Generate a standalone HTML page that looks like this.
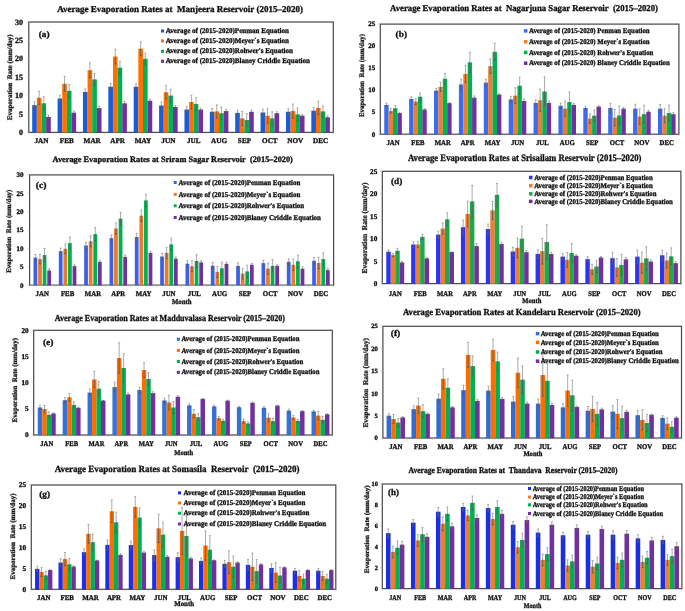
<!DOCTYPE html>
<html><head><meta charset="utf-8"><style>
html,body{margin:0;padding:0;background:#fff;}
body{width:685px;height:611px;overflow:hidden;}
svg{display:block;white-space:pre;will-change:transform;opacity:0.999;text-rendering:geometricPrecision;filter:blur(0.3px);font-family:"Liberation Serif",serif;font-weight:bold;}
</style></head><body>
<svg width="685" height="611" viewBox="0 0 685 611">
<rect width="685" height="611" fill="#fff"/>
<rect x="28.80" y="22.00" width="304.50" height="110.40" fill="none" stroke="#474747" stroke-width="1.2"/>
<rect x="32.20" y="105.17" width="4.64" height="27.48" fill="#1a5cd6"/>
<rect x="36.84" y="97.81" width="4.64" height="34.84" fill="#ff6f00"/>
<rect x="41.49" y="103.33" width="4.64" height="29.32" fill="#00b050"/>
<rect x="46.13" y="116.94" width="4.64" height="15.71" fill="#7030a0"/>
<rect x="57.58" y="98.54" width="4.64" height="34.11" fill="#1a5cd6"/>
<rect x="62.22" y="83.82" width="4.64" height="48.83" fill="#ff6f00"/>
<rect x="66.86" y="90.82" width="4.64" height="41.83" fill="#00b050"/>
<rect x="71.51" y="112.71" width="4.64" height="19.94" fill="#7030a0"/>
<rect x="82.95" y="91.92" width="4.64" height="40.73" fill="#1a5cd6"/>
<rect x="87.59" y="70.21" width="4.64" height="62.44" fill="#ff6f00"/>
<rect x="92.24" y="79.41" width="4.64" height="53.24" fill="#00b050"/>
<rect x="96.88" y="108.11" width="4.64" height="24.54" fill="#7030a0"/>
<rect x="108.33" y="86.77" width="4.64" height="45.88" fill="#1a5cd6"/>
<rect x="112.97" y="56.59" width="4.64" height="76.06" fill="#ff6f00"/>
<rect x="117.61" y="67.63" width="4.64" height="65.02" fill="#00b050"/>
<rect x="122.26" y="103.33" width="4.64" height="29.32" fill="#7030a0"/>
<rect x="133.70" y="86.77" width="4.64" height="45.88" fill="#1a5cd6"/>
<rect x="138.34" y="48.68" width="4.64" height="83.97" fill="#ff6f00"/>
<rect x="142.99" y="58.80" width="4.64" height="73.85" fill="#00b050"/>
<rect x="147.63" y="100.75" width="4.64" height="31.90" fill="#7030a0"/>
<rect x="159.08" y="105.54" width="4.64" height="27.11" fill="#1a5cd6"/>
<rect x="163.72" y="92.29" width="4.64" height="40.36" fill="#ff6f00"/>
<rect x="168.36" y="95.60" width="4.64" height="37.05" fill="#00b050"/>
<rect x="173.01" y="107.01" width="4.64" height="25.64" fill="#7030a0"/>
<rect x="184.45" y="109.58" width="4.64" height="23.07" fill="#1a5cd6"/>
<rect x="189.09" y="102.04" width="4.64" height="30.61" fill="#ff6f00"/>
<rect x="193.74" y="104.06" width="4.64" height="28.59" fill="#00b050"/>
<rect x="198.38" y="109.58" width="4.64" height="23.07" fill="#7030a0"/>
<rect x="209.83" y="111.79" width="4.64" height="20.86" fill="#1a5cd6"/>
<rect x="214.47" y="111.42" width="4.64" height="21.23" fill="#ff6f00"/>
<rect x="219.11" y="113.26" width="4.64" height="19.39" fill="#00b050"/>
<rect x="223.76" y="111.06" width="4.64" height="21.59" fill="#7030a0"/>
<rect x="235.20" y="112.90" width="4.64" height="19.75" fill="#1a5cd6"/>
<rect x="239.84" y="118.42" width="4.64" height="14.23" fill="#ff6f00"/>
<rect x="244.49" y="120.07" width="4.64" height="12.58" fill="#00b050"/>
<rect x="249.13" y="111.79" width="4.64" height="20.86" fill="#7030a0"/>
<rect x="260.58" y="112.53" width="4.64" height="20.12" fill="#1a5cd6"/>
<rect x="265.22" y="115.84" width="4.64" height="16.81" fill="#ff6f00"/>
<rect x="269.86" y="118.42" width="4.64" height="14.23" fill="#00b050"/>
<rect x="274.51" y="113.26" width="4.64" height="19.39" fill="#7030a0"/>
<rect x="285.95" y="111.79" width="4.64" height="20.86" fill="#1a5cd6"/>
<rect x="290.59" y="111.06" width="4.64" height="21.59" fill="#ff6f00"/>
<rect x="295.24" y="114.37" width="4.64" height="18.28" fill="#00b050"/>
<rect x="299.88" y="115.66" width="4.64" height="16.99" fill="#7030a0"/>
<rect x="311.33" y="110.69" width="4.64" height="21.96" fill="#1a5cd6"/>
<rect x="315.97" y="107.93" width="4.64" height="24.72" fill="#ff6f00"/>
<rect x="320.61" y="111.42" width="4.64" height="21.23" fill="#00b050"/>
<rect x="325.26" y="117.31" width="4.64" height="15.34" fill="#7030a0"/>
<path d="M34.52 101.86V108.48M33.52 101.86H35.52M33.52 108.48H35.52" stroke="#8f8f8f" stroke-width="0.75" fill="none"/>
<path d="M34.52 105.17V108.48M33.52 108.48H35.52" stroke="#202020" stroke-opacity="0.5" stroke-width="0.75" fill="none"/>
<path d="M39.17 91.18V104.43M38.17 91.18H40.17M38.17 104.43H40.17" stroke="#8f8f8f" stroke-width="0.75" fill="none"/>
<path d="M39.17 97.81V104.43M38.17 104.43H40.17" stroke="#202020" stroke-opacity="0.5" stroke-width="0.75" fill="none"/>
<path d="M43.81 96.70V109.95M42.81 96.70H44.81M42.81 109.95H44.81" stroke="#8f8f8f" stroke-width="0.75" fill="none"/>
<path d="M43.81 103.33V109.95M42.81 109.95H44.81" stroke="#202020" stroke-opacity="0.5" stroke-width="0.75" fill="none"/>
<path d="M48.45 115.10V118.78M47.45 115.10H49.45M47.45 118.78H49.45" stroke="#8f8f8f" stroke-width="0.75" fill="none"/>
<path d="M48.45 116.94V118.78M47.45 118.78H49.45" stroke="#202020" stroke-opacity="0.5" stroke-width="0.75" fill="none"/>
<path d="M59.90 95.23V101.86M58.90 95.23H60.90M58.90 101.86H60.90" stroke="#8f8f8f" stroke-width="0.75" fill="none"/>
<path d="M59.90 98.54V101.86M58.90 101.86H60.90" stroke="#202020" stroke-opacity="0.5" stroke-width="0.75" fill="none"/>
<path d="M64.54 76.46V91.18M63.54 76.46H65.54M63.54 91.18H65.54" stroke="#8f8f8f" stroke-width="0.75" fill="none"/>
<path d="M64.54 83.82V91.18M63.54 91.18H65.54" stroke="#202020" stroke-opacity="0.5" stroke-width="0.75" fill="none"/>
<path d="M69.18 84.56V97.07M68.18 84.56H70.18M68.18 97.07H70.18" stroke="#8f8f8f" stroke-width="0.75" fill="none"/>
<path d="M69.18 90.82V97.07M68.18 97.07H70.18" stroke="#202020" stroke-opacity="0.5" stroke-width="0.75" fill="none"/>
<path d="M73.83 111.06V114.37M72.83 111.06H74.83M72.83 114.37H74.83" stroke="#8f8f8f" stroke-width="0.75" fill="none"/>
<path d="M73.83 112.71V114.37M72.83 114.37H74.83" stroke="#202020" stroke-opacity="0.5" stroke-width="0.75" fill="none"/>
<path d="M85.27 88.98V94.86M84.27 88.98H86.27M84.27 94.86H86.27" stroke="#8f8f8f" stroke-width="0.75" fill="none"/>
<path d="M85.27 91.92V94.86M84.27 94.86H86.27" stroke="#202020" stroke-opacity="0.5" stroke-width="0.75" fill="none"/>
<path d="M89.92 62.85V77.57M88.92 62.85H90.92M88.92 77.57H90.92" stroke="#8f8f8f" stroke-width="0.75" fill="none"/>
<path d="M89.92 70.21V77.57M88.92 77.57H90.92" stroke="#202020" stroke-opacity="0.5" stroke-width="0.75" fill="none"/>
<path d="M94.56 73.52V85.30M93.56 73.52H95.56M93.56 85.30H95.56" stroke="#8f8f8f" stroke-width="0.75" fill="none"/>
<path d="M94.56 79.41V85.30M93.56 85.30H95.56" stroke="#202020" stroke-opacity="0.5" stroke-width="0.75" fill="none"/>
<path d="M99.20 106.27V109.95M98.20 106.27H100.20M98.20 109.95H100.20" stroke="#8f8f8f" stroke-width="0.75" fill="none"/>
<path d="M99.20 108.11V109.95M98.20 109.95H100.20" stroke="#202020" stroke-opacity="0.5" stroke-width="0.75" fill="none"/>
<path d="M110.65 83.46V90.08M109.65 83.46H111.65M109.65 90.08H111.65" stroke="#8f8f8f" stroke-width="0.75" fill="none"/>
<path d="M110.65 86.77V90.08M109.65 90.08H111.65" stroke="#202020" stroke-opacity="0.5" stroke-width="0.75" fill="none"/>
<path d="M115.29 49.23V63.95M114.29 49.23H116.29M114.29 63.95H116.29" stroke="#8f8f8f" stroke-width="0.75" fill="none"/>
<path d="M115.29 56.59V63.95M114.29 63.95H116.29" stroke="#202020" stroke-opacity="0.5" stroke-width="0.75" fill="none"/>
<path d="M119.93 61.38V73.89M118.93 61.38H120.93M118.93 73.89H120.93" stroke="#8f8f8f" stroke-width="0.75" fill="none"/>
<path d="M119.93 67.63V73.89M118.93 73.89H120.93" stroke="#202020" stroke-opacity="0.5" stroke-width="0.75" fill="none"/>
<path d="M124.58 101.49V105.17M123.58 101.49H125.58M123.58 105.17H125.58" stroke="#8f8f8f" stroke-width="0.75" fill="none"/>
<path d="M124.58 103.33V105.17M123.58 105.17H125.58" stroke="#202020" stroke-opacity="0.5" stroke-width="0.75" fill="none"/>
<path d="M136.02 83.82V89.71M135.02 83.82H137.02M135.02 89.71H137.02" stroke="#8f8f8f" stroke-width="0.75" fill="none"/>
<path d="M136.02 86.77V89.71M135.02 89.71H137.02" stroke="#202020" stroke-opacity="0.5" stroke-width="0.75" fill="none"/>
<path d="M140.67 41.69V55.67M139.67 41.69H141.67M139.67 55.67H141.67" stroke="#8f8f8f" stroke-width="0.75" fill="none"/>
<path d="M140.67 48.68V55.67M139.67 55.67H141.67" stroke="#202020" stroke-opacity="0.5" stroke-width="0.75" fill="none"/>
<path d="M145.31 53.28V64.32M144.31 53.28H146.31M144.31 64.32H146.31" stroke="#8f8f8f" stroke-width="0.75" fill="none"/>
<path d="M145.31 58.80V64.32M144.31 64.32H146.31" stroke="#202020" stroke-opacity="0.5" stroke-width="0.75" fill="none"/>
<path d="M149.95 99.28V102.22M148.95 99.28H150.95M148.95 102.22H150.95" stroke="#8f8f8f" stroke-width="0.75" fill="none"/>
<path d="M149.95 100.75V102.22M148.95 102.22H150.95" stroke="#202020" stroke-opacity="0.5" stroke-width="0.75" fill="none"/>
<path d="M161.40 102.22V108.85M160.40 102.22H162.40M160.40 108.85H162.40" stroke="#8f8f8f" stroke-width="0.75" fill="none"/>
<path d="M161.40 105.54V108.85M160.40 108.85H162.40" stroke="#202020" stroke-opacity="0.5" stroke-width="0.75" fill="none"/>
<path d="M166.04 85.66V98.91M165.04 85.66H167.04M165.04 98.91H167.04" stroke="#8f8f8f" stroke-width="0.75" fill="none"/>
<path d="M166.04 92.29V98.91M165.04 98.91H167.04" stroke="#202020" stroke-opacity="0.5" stroke-width="0.75" fill="none"/>
<path d="M170.68 89.34V101.86M169.68 89.34H171.68M169.68 101.86H171.68" stroke="#8f8f8f" stroke-width="0.75" fill="none"/>
<path d="M170.68 95.60V101.86M169.68 101.86H171.68" stroke="#202020" stroke-opacity="0.5" stroke-width="0.75" fill="none"/>
<path d="M175.33 105.54V108.48M174.33 105.54H176.33M174.33 108.48H176.33" stroke="#8f8f8f" stroke-width="0.75" fill="none"/>
<path d="M175.33 107.01V108.48M174.33 108.48H176.33" stroke="#202020" stroke-opacity="0.5" stroke-width="0.75" fill="none"/>
<path d="M186.77 106.64V112.53M185.77 106.64H187.77M185.77 112.53H187.77" stroke="#8f8f8f" stroke-width="0.75" fill="none"/>
<path d="M186.77 109.58V112.53M185.77 112.53H187.77" stroke="#202020" stroke-opacity="0.5" stroke-width="0.75" fill="none"/>
<path d="M191.42 95.23V108.85M190.42 95.23H192.42M190.42 108.85H192.42" stroke="#8f8f8f" stroke-width="0.75" fill="none"/>
<path d="M191.42 102.04V108.85M190.42 108.85H192.42" stroke="#202020" stroke-opacity="0.5" stroke-width="0.75" fill="none"/>
<path d="M196.06 97.81V110.32M195.06 97.81H197.06M195.06 110.32H197.06" stroke="#8f8f8f" stroke-width="0.75" fill="none"/>
<path d="M196.06 104.06V110.32M195.06 110.32H197.06" stroke="#202020" stroke-opacity="0.5" stroke-width="0.75" fill="none"/>
<path d="M200.70 108.11V111.06M199.70 108.11H201.70M199.70 111.06H201.70" stroke="#8f8f8f" stroke-width="0.75" fill="none"/>
<path d="M200.70 109.58V111.06M199.70 111.06H201.70" stroke="#202020" stroke-opacity="0.5" stroke-width="0.75" fill="none"/>
<path d="M212.15 108.48V115.10M211.15 108.48H213.15M211.15 115.10H213.15" stroke="#8f8f8f" stroke-width="0.75" fill="none"/>
<path d="M212.15 111.79V115.10M211.15 115.10H213.15" stroke="#202020" stroke-opacity="0.5" stroke-width="0.75" fill="none"/>
<path d="M216.79 104.80V118.05M215.79 104.80H217.79M215.79 118.05H217.79" stroke="#8f8f8f" stroke-width="0.75" fill="none"/>
<path d="M216.79 111.42V118.05M215.79 118.05H217.79" stroke="#202020" stroke-opacity="0.5" stroke-width="0.75" fill="none"/>
<path d="M221.43 107.01V119.52M220.43 107.01H222.43M220.43 119.52H222.43" stroke="#8f8f8f" stroke-width="0.75" fill="none"/>
<path d="M221.43 113.26V119.52M220.43 119.52H222.43" stroke="#202020" stroke-opacity="0.5" stroke-width="0.75" fill="none"/>
<path d="M226.08 109.22V112.90M225.08 109.22H227.08M225.08 112.90H227.08" stroke="#8f8f8f" stroke-width="0.75" fill="none"/>
<path d="M226.08 111.06V112.90M225.08 112.90H227.08" stroke="#202020" stroke-opacity="0.5" stroke-width="0.75" fill="none"/>
<path d="M237.52 110.14V115.66M236.52 110.14H238.52M236.52 115.66H238.52" stroke="#8f8f8f" stroke-width="0.75" fill="none"/>
<path d="M237.52 112.90V115.66M236.52 115.66H238.52" stroke="#202020" stroke-opacity="0.5" stroke-width="0.75" fill="none"/>
<path d="M242.17 111.42V125.41M241.17 111.42H243.17M241.17 125.41H243.17" stroke="#8f8f8f" stroke-width="0.75" fill="none"/>
<path d="M242.17 118.42V125.41M241.17 125.41H243.17" stroke="#202020" stroke-opacity="0.5" stroke-width="0.75" fill="none"/>
<path d="M246.81 113.82V126.33M245.81 113.82H247.81M245.81 126.33H247.81" stroke="#8f8f8f" stroke-width="0.75" fill="none"/>
<path d="M246.81 120.07V126.33M245.81 126.33H247.81" stroke="#202020" stroke-opacity="0.5" stroke-width="0.75" fill="none"/>
<path d="M251.45 109.95V113.63M250.45 109.95H252.45M250.45 113.63H252.45" stroke="#8f8f8f" stroke-width="0.75" fill="none"/>
<path d="M251.45 111.79V113.63M250.45 113.63H252.45" stroke="#202020" stroke-opacity="0.5" stroke-width="0.75" fill="none"/>
<path d="M262.90 109.22V115.84M261.90 109.22H263.90M261.90 115.84H263.90" stroke="#8f8f8f" stroke-width="0.75" fill="none"/>
<path d="M262.90 112.53V115.84M261.90 115.84H263.90" stroke="#202020" stroke-opacity="0.5" stroke-width="0.75" fill="none"/>
<path d="M267.54 108.66V123.02M266.54 108.66H268.54M266.54 123.02H268.54" stroke="#8f8f8f" stroke-width="0.75" fill="none"/>
<path d="M267.54 115.84V123.02M266.54 123.02H268.54" stroke="#202020" stroke-opacity="0.5" stroke-width="0.75" fill="none"/>
<path d="M272.18 111.79V125.04M271.18 111.79H273.18M271.18 125.04H273.18" stroke="#8f8f8f" stroke-width="0.75" fill="none"/>
<path d="M272.18 118.42V125.04M271.18 125.04H273.18" stroke="#202020" stroke-opacity="0.5" stroke-width="0.75" fill="none"/>
<path d="M276.83 111.79V114.74M275.83 111.79H277.83M275.83 114.74H277.83" stroke="#8f8f8f" stroke-width="0.75" fill="none"/>
<path d="M276.83 113.26V114.74M275.83 114.74H277.83" stroke="#202020" stroke-opacity="0.5" stroke-width="0.75" fill="none"/>
<path d="M288.27 108.66V114.92M287.27 108.66H289.27M287.27 114.92H289.27" stroke="#8f8f8f" stroke-width="0.75" fill="none"/>
<path d="M288.27 111.79V114.92M287.27 114.92H289.27" stroke="#202020" stroke-opacity="0.5" stroke-width="0.75" fill="none"/>
<path d="M292.92 104.06V118.05M291.92 104.06H293.92M291.92 118.05H293.92" stroke="#8f8f8f" stroke-width="0.75" fill="none"/>
<path d="M292.92 111.06V118.05M291.92 118.05H293.92" stroke="#202020" stroke-opacity="0.5" stroke-width="0.75" fill="none"/>
<path d="M297.56 107.93V120.81M296.56 107.93H298.56M296.56 120.81H298.56" stroke="#8f8f8f" stroke-width="0.75" fill="none"/>
<path d="M297.56 114.37V120.81M296.56 120.81H298.56" stroke="#202020" stroke-opacity="0.5" stroke-width="0.75" fill="none"/>
<path d="M302.20 114.18V117.13M301.20 114.18H303.20M301.20 117.13H303.20" stroke="#8f8f8f" stroke-width="0.75" fill="none"/>
<path d="M302.20 115.66V117.13M301.20 117.13H303.20" stroke="#202020" stroke-opacity="0.5" stroke-width="0.75" fill="none"/>
<path d="M313.65 107.38V114.00M312.65 107.38H314.65M312.65 114.00H314.65" stroke="#8f8f8f" stroke-width="0.75" fill="none"/>
<path d="M313.65 110.69V114.00M312.65 114.00H314.65" stroke="#202020" stroke-opacity="0.5" stroke-width="0.75" fill="none"/>
<path d="M318.29 101.12V114.74M317.29 101.12H319.29M317.29 114.74H319.29" stroke="#8f8f8f" stroke-width="0.75" fill="none"/>
<path d="M318.29 107.93V114.74M317.29 114.74H319.29" stroke="#202020" stroke-opacity="0.5" stroke-width="0.75" fill="none"/>
<path d="M322.93 105.90V116.94M321.93 105.90H323.93M321.93 116.94H323.93" stroke="#8f8f8f" stroke-width="0.75" fill="none"/>
<path d="M322.93 111.42V116.94M321.93 116.94H323.93" stroke="#202020" stroke-opacity="0.5" stroke-width="0.75" fill="none"/>
<path d="M327.58 115.84V118.78M326.58 115.84H328.58M326.58 118.78H328.58" stroke="#8f8f8f" stroke-width="0.75" fill="none"/>
<path d="M327.58 117.31V118.78M326.58 118.78H328.58" stroke="#202020" stroke-opacity="0.5" stroke-width="0.75" fill="none"/>
<line x1="28.80" y1="132.40" x2="28.80" y2="134.40" stroke="#b0b0b0" stroke-width="0.6"/>
<line x1="54.17" y1="132.40" x2="54.17" y2="134.40" stroke="#b0b0b0" stroke-width="0.6"/>
<line x1="79.55" y1="132.40" x2="79.55" y2="134.40" stroke="#b0b0b0" stroke-width="0.6"/>
<line x1="104.92" y1="132.40" x2="104.92" y2="134.40" stroke="#b0b0b0" stroke-width="0.6"/>
<line x1="130.30" y1="132.40" x2="130.30" y2="134.40" stroke="#b0b0b0" stroke-width="0.6"/>
<line x1="155.68" y1="132.40" x2="155.68" y2="134.40" stroke="#b0b0b0" stroke-width="0.6"/>
<line x1="181.05" y1="132.40" x2="181.05" y2="134.40" stroke="#b0b0b0" stroke-width="0.6"/>
<line x1="206.43" y1="132.40" x2="206.43" y2="134.40" stroke="#b0b0b0" stroke-width="0.6"/>
<line x1="231.80" y1="132.40" x2="231.80" y2="134.40" stroke="#b0b0b0" stroke-width="0.6"/>
<line x1="257.18" y1="132.40" x2="257.18" y2="134.40" stroke="#b0b0b0" stroke-width="0.6"/>
<line x1="282.55" y1="132.40" x2="282.55" y2="134.40" stroke="#b0b0b0" stroke-width="0.6"/>
<line x1="307.93" y1="132.40" x2="307.93" y2="134.40" stroke="#b0b0b0" stroke-width="0.6"/>
<line x1="333.30" y1="132.40" x2="333.30" y2="134.40" stroke="#b0b0b0" stroke-width="0.6"/>
<text x="23.10" y="135.04" font-size="8.0" text-anchor="end" fill="#0d0d0d" stroke="#0d0d0d" stroke-width="0.3">0</text>
<line x1="26.80" y1="132.40" x2="28.80" y2="132.40" stroke="#b0b0b0" stroke-width="0.6"/>
<text x="23.10" y="116.64" font-size="8.0" text-anchor="end" fill="#0d0d0d" stroke="#0d0d0d" stroke-width="0.3">5</text>
<line x1="26.80" y1="114.00" x2="28.80" y2="114.00" stroke="#b0b0b0" stroke-width="0.6"/>
<text x="23.10" y="98.24" font-size="8.0" text-anchor="end" fill="#0d0d0d" stroke="#0d0d0d" stroke-width="0.3">10</text>
<line x1="26.80" y1="95.60" x2="28.80" y2="95.60" stroke="#b0b0b0" stroke-width="0.6"/>
<text x="23.10" y="79.84" font-size="8.0" text-anchor="end" fill="#0d0d0d" stroke="#0d0d0d" stroke-width="0.3">15</text>
<line x1="26.80" y1="77.20" x2="28.80" y2="77.20" stroke="#b0b0b0" stroke-width="0.6"/>
<text x="23.10" y="61.44" font-size="8.0" text-anchor="end" fill="#0d0d0d" stroke="#0d0d0d" stroke-width="0.3">20</text>
<line x1="26.80" y1="58.80" x2="28.80" y2="58.80" stroke="#b0b0b0" stroke-width="0.6"/>
<text x="23.10" y="43.04" font-size="8.0" text-anchor="end" fill="#0d0d0d" stroke="#0d0d0d" stroke-width="0.3">25</text>
<line x1="26.80" y1="40.40" x2="28.80" y2="40.40" stroke="#b0b0b0" stroke-width="0.6"/>
<text x="23.10" y="24.64" font-size="8.0" text-anchor="end" fill="#0d0d0d" stroke="#0d0d0d" stroke-width="0.3">30</text>
<line x1="26.80" y1="22.00" x2="28.80" y2="22.00" stroke="#b0b0b0" stroke-width="0.6"/>
<text x="41.49" y="143.38" font-size="7.2" text-anchor="middle" textLength="14.00" lengthAdjust="spacingAndGlyphs" fill="#0d0d0d" stroke="#0d0d0d" stroke-width="0.3">JAN</text>
<text x="66.86" y="143.38" font-size="7.2" text-anchor="middle" textLength="14.00" lengthAdjust="spacingAndGlyphs" fill="#0d0d0d" stroke="#0d0d0d" stroke-width="0.3">FEB</text>
<text x="92.24" y="143.38" font-size="7.2" text-anchor="middle" textLength="17.20" lengthAdjust="spacingAndGlyphs" fill="#0d0d0d" stroke="#0d0d0d" stroke-width="0.3">MAR</text>
<text x="117.61" y="143.38" font-size="7.2" text-anchor="middle" textLength="14.80" lengthAdjust="spacingAndGlyphs" fill="#0d0d0d" stroke="#0d0d0d" stroke-width="0.3">APR</text>
<text x="142.99" y="143.38" font-size="7.2" text-anchor="middle" textLength="16.54" lengthAdjust="spacingAndGlyphs" fill="#0d0d0d" stroke="#0d0d0d" stroke-width="0.3">MAY</text>
<text x="168.36" y="143.38" font-size="7.2" text-anchor="middle" textLength="14.00" lengthAdjust="spacingAndGlyphs" fill="#0d0d0d" stroke="#0d0d0d" stroke-width="0.3">JUN</text>
<text x="193.74" y="143.38" font-size="7.2" text-anchor="middle" textLength="13.60" lengthAdjust="spacingAndGlyphs" fill="#0d0d0d" stroke="#0d0d0d" stroke-width="0.3">JUL</text>
<text x="219.11" y="143.38" font-size="7.2" text-anchor="middle" textLength="16.00" lengthAdjust="spacingAndGlyphs" fill="#0d0d0d" stroke="#0d0d0d" stroke-width="0.3">AUG</text>
<text x="244.49" y="143.38" font-size="7.2" text-anchor="middle" textLength="13.20" lengthAdjust="spacingAndGlyphs" fill="#0d0d0d" stroke="#0d0d0d" stroke-width="0.3">SEP</text>
<text x="269.86" y="143.38" font-size="7.2" text-anchor="middle" textLength="15.60" lengthAdjust="spacingAndGlyphs" fill="#0d0d0d" stroke="#0d0d0d" stroke-width="0.3">OCT</text>
<text x="295.24" y="143.38" font-size="7.2" text-anchor="middle" textLength="16.00" lengthAdjust="spacingAndGlyphs" fill="#0d0d0d" stroke="#0d0d0d" stroke-width="0.3">NOV</text>
<text x="320.61" y="143.38" font-size="7.2" text-anchor="middle" textLength="15.20" lengthAdjust="spacingAndGlyphs" fill="#0d0d0d" stroke="#0d0d0d" stroke-width="0.3">DEC</text>
<text transform="translate(12.15 77.30) rotate(-90)" x="0" y="0" font-size="7" text-anchor="middle" textLength="86.00" lengthAdjust="spacingAndGlyphs" fill="#1a1a1a" stroke="#1a1a1a" stroke-width="0.3">Evaporation  Rate (mm/day)</text>
<text x="57.20" y="12.00" font-size="9.0" textLength="245.80" lengthAdjust="spacingAndGlyphs" fill="#0d0d0d" stroke="#0d0d0d" stroke-width="0.3">Average Evaporation Rates at  Manjeera Reservoir (2015–2020)</text>
<text x="38.70" y="36.60" font-size="8.8" textLength="10.90" lengthAdjust="spacingAndGlyphs" fill="#0d0d0d" stroke="#0d0d0d" stroke-width="0.3">(a)</text>
<rect x="161.00" y="29.45" width="3.10" height="3.10" fill="#1a5cd6"/>
<text x="165.80" y="33.14" font-size="7.4" textLength="123.20" lengthAdjust="spacingAndGlyphs" fill="#0d0d0d" stroke="#0d0d0d" stroke-width="0.3">Average of (2015-2020)Penman Equation</text>
<rect x="161.00" y="39.35" width="3.10" height="3.10" fill="#ff6f00"/>
<text x="165.80" y="43.04" font-size="7.4" textLength="123.19" lengthAdjust="spacingAndGlyphs" fill="#0d0d0d" stroke="#0d0d0d" stroke-width="0.3">Average of (2015-2020)Meyer`s Equation</text>
<rect x="161.00" y="49.75" width="3.10" height="3.10" fill="#00b050"/>
<text x="165.80" y="53.44" font-size="7.4" textLength="127.11" lengthAdjust="spacingAndGlyphs" fill="#0d0d0d" stroke="#0d0d0d" stroke-width="0.3">Average of (2015-2020)Rohwer's Equation</text>
<rect x="161.00" y="59.75" width="3.10" height="3.10" fill="#7030a0"/>
<text x="165.80" y="63.44" font-size="7.4" textLength="144.12" lengthAdjust="spacingAndGlyphs" fill="#0d0d0d" stroke="#0d0d0d" stroke-width="0.3">Average of (2015-2020)Blaney Criddle Equation</text>
<rect x="380.30" y="24.10" width="298.60" height="110.10" fill="none" stroke="#474747" stroke-width="1.2"/>
<rect x="384.25" y="104.91" width="4.40" height="29.54" fill="#3a6cec"/>
<rect x="388.64" y="110.86" width="4.40" height="23.59" fill="#ed7d31"/>
<rect x="393.04" y="108.22" width="4.40" height="26.23" fill="#00b050"/>
<rect x="397.44" y="113.06" width="4.40" height="21.39" fill="#7030a0"/>
<rect x="409.13" y="98.97" width="4.40" height="35.48" fill="#3a6cec"/>
<rect x="413.53" y="101.61" width="4.40" height="32.84" fill="#ed7d31"/>
<rect x="417.93" y="96.77" width="4.40" height="37.68" fill="#00b050"/>
<rect x="422.32" y="109.54" width="4.40" height="24.91" fill="#7030a0"/>
<rect x="434.01" y="90.60" width="4.40" height="43.85" fill="#3a6cec"/>
<rect x="438.41" y="86.86" width="4.40" height="47.59" fill="#ed7d31"/>
<rect x="442.81" y="78.71" width="4.40" height="55.74" fill="#00b050"/>
<rect x="447.21" y="103.15" width="4.40" height="31.30" fill="#7030a0"/>
<rect x="458.90" y="84.43" width="4.40" height="50.02" fill="#3a6cec"/>
<rect x="463.29" y="73.87" width="4.40" height="60.58" fill="#ed7d31"/>
<rect x="467.69" y="62.41" width="4.40" height="72.04" fill="#00b050"/>
<rect x="472.09" y="97.65" width="4.40" height="36.80" fill="#7030a0"/>
<rect x="483.78" y="82.67" width="4.40" height="51.78" fill="#3a6cec"/>
<rect x="488.18" y="66.16" width="4.40" height="68.29" fill="#ed7d31"/>
<rect x="492.57" y="51.85" width="4.40" height="82.60" fill="#00b050"/>
<rect x="496.97" y="94.56" width="4.40" height="39.89" fill="#7030a0"/>
<rect x="508.66" y="99.41" width="4.40" height="35.04" fill="#3a6cec"/>
<rect x="513.06" y="95.66" width="4.40" height="38.78" fill="#ed7d31"/>
<rect x="517.46" y="85.76" width="4.40" height="48.69" fill="#00b050"/>
<rect x="521.86" y="100.95" width="4.40" height="33.50" fill="#7030a0"/>
<rect x="533.55" y="102.93" width="4.40" height="31.52" fill="#3a6cec"/>
<rect x="537.94" y="100.29" width="4.40" height="34.16" fill="#ed7d31"/>
<rect x="542.34" y="91.48" width="4.40" height="42.97" fill="#00b050"/>
<rect x="546.74" y="102.93" width="4.40" height="31.52" fill="#7030a0"/>
<rect x="558.43" y="105.79" width="4.40" height="28.66" fill="#3a6cec"/>
<rect x="562.83" y="108.66" width="4.40" height="25.79" fill="#ed7d31"/>
<rect x="567.22" y="102.05" width="4.40" height="32.40" fill="#00b050"/>
<rect x="571.62" y="104.91" width="4.40" height="29.54" fill="#7030a0"/>
<rect x="583.31" y="108.00" width="4.40" height="26.45" fill="#3a6cec"/>
<rect x="587.71" y="118.57" width="4.40" height="15.88" fill="#ed7d31"/>
<rect x="592.11" y="115.70" width="4.40" height="18.75" fill="#00b050"/>
<rect x="596.51" y="106.67" width="4.40" height="27.78" fill="#7030a0"/>
<rect x="608.20" y="108.00" width="4.40" height="26.45" fill="#3a6cec"/>
<rect x="612.59" y="117.68" width="4.40" height="16.77" fill="#ed7d31"/>
<rect x="616.99" y="115.48" width="4.40" height="18.97" fill="#00b050"/>
<rect x="621.39" y="108.66" width="4.40" height="25.79" fill="#7030a0"/>
<rect x="633.08" y="108.66" width="4.40" height="25.79" fill="#3a6cec"/>
<rect x="637.48" y="116.58" width="4.40" height="17.87" fill="#ed7d31"/>
<rect x="641.87" y="114.16" width="4.40" height="20.29" fill="#00b050"/>
<rect x="646.27" y="111.74" width="4.40" height="22.71" fill="#7030a0"/>
<rect x="657.96" y="108.66" width="4.40" height="25.79" fill="#3a6cec"/>
<rect x="662.36" y="115.70" width="4.40" height="18.75" fill="#ed7d31"/>
<rect x="666.76" y="113.06" width="4.40" height="21.39" fill="#00b050"/>
<rect x="671.16" y="114.16" width="4.40" height="20.29" fill="#7030a0"/>
<path d="M386.44 103.15V106.67M385.44 103.15H387.44M385.44 106.67H387.44" stroke="#8f8f8f" stroke-width="0.75" fill="none"/>
<path d="M386.44 104.91V106.67M385.44 106.67H387.44" stroke="#202020" stroke-opacity="0.5" stroke-width="0.75" fill="none"/>
<path d="M390.84 108.66V113.06M389.84 108.66H391.84M389.84 113.06H391.84" stroke="#8f8f8f" stroke-width="0.75" fill="none"/>
<path d="M390.84 110.86V113.06M389.84 113.06H391.84" stroke="#202020" stroke-opacity="0.5" stroke-width="0.75" fill="none"/>
<path d="M395.24 105.57V110.86M394.24 105.57H396.24M394.24 110.86H396.24" stroke="#8f8f8f" stroke-width="0.75" fill="none"/>
<path d="M395.24 108.22V110.86M394.24 110.86H396.24" stroke="#202020" stroke-opacity="0.5" stroke-width="0.75" fill="none"/>
<path d="M399.64 112.18V113.94M398.64 112.18H400.64M398.64 113.94H400.64" stroke="#8f8f8f" stroke-width="0.75" fill="none"/>
<path d="M399.64 113.06V113.94M398.64 113.94H400.64" stroke="#202020" stroke-opacity="0.5" stroke-width="0.75" fill="none"/>
<path d="M411.33 96.77V101.17M410.33 96.77H412.33M410.33 101.17H412.33" stroke="#8f8f8f" stroke-width="0.75" fill="none"/>
<path d="M411.33 98.97V101.17M410.33 101.17H412.33" stroke="#202020" stroke-opacity="0.5" stroke-width="0.75" fill="none"/>
<path d="M415.73 98.53V104.69M414.73 98.53H416.73M414.73 104.69H416.73" stroke="#8f8f8f" stroke-width="0.75" fill="none"/>
<path d="M415.73 101.61V104.69M414.73 104.69H416.73" stroke="#202020" stroke-opacity="0.5" stroke-width="0.75" fill="none"/>
<path d="M420.12 93.02V100.51M419.12 93.02H421.12M419.12 100.51H421.12" stroke="#8f8f8f" stroke-width="0.75" fill="none"/>
<path d="M420.12 96.77V100.51M419.12 100.51H421.12" stroke="#202020" stroke-opacity="0.5" stroke-width="0.75" fill="none"/>
<path d="M424.52 108.66V110.42M423.52 108.66H425.52M423.52 110.42H425.52" stroke="#8f8f8f" stroke-width="0.75" fill="none"/>
<path d="M424.52 109.54V110.42M423.52 110.42H425.52" stroke="#202020" stroke-opacity="0.5" stroke-width="0.75" fill="none"/>
<path d="M436.21 88.40V92.80M435.21 88.40H437.21M435.21 92.80H437.21" stroke="#8f8f8f" stroke-width="0.75" fill="none"/>
<path d="M436.21 90.60V92.80M435.21 92.80H437.21" stroke="#202020" stroke-opacity="0.5" stroke-width="0.75" fill="none"/>
<path d="M440.61 82.23V91.48M439.61 82.23H441.61M439.61 91.48H441.61" stroke="#8f8f8f" stroke-width="0.75" fill="none"/>
<path d="M440.61 86.86V91.48M439.61 91.48H441.61" stroke="#202020" stroke-opacity="0.5" stroke-width="0.75" fill="none"/>
<path d="M445.01 73.42V83.99M444.01 73.42H446.01M444.01 83.99H446.01" stroke="#8f8f8f" stroke-width="0.75" fill="none"/>
<path d="M445.01 78.71V83.99M444.01 83.99H446.01" stroke="#202020" stroke-opacity="0.5" stroke-width="0.75" fill="none"/>
<path d="M449.41 102.71V103.59M448.41 102.71H450.41M448.41 103.59H450.41" stroke="#8f8f8f" stroke-width="0.75" fill="none"/>
<path d="M449.41 103.15V103.59M448.41 103.59H450.41" stroke="#202020" stroke-opacity="0.5" stroke-width="0.75" fill="none"/>
<path d="M461.09 79.15V89.72M460.09 79.15H462.09M460.09 89.72H462.09" stroke="#8f8f8f" stroke-width="0.75" fill="none"/>
<path d="M461.09 84.43V89.72M460.09 89.72H462.09" stroke="#202020" stroke-opacity="0.5" stroke-width="0.75" fill="none"/>
<path d="M465.49 65.28V82.45M464.49 65.28H466.49M464.49 82.45H466.49" stroke="#8f8f8f" stroke-width="0.75" fill="none"/>
<path d="M465.49 73.87V82.45M464.49 82.45H466.49" stroke="#202020" stroke-opacity="0.5" stroke-width="0.75" fill="none"/>
<path d="M469.89 52.29V72.54M468.89 52.29H470.89M468.89 72.54H470.89" stroke="#8f8f8f" stroke-width="0.75" fill="none"/>
<path d="M469.89 62.41V72.54M468.89 72.54H470.89" stroke="#202020" stroke-opacity="0.5" stroke-width="0.75" fill="none"/>
<path d="M474.29 95.89V99.41M473.29 95.89H475.29M473.29 99.41H475.29" stroke="#8f8f8f" stroke-width="0.75" fill="none"/>
<path d="M474.29 97.65V99.41M473.29 99.41H475.29" stroke="#202020" stroke-opacity="0.5" stroke-width="0.75" fill="none"/>
<path d="M485.98 79.15V86.20M484.98 79.15H486.98M484.98 86.20H486.98" stroke="#8f8f8f" stroke-width="0.75" fill="none"/>
<path d="M485.98 82.67V86.20M484.98 86.20H486.98" stroke="#202020" stroke-opacity="0.5" stroke-width="0.75" fill="none"/>
<path d="M490.38 58.89V73.42M489.38 58.89H491.38M489.38 73.42H491.38" stroke="#8f8f8f" stroke-width="0.75" fill="none"/>
<path d="M490.38 66.16V73.42M489.38 73.42H491.38" stroke="#202020" stroke-opacity="0.5" stroke-width="0.75" fill="none"/>
<path d="M494.77 43.26V60.43M493.77 43.26H495.77M493.77 60.43H495.77" stroke="#8f8f8f" stroke-width="0.75" fill="none"/>
<path d="M494.77 51.85V60.43M493.77 60.43H495.77" stroke="#202020" stroke-opacity="0.5" stroke-width="0.75" fill="none"/>
<path d="M499.17 93.46V95.66M498.17 93.46H500.17M498.17 95.66H500.17" stroke="#8f8f8f" stroke-width="0.75" fill="none"/>
<path d="M499.17 94.56V95.66M498.17 95.66H500.17" stroke="#202020" stroke-opacity="0.5" stroke-width="0.75" fill="none"/>
<path d="M510.86 96.33V102.49M509.86 96.33H511.86M509.86 102.49H511.86" stroke="#8f8f8f" stroke-width="0.75" fill="none"/>
<path d="M510.86 99.41V102.49M509.86 102.49H511.86" stroke="#202020" stroke-opacity="0.5" stroke-width="0.75" fill="none"/>
<path d="M515.26 87.74V103.59M514.26 87.74H516.26M514.26 103.59H516.26" stroke="#8f8f8f" stroke-width="0.75" fill="none"/>
<path d="M515.26 95.66V103.59M514.26 103.59H516.26" stroke="#202020" stroke-opacity="0.5" stroke-width="0.75" fill="none"/>
<path d="M519.66 77.17V94.34M518.66 77.17H520.66M518.66 94.34H520.66" stroke="#8f8f8f" stroke-width="0.75" fill="none"/>
<path d="M519.66 85.76V94.34M518.66 94.34H520.66" stroke="#202020" stroke-opacity="0.5" stroke-width="0.75" fill="none"/>
<path d="M524.06 98.97V102.93M523.06 98.97H525.06M523.06 102.93H525.06" stroke="#8f8f8f" stroke-width="0.75" fill="none"/>
<path d="M524.06 100.95V102.93M523.06 102.93H525.06" stroke="#202020" stroke-opacity="0.5" stroke-width="0.75" fill="none"/>
<path d="M535.74 99.85V106.01M534.74 99.85H536.74M534.74 106.01H536.74" stroke="#8f8f8f" stroke-width="0.75" fill="none"/>
<path d="M535.74 102.93V106.01M534.74 106.01H536.74" stroke="#202020" stroke-opacity="0.5" stroke-width="0.75" fill="none"/>
<path d="M540.14 89.28V111.30M539.14 89.28H541.14M539.14 111.30H541.14" stroke="#8f8f8f" stroke-width="0.75" fill="none"/>
<path d="M540.14 100.29V111.30M539.14 111.30H541.14" stroke="#202020" stroke-opacity="0.5" stroke-width="0.75" fill="none"/>
<path d="M544.54 76.95V106.01M543.54 76.95H545.54M543.54 106.01H545.54" stroke="#8f8f8f" stroke-width="0.75" fill="none"/>
<path d="M544.54 91.48V106.01M543.54 106.01H545.54" stroke="#202020" stroke-opacity="0.5" stroke-width="0.75" fill="none"/>
<path d="M548.94 101.17V104.69M547.94 101.17H549.94M547.94 104.69H549.94" stroke="#8f8f8f" stroke-width="0.75" fill="none"/>
<path d="M548.94 102.93V104.69M547.94 104.69H549.94" stroke="#202020" stroke-opacity="0.5" stroke-width="0.75" fill="none"/>
<path d="M560.63 102.93V108.66M559.63 102.93H561.63M559.63 108.66H561.63" stroke="#8f8f8f" stroke-width="0.75" fill="none"/>
<path d="M560.63 105.79V108.66M559.63 108.66H561.63" stroke="#202020" stroke-opacity="0.5" stroke-width="0.75" fill="none"/>
<path d="M565.03 101.17V116.14M564.03 101.17H566.03M564.03 116.14H566.03" stroke="#8f8f8f" stroke-width="0.75" fill="none"/>
<path d="M565.03 108.66V116.14M564.03 116.14H566.03" stroke="#202020" stroke-opacity="0.5" stroke-width="0.75" fill="none"/>
<path d="M569.42 91.92V112.18M568.42 91.92H570.42M568.42 112.18H570.42" stroke="#8f8f8f" stroke-width="0.75" fill="none"/>
<path d="M569.42 102.05V112.18M568.42 112.18H570.42" stroke="#202020" stroke-opacity="0.5" stroke-width="0.75" fill="none"/>
<path d="M573.82 103.59V106.23M572.82 103.59H574.82M572.82 106.23H574.82" stroke="#8f8f8f" stroke-width="0.75" fill="none"/>
<path d="M573.82 104.91V106.23M572.82 106.23H574.82" stroke="#202020" stroke-opacity="0.5" stroke-width="0.75" fill="none"/>
<path d="M585.51 106.23V109.76M584.51 106.23H586.51M584.51 109.76H586.51" stroke="#8f8f8f" stroke-width="0.75" fill="none"/>
<path d="M585.51 108.00V109.76M584.51 109.76H586.51" stroke="#202020" stroke-opacity="0.5" stroke-width="0.75" fill="none"/>
<path d="M589.91 113.72V123.41M588.91 113.72H590.91M588.91 123.41H590.91" stroke="#8f8f8f" stroke-width="0.75" fill="none"/>
<path d="M589.91 118.57V123.41M588.91 123.41H590.91" stroke="#202020" stroke-opacity="0.5" stroke-width="0.75" fill="none"/>
<path d="M594.31 109.98V121.43M593.31 109.98H595.31M593.31 121.43H595.31" stroke="#8f8f8f" stroke-width="0.75" fill="none"/>
<path d="M594.31 115.70V121.43M593.31 121.43H595.31" stroke="#202020" stroke-opacity="0.5" stroke-width="0.75" fill="none"/>
<path d="M598.71 105.79V107.56M597.71 105.79H599.71M597.71 107.56H599.71" stroke="#8f8f8f" stroke-width="0.75" fill="none"/>
<path d="M598.71 106.67V107.56M597.71 107.56H599.71" stroke="#202020" stroke-opacity="0.5" stroke-width="0.75" fill="none"/>
<path d="M610.39 103.37V112.62M609.39 103.37H611.39M609.39 112.62H611.39" stroke="#8f8f8f" stroke-width="0.75" fill="none"/>
<path d="M610.39 108.00V112.62M609.39 112.62H611.39" stroke="#202020" stroke-opacity="0.5" stroke-width="0.75" fill="none"/>
<path d="M614.79 109.54V125.83M613.79 109.54H615.79M613.79 125.83H615.79" stroke="#8f8f8f" stroke-width="0.75" fill="none"/>
<path d="M614.79 117.68V125.83M613.79 125.83H615.79" stroke="#202020" stroke-opacity="0.5" stroke-width="0.75" fill="none"/>
<path d="M619.19 106.01V124.95M618.19 106.01H620.19M618.19 124.95H620.19" stroke="#8f8f8f" stroke-width="0.75" fill="none"/>
<path d="M619.19 115.48V124.95M618.19 124.95H620.19" stroke="#202020" stroke-opacity="0.5" stroke-width="0.75" fill="none"/>
<path d="M623.59 107.34V109.98M622.59 107.34H624.59M622.59 109.98H624.59" stroke="#8f8f8f" stroke-width="0.75" fill="none"/>
<path d="M623.59 108.66V109.98M622.59 109.98H624.59" stroke="#202020" stroke-opacity="0.5" stroke-width="0.75" fill="none"/>
<path d="M635.28 104.25V113.06M634.28 104.25H636.28M634.28 113.06H636.28" stroke="#8f8f8f" stroke-width="0.75" fill="none"/>
<path d="M635.28 108.66V113.06M634.28 113.06H636.28" stroke="#202020" stroke-opacity="0.5" stroke-width="0.75" fill="none"/>
<path d="M639.68 108.88V124.29M638.68 108.88H640.68M638.68 124.29H640.68" stroke="#8f8f8f" stroke-width="0.75" fill="none"/>
<path d="M639.68 116.58V124.29M638.68 124.29H640.68" stroke="#202020" stroke-opacity="0.5" stroke-width="0.75" fill="none"/>
<path d="M644.07 105.35V122.97M643.07 105.35H645.07M643.07 122.97H645.07" stroke="#8f8f8f" stroke-width="0.75" fill="none"/>
<path d="M644.07 114.16V122.97M643.07 122.97H645.07" stroke="#202020" stroke-opacity="0.5" stroke-width="0.75" fill="none"/>
<path d="M648.47 110.42V113.06M647.47 110.42H649.47M647.47 113.06H649.47" stroke="#8f8f8f" stroke-width="0.75" fill="none"/>
<path d="M648.47 111.74V113.06M647.47 113.06H649.47" stroke="#202020" stroke-opacity="0.5" stroke-width="0.75" fill="none"/>
<path d="M660.16 104.47V112.84M659.16 104.47H661.16M659.16 112.84H661.16" stroke="#8f8f8f" stroke-width="0.75" fill="none"/>
<path d="M660.16 108.66V112.84M659.16 112.84H661.16" stroke="#202020" stroke-opacity="0.5" stroke-width="0.75" fill="none"/>
<path d="M664.56 108.66V122.75M663.56 108.66H665.56M663.56 122.75H665.56" stroke="#8f8f8f" stroke-width="0.75" fill="none"/>
<path d="M664.56 115.70V122.75M663.56 122.75H665.56" stroke="#202020" stroke-opacity="0.5" stroke-width="0.75" fill="none"/>
<path d="M668.96 105.13V120.99M667.96 105.13H669.96M667.96 120.99H669.96" stroke="#8f8f8f" stroke-width="0.75" fill="none"/>
<path d="M668.96 113.06V120.99M667.96 120.99H669.96" stroke="#202020" stroke-opacity="0.5" stroke-width="0.75" fill="none"/>
<path d="M673.36 112.62V115.70M672.36 112.62H674.36M672.36 115.70H674.36" stroke="#8f8f8f" stroke-width="0.75" fill="none"/>
<path d="M673.36 114.16V115.70M672.36 115.70H674.36" stroke="#202020" stroke-opacity="0.5" stroke-width="0.75" fill="none"/>
<line x1="380.30" y1="134.20" x2="380.30" y2="136.20" stroke="#b0b0b0" stroke-width="0.6"/>
<line x1="405.18" y1="134.20" x2="405.18" y2="136.20" stroke="#b0b0b0" stroke-width="0.6"/>
<line x1="430.07" y1="134.20" x2="430.07" y2="136.20" stroke="#b0b0b0" stroke-width="0.6"/>
<line x1="454.95" y1="134.20" x2="454.95" y2="136.20" stroke="#b0b0b0" stroke-width="0.6"/>
<line x1="479.83" y1="134.20" x2="479.83" y2="136.20" stroke="#b0b0b0" stroke-width="0.6"/>
<line x1="504.72" y1="134.20" x2="504.72" y2="136.20" stroke="#b0b0b0" stroke-width="0.6"/>
<line x1="529.60" y1="134.20" x2="529.60" y2="136.20" stroke="#b0b0b0" stroke-width="0.6"/>
<line x1="554.48" y1="134.20" x2="554.48" y2="136.20" stroke="#b0b0b0" stroke-width="0.6"/>
<line x1="579.37" y1="134.20" x2="579.37" y2="136.20" stroke="#b0b0b0" stroke-width="0.6"/>
<line x1="604.25" y1="134.20" x2="604.25" y2="136.20" stroke="#b0b0b0" stroke-width="0.6"/>
<line x1="629.13" y1="134.20" x2="629.13" y2="136.20" stroke="#b0b0b0" stroke-width="0.6"/>
<line x1="654.02" y1="134.20" x2="654.02" y2="136.20" stroke="#b0b0b0" stroke-width="0.6"/>
<line x1="678.90" y1="134.20" x2="678.90" y2="136.20" stroke="#b0b0b0" stroke-width="0.6"/>
<text x="375.30" y="136.51" font-size="7.0" text-anchor="end" fill="#0d0d0d" stroke="#0d0d0d" stroke-width="0.3">0</text>
<line x1="378.30" y1="134.20" x2="380.30" y2="134.20" stroke="#b0b0b0" stroke-width="0.6"/>
<text x="375.30" y="114.49" font-size="7.0" text-anchor="end" fill="#0d0d0d" stroke="#0d0d0d" stroke-width="0.3">5</text>
<line x1="378.30" y1="112.18" x2="380.30" y2="112.18" stroke="#b0b0b0" stroke-width="0.6"/>
<text x="375.30" y="92.47" font-size="7.0" text-anchor="end" fill="#0d0d0d" stroke="#0d0d0d" stroke-width="0.3">10</text>
<line x1="378.30" y1="90.16" x2="380.30" y2="90.16" stroke="#b0b0b0" stroke-width="0.6"/>
<text x="375.30" y="70.45" font-size="7.0" text-anchor="end" fill="#0d0d0d" stroke="#0d0d0d" stroke-width="0.3">15</text>
<line x1="378.30" y1="68.14" x2="380.30" y2="68.14" stroke="#b0b0b0" stroke-width="0.6"/>
<text x="375.30" y="48.43" font-size="7.0" text-anchor="end" fill="#0d0d0d" stroke="#0d0d0d" stroke-width="0.3">20</text>
<line x1="378.30" y1="46.12" x2="380.30" y2="46.12" stroke="#b0b0b0" stroke-width="0.6"/>
<text x="375.30" y="26.41" font-size="7.0" text-anchor="end" fill="#0d0d0d" stroke="#0d0d0d" stroke-width="0.3">25</text>
<line x1="378.30" y1="24.10" x2="380.30" y2="24.10" stroke="#b0b0b0" stroke-width="0.6"/>
<text x="393.04" y="145.48" font-size="7.2" text-anchor="middle" textLength="13.16" lengthAdjust="spacingAndGlyphs" fill="#0d0d0d" stroke="#0d0d0d" stroke-width="0.3">JAN</text>
<text x="417.93" y="145.48" font-size="7.2" text-anchor="middle" textLength="13.16" lengthAdjust="spacingAndGlyphs" fill="#0d0d0d" stroke="#0d0d0d" stroke-width="0.3">FEB</text>
<text x="442.81" y="145.48" font-size="7.2" text-anchor="middle" textLength="16.16" lengthAdjust="spacingAndGlyphs" fill="#0d0d0d" stroke="#0d0d0d" stroke-width="0.3">MAR</text>
<text x="467.69" y="145.48" font-size="7.2" text-anchor="middle" textLength="13.91" lengthAdjust="spacingAndGlyphs" fill="#0d0d0d" stroke="#0d0d0d" stroke-width="0.3">APR</text>
<text x="492.57" y="145.48" font-size="7.2" text-anchor="middle" textLength="15.54" lengthAdjust="spacingAndGlyphs" fill="#0d0d0d" stroke="#0d0d0d" stroke-width="0.3">MAY</text>
<text x="517.46" y="145.48" font-size="7.2" text-anchor="middle" textLength="13.16" lengthAdjust="spacingAndGlyphs" fill="#0d0d0d" stroke="#0d0d0d" stroke-width="0.3">JUN</text>
<text x="542.34" y="145.48" font-size="7.2" text-anchor="middle" textLength="12.79" lengthAdjust="spacingAndGlyphs" fill="#0d0d0d" stroke="#0d0d0d" stroke-width="0.3">JUL</text>
<text x="567.23" y="145.48" font-size="7.2" text-anchor="middle" textLength="15.04" lengthAdjust="spacingAndGlyphs" fill="#0d0d0d" stroke="#0d0d0d" stroke-width="0.3">AUG</text>
<text x="592.11" y="145.48" font-size="7.2" text-anchor="middle" textLength="12.41" lengthAdjust="spacingAndGlyphs" fill="#0d0d0d" stroke="#0d0d0d" stroke-width="0.3">SEP</text>
<text x="616.99" y="145.48" font-size="7.2" text-anchor="middle" textLength="14.67" lengthAdjust="spacingAndGlyphs" fill="#0d0d0d" stroke="#0d0d0d" stroke-width="0.3">OCT</text>
<text x="641.88" y="145.48" font-size="7.2" text-anchor="middle" textLength="15.04" lengthAdjust="spacingAndGlyphs" fill="#0d0d0d" stroke="#0d0d0d" stroke-width="0.3">NOV</text>
<text x="666.76" y="145.48" font-size="7.2" text-anchor="middle" textLength="14.29" lengthAdjust="spacingAndGlyphs" fill="#0d0d0d" stroke="#0d0d0d" stroke-width="0.3">DEC</text>
<text transform="translate(364.45 75.50) rotate(-90)" x="0" y="0" font-size="7" text-anchor="middle" textLength="83.00" lengthAdjust="spacingAndGlyphs" fill="#1a1a1a" stroke="#1a1a1a" stroke-width="0.3">Evaporation  Rate (mm/day)</text>
<text x="390.00" y="10.60" font-size="9.0" textLength="268.00" lengthAdjust="spacingAndGlyphs" fill="#0d0d0d" stroke="#0d0d0d" stroke-width="0.3">Average Evaporation Rates at  Nagarjuna Sagar Reservoir  (2015–2020)</text>
<text x="395.60" y="36.80" font-size="8.8" textLength="11.40" lengthAdjust="spacingAndGlyphs" fill="#0d0d0d" stroke="#0d0d0d" stroke-width="0.3">(b)</text>
<rect x="523.90" y="29.15" width="3.50" height="3.50" fill="#3a6cec"/>
<text x="529.00" y="33.04" font-size="7.4" textLength="120.60" lengthAdjust="spacingAndGlyphs" fill="#0d0d0d" stroke="#0d0d0d" stroke-width="0.3">Average of (2015-2020) Penman Equation</text>
<rect x="523.90" y="40.05" width="3.50" height="3.50" fill="#ed7d31"/>
<text x="529.00" y="43.94" font-size="7.4" textLength="120.59" lengthAdjust="spacingAndGlyphs" fill="#0d0d0d" stroke="#0d0d0d" stroke-width="0.3">Average of (2015-2020) Meyer`s Equation</text>
<rect x="523.90" y="50.65" width="3.50" height="3.50" fill="#00b050"/>
<text x="529.00" y="54.54" font-size="7.4" textLength="124.37" lengthAdjust="spacingAndGlyphs" fill="#0d0d0d" stroke="#0d0d0d" stroke-width="0.3">Average of (2015-2020) Rohwer's Equation</text>
<rect x="523.90" y="61.45" width="3.50" height="3.50" fill="#7030a0"/>
<text x="529.00" y="65.34" font-size="7.4" textLength="140.79" lengthAdjust="spacingAndGlyphs" fill="#0d0d0d" stroke="#0d0d0d" stroke-width="0.3">Average of (2015-2020) Blaney Criddle Equation</text>
<rect x="29.60" y="174.90" width="304.00" height="110.30" fill="none" stroke="#474747" stroke-width="1.2"/>
<line x1="30.20" y1="285.20" x2="333.00" y2="285.20" stroke="#a3a3a3" stroke-width="1.3"/>
<rect x="33.50" y="257.62" width="3.75" height="27.82" fill="#3b62e6"/>
<rect x="38.09" y="259.10" width="3.75" height="26.35" fill="#ea7a2e"/>
<rect x="42.69" y="255.05" width="3.75" height="30.40" fill="#00b050"/>
<rect x="47.29" y="270.49" width="3.75" height="14.96" fill="#7030a0"/>
<rect x="58.83" y="251.19" width="3.75" height="34.26" fill="#3b62e6"/>
<rect x="63.43" y="248.80" width="3.75" height="36.65" fill="#ea7a2e"/>
<rect x="68.03" y="243.10" width="3.75" height="42.35" fill="#00b050"/>
<rect x="72.62" y="266.08" width="3.75" height="19.37" fill="#7030a0"/>
<rect x="84.16" y="245.49" width="3.75" height="39.96" fill="#3b62e6"/>
<rect x="88.76" y="241.26" width="3.75" height="44.19" fill="#ea7a2e"/>
<rect x="93.36" y="234.09" width="3.75" height="51.36" fill="#00b050"/>
<rect x="97.96" y="261.85" width="3.75" height="23.60" fill="#7030a0"/>
<rect x="109.50" y="238.14" width="3.75" height="47.31" fill="#3b62e6"/>
<rect x="114.09" y="228.58" width="3.75" height="56.87" fill="#ea7a2e"/>
<rect x="118.69" y="218.65" width="3.75" height="66.80" fill="#00b050"/>
<rect x="123.29" y="256.89" width="3.75" height="28.56" fill="#7030a0"/>
<rect x="134.83" y="237.04" width="3.75" height="48.41" fill="#3b62e6"/>
<rect x="139.43" y="215.71" width="3.75" height="69.74" fill="#ea7a2e"/>
<rect x="144.03" y="200.45" width="3.75" height="85.00" fill="#00b050"/>
<rect x="148.62" y="252.85" width="3.75" height="32.60" fill="#7030a0"/>
<rect x="160.16" y="256.52" width="3.75" height="28.93" fill="#3b62e6"/>
<rect x="164.76" y="252.85" width="3.75" height="32.60" fill="#ea7a2e"/>
<rect x="169.36" y="244.39" width="3.75" height="41.06" fill="#00b050"/>
<rect x="173.96" y="258.73" width="3.75" height="26.72" fill="#7030a0"/>
<rect x="185.50" y="263.69" width="3.75" height="21.76" fill="#3b62e6"/>
<rect x="190.09" y="266.27" width="3.75" height="19.18" fill="#ea7a2e"/>
<rect x="194.69" y="260.93" width="3.75" height="24.52" fill="#00b050"/>
<rect x="199.29" y="262.40" width="3.75" height="23.05" fill="#7030a0"/>
<rect x="210.83" y="265.71" width="3.75" height="19.74" fill="#3b62e6"/>
<rect x="215.43" y="271.96" width="3.75" height="13.49" fill="#ea7a2e"/>
<rect x="220.02" y="268.29" width="3.75" height="17.16" fill="#00b050"/>
<rect x="224.62" y="263.88" width="3.75" height="21.57" fill="#7030a0"/>
<rect x="236.16" y="265.90" width="3.75" height="19.55" fill="#3b62e6"/>
<rect x="240.76" y="273.62" width="3.75" height="11.83" fill="#ea7a2e"/>
<rect x="245.36" y="271.41" width="3.75" height="14.04" fill="#00b050"/>
<rect x="249.96" y="264.79" width="3.75" height="20.66" fill="#7030a0"/>
<rect x="261.50" y="263.14" width="3.75" height="22.31" fill="#3b62e6"/>
<rect x="266.09" y="268.65" width="3.75" height="16.80" fill="#ea7a2e"/>
<rect x="270.69" y="265.90" width="3.75" height="19.55" fill="#00b050"/>
<rect x="275.29" y="265.90" width="3.75" height="19.55" fill="#7030a0"/>
<rect x="286.83" y="261.85" width="3.75" height="23.60" fill="#3b62e6"/>
<rect x="291.43" y="264.79" width="3.75" height="20.66" fill="#ea7a2e"/>
<rect x="296.03" y="261.30" width="3.75" height="24.15" fill="#00b050"/>
<rect x="300.62" y="268.65" width="3.75" height="16.80" fill="#7030a0"/>
<rect x="312.16" y="260.75" width="3.75" height="24.70" fill="#3b62e6"/>
<rect x="316.76" y="262.96" width="3.75" height="22.49" fill="#ea7a2e"/>
<rect x="321.36" y="259.10" width="3.75" height="26.35" fill="#00b050"/>
<rect x="325.96" y="270.13" width="3.75" height="15.32" fill="#7030a0"/>
<path d="M35.37 254.50V260.75M34.37 254.50H36.37M34.37 260.75H36.37" stroke="#8f8f8f" stroke-width="0.75" fill="none"/>
<path d="M35.37 257.62V260.75M34.37 260.75H36.37" stroke="#202020" stroke-opacity="0.5" stroke-width="0.75" fill="none"/>
<path d="M39.97 254.32V263.88M38.97 254.32H40.97M38.97 263.88H40.97" stroke="#8f8f8f" stroke-width="0.75" fill="none"/>
<path d="M39.97 259.10V263.88M38.97 263.88H40.97" stroke="#202020" stroke-opacity="0.5" stroke-width="0.75" fill="none"/>
<path d="M44.57 248.43V261.67M43.57 248.43H45.57M43.57 261.67H45.57" stroke="#8f8f8f" stroke-width="0.75" fill="none"/>
<path d="M44.57 255.05V261.67M43.57 261.67H45.57" stroke="#202020" stroke-opacity="0.5" stroke-width="0.75" fill="none"/>
<path d="M49.16 268.65V272.33M48.16 268.65H50.16M48.16 272.33H50.16" stroke="#8f8f8f" stroke-width="0.75" fill="none"/>
<path d="M49.16 270.49V272.33M48.16 272.33H50.16" stroke="#202020" stroke-opacity="0.5" stroke-width="0.75" fill="none"/>
<path d="M60.70 248.07V254.32M59.70 248.07H61.70M59.70 254.32H61.70" stroke="#8f8f8f" stroke-width="0.75" fill="none"/>
<path d="M60.70 251.19V254.32M59.70 254.32H61.70" stroke="#202020" stroke-opacity="0.5" stroke-width="0.75" fill="none"/>
<path d="M65.30 244.02V253.58M64.30 244.02H66.30M64.30 253.58H66.30" stroke="#8f8f8f" stroke-width="0.75" fill="none"/>
<path d="M65.30 248.80V253.58M64.30 253.58H66.30" stroke="#202020" stroke-opacity="0.5" stroke-width="0.75" fill="none"/>
<path d="M69.90 237.04V249.17M68.90 237.04H70.90M68.90 249.17H70.90" stroke="#8f8f8f" stroke-width="0.75" fill="none"/>
<path d="M69.90 243.10V249.17M68.90 249.17H70.90" stroke="#202020" stroke-opacity="0.5" stroke-width="0.75" fill="none"/>
<path d="M74.50 264.24V267.92M73.50 264.24H75.50M73.50 267.92H75.50" stroke="#8f8f8f" stroke-width="0.75" fill="none"/>
<path d="M74.50 266.08V267.92M73.50 267.92H75.50" stroke="#202020" stroke-opacity="0.5" stroke-width="0.75" fill="none"/>
<path d="M86.04 242.37V248.62M85.04 242.37H87.04M85.04 248.62H87.04" stroke="#8f8f8f" stroke-width="0.75" fill="none"/>
<path d="M86.04 245.49V248.62M85.04 248.62H87.04" stroke="#202020" stroke-opacity="0.5" stroke-width="0.75" fill="none"/>
<path d="M90.63 235.75V246.78M89.63 235.75H91.63M89.63 246.78H91.63" stroke="#8f8f8f" stroke-width="0.75" fill="none"/>
<path d="M90.63 241.26V246.78M89.63 246.78H91.63" stroke="#202020" stroke-opacity="0.5" stroke-width="0.75" fill="none"/>
<path d="M95.23 227.48V240.71M94.23 227.48H96.23M94.23 240.71H96.23" stroke="#8f8f8f" stroke-width="0.75" fill="none"/>
<path d="M95.23 234.09V240.71M94.23 240.71H96.23" stroke="#202020" stroke-opacity="0.5" stroke-width="0.75" fill="none"/>
<path d="M99.83 260.20V263.51M98.83 260.20H100.83M98.83 263.51H100.83" stroke="#8f8f8f" stroke-width="0.75" fill="none"/>
<path d="M99.83 261.85V263.51M98.83 263.51H100.83" stroke="#202020" stroke-opacity="0.5" stroke-width="0.75" fill="none"/>
<path d="M111.37 235.01V241.26M110.37 235.01H112.37M110.37 241.26H112.37" stroke="#8f8f8f" stroke-width="0.75" fill="none"/>
<path d="M111.37 238.14V241.26M110.37 241.26H112.37" stroke="#202020" stroke-opacity="0.5" stroke-width="0.75" fill="none"/>
<path d="M115.97 223.06V234.09M114.97 223.06H116.97M114.97 234.09H116.97" stroke="#8f8f8f" stroke-width="0.75" fill="none"/>
<path d="M115.97 228.58V234.09M114.97 234.09H116.97" stroke="#202020" stroke-opacity="0.5" stroke-width="0.75" fill="none"/>
<path d="M120.57 212.40V224.90M119.57 212.40H121.57M119.57 224.90H121.57" stroke="#8f8f8f" stroke-width="0.75" fill="none"/>
<path d="M120.57 218.65V224.90M119.57 224.90H121.57" stroke="#202020" stroke-opacity="0.5" stroke-width="0.75" fill="none"/>
<path d="M125.16 255.05V258.73M124.16 255.05H126.16M124.16 258.73H126.16" stroke="#8f8f8f" stroke-width="0.75" fill="none"/>
<path d="M125.16 256.89V258.73M124.16 258.73H126.16" stroke="#202020" stroke-opacity="0.5" stroke-width="0.75" fill="none"/>
<path d="M136.70 233.18V240.90M135.70 233.18H137.70M135.70 240.90H137.70" stroke="#8f8f8f" stroke-width="0.75" fill="none"/>
<path d="M136.70 237.04V240.90M135.70 240.90H137.70" stroke="#202020" stroke-opacity="0.5" stroke-width="0.75" fill="none"/>
<path d="M141.30 210.01V221.41M140.30 210.01H142.30M140.30 221.41H142.30" stroke="#8f8f8f" stroke-width="0.75" fill="none"/>
<path d="M141.30 215.71V221.41M140.30 221.41H142.30" stroke="#202020" stroke-opacity="0.5" stroke-width="0.75" fill="none"/>
<path d="M145.90 194.20V206.70M144.90 194.20H146.90M144.90 206.70H146.90" stroke="#8f8f8f" stroke-width="0.75" fill="none"/>
<path d="M145.90 200.45V206.70M144.90 206.70H146.90" stroke="#202020" stroke-opacity="0.5" stroke-width="0.75" fill="none"/>
<path d="M150.50 251.19V254.50M149.50 251.19H151.50M149.50 254.50H151.50" stroke="#8f8f8f" stroke-width="0.75" fill="none"/>
<path d="M150.50 252.85V254.50M149.50 254.50H151.50" stroke="#202020" stroke-opacity="0.5" stroke-width="0.75" fill="none"/>
<path d="M162.04 253.40V259.65M161.04 253.40H163.04M161.04 259.65H163.04" stroke="#8f8f8f" stroke-width="0.75" fill="none"/>
<path d="M162.04 256.52V259.65M161.04 259.65H163.04" stroke="#202020" stroke-opacity="0.5" stroke-width="0.75" fill="none"/>
<path d="M166.63 247.33V258.36M165.63 247.33H167.63M165.63 258.36H167.63" stroke="#8f8f8f" stroke-width="0.75" fill="none"/>
<path d="M166.63 252.85V258.36M165.63 258.36H167.63" stroke="#202020" stroke-opacity="0.5" stroke-width="0.75" fill="none"/>
<path d="M171.23 238.32V250.46M170.23 238.32H172.23M170.23 250.46H172.23" stroke="#8f8f8f" stroke-width="0.75" fill="none"/>
<path d="M171.23 244.39V250.46M170.23 250.46H172.23" stroke="#202020" stroke-opacity="0.5" stroke-width="0.75" fill="none"/>
<path d="M175.83 257.07V260.38M174.83 257.07H176.83M174.83 260.38H176.83" stroke="#8f8f8f" stroke-width="0.75" fill="none"/>
<path d="M175.83 258.73V260.38M174.83 260.38H176.83" stroke="#202020" stroke-opacity="0.5" stroke-width="0.75" fill="none"/>
<path d="M187.37 260.75V266.63M186.37 260.75H188.37M186.37 266.63H188.37" stroke="#8f8f8f" stroke-width="0.75" fill="none"/>
<path d="M187.37 263.69V266.63M186.37 266.63H188.37" stroke="#202020" stroke-opacity="0.5" stroke-width="0.75" fill="none"/>
<path d="M191.97 260.75V271.78M190.97 260.75H192.97M190.97 271.78H192.97" stroke="#8f8f8f" stroke-width="0.75" fill="none"/>
<path d="M191.97 266.27V271.78M190.97 271.78H192.97" stroke="#202020" stroke-opacity="0.5" stroke-width="0.75" fill="none"/>
<path d="M196.57 254.68V267.18M195.57 254.68H197.57M195.57 267.18H197.57" stroke="#8f8f8f" stroke-width="0.75" fill="none"/>
<path d="M196.57 260.93V267.18M195.57 267.18H197.57" stroke="#202020" stroke-opacity="0.5" stroke-width="0.75" fill="none"/>
<path d="M201.16 260.75V264.06M200.16 260.75H202.16M200.16 264.06H202.16" stroke="#8f8f8f" stroke-width="0.75" fill="none"/>
<path d="M201.16 262.40V264.06M200.16 264.06H202.16" stroke="#202020" stroke-opacity="0.5" stroke-width="0.75" fill="none"/>
<path d="M212.70 262.59V268.84M211.70 262.59H213.70M211.70 268.84H213.70" stroke="#8f8f8f" stroke-width="0.75" fill="none"/>
<path d="M212.70 265.71V268.84M211.70 268.84H213.70" stroke="#202020" stroke-opacity="0.5" stroke-width="0.75" fill="none"/>
<path d="M217.30 266.45V277.48M216.30 266.45H218.30M216.30 277.48H218.30" stroke="#8f8f8f" stroke-width="0.75" fill="none"/>
<path d="M217.30 271.96V277.48M216.30 277.48H218.30" stroke="#202020" stroke-opacity="0.5" stroke-width="0.75" fill="none"/>
<path d="M221.90 262.04V274.54M220.90 262.04H222.90M220.90 274.54H222.90" stroke="#8f8f8f" stroke-width="0.75" fill="none"/>
<path d="M221.90 268.29V274.54M220.90 274.54H222.90" stroke="#202020" stroke-opacity="0.5" stroke-width="0.75" fill="none"/>
<path d="M226.50 262.22V265.53M225.50 262.22H227.50M225.50 265.53H227.50" stroke="#8f8f8f" stroke-width="0.75" fill="none"/>
<path d="M226.50 263.88V265.53M225.50 265.53H227.50" stroke="#202020" stroke-opacity="0.5" stroke-width="0.75" fill="none"/>
<path d="M238.04 262.96V268.84M237.04 262.96H239.04M237.04 268.84H239.04" stroke="#8f8f8f" stroke-width="0.75" fill="none"/>
<path d="M238.04 265.90V268.84M237.04 268.84H239.04" stroke="#202020" stroke-opacity="0.5" stroke-width="0.75" fill="none"/>
<path d="M242.63 268.29V278.95M241.63 268.29H243.63M241.63 278.95H243.63" stroke="#8f8f8f" stroke-width="0.75" fill="none"/>
<path d="M242.63 273.62V278.95M241.63 278.95H243.63" stroke="#202020" stroke-opacity="0.5" stroke-width="0.75" fill="none"/>
<path d="M247.23 265.35V277.48M246.23 265.35H248.23M246.23 277.48H248.23" stroke="#8f8f8f" stroke-width="0.75" fill="none"/>
<path d="M247.23 271.41V277.48M246.23 277.48H248.23" stroke="#202020" stroke-opacity="0.5" stroke-width="0.75" fill="none"/>
<path d="M251.83 263.51V266.08M250.83 263.51H252.83M250.83 266.08H252.83" stroke="#8f8f8f" stroke-width="0.75" fill="none"/>
<path d="M251.83 264.79V266.08M250.83 266.08H252.83" stroke="#202020" stroke-opacity="0.5" stroke-width="0.75" fill="none"/>
<path d="M263.37 260.20V266.08M262.37 260.20H264.37M262.37 266.08H264.37" stroke="#8f8f8f" stroke-width="0.75" fill="none"/>
<path d="M263.37 263.14V266.08M262.37 266.08H264.37" stroke="#202020" stroke-opacity="0.5" stroke-width="0.75" fill="none"/>
<path d="M267.97 262.96V274.35M266.97 262.96H268.97M266.97 274.35H268.97" stroke="#8f8f8f" stroke-width="0.75" fill="none"/>
<path d="M267.97 268.65V274.35M266.97 274.35H268.97" stroke="#202020" stroke-opacity="0.5" stroke-width="0.75" fill="none"/>
<path d="M272.57 259.65V272.15M271.57 259.65H273.57M271.57 272.15H273.57" stroke="#8f8f8f" stroke-width="0.75" fill="none"/>
<path d="M272.57 265.90V272.15M271.57 272.15H273.57" stroke="#202020" stroke-opacity="0.5" stroke-width="0.75" fill="none"/>
<path d="M277.16 264.79V267.00M276.16 264.79H278.16M276.16 267.00H278.16" stroke="#8f8f8f" stroke-width="0.75" fill="none"/>
<path d="M277.16 265.90V267.00M276.16 267.00H278.16" stroke="#202020" stroke-opacity="0.5" stroke-width="0.75" fill="none"/>
<path d="M288.70 258.91V264.79M287.70 258.91H289.70M287.70 264.79H289.70" stroke="#8f8f8f" stroke-width="0.75" fill="none"/>
<path d="M288.70 261.85V264.79M287.70 264.79H289.70" stroke="#202020" stroke-opacity="0.5" stroke-width="0.75" fill="none"/>
<path d="M293.30 259.10V270.49M292.30 259.10H294.30M292.30 270.49H294.30" stroke="#8f8f8f" stroke-width="0.75" fill="none"/>
<path d="M293.30 264.79V270.49M292.30 270.49H294.30" stroke="#202020" stroke-opacity="0.5" stroke-width="0.75" fill="none"/>
<path d="M297.90 255.05V267.55M296.90 255.05H298.90M296.90 267.55H298.90" stroke="#8f8f8f" stroke-width="0.75" fill="none"/>
<path d="M297.90 261.30V267.55M296.90 267.55H298.90" stroke="#202020" stroke-opacity="0.5" stroke-width="0.75" fill="none"/>
<path d="M302.50 266.82V270.49M301.50 266.82H303.50M301.50 270.49H303.50" stroke="#8f8f8f" stroke-width="0.75" fill="none"/>
<path d="M302.50 268.65V270.49M301.50 270.49H303.50" stroke="#202020" stroke-opacity="0.5" stroke-width="0.75" fill="none"/>
<path d="M314.04 257.44V264.06M313.04 257.44H315.04M313.04 264.06H315.04" stroke="#8f8f8f" stroke-width="0.75" fill="none"/>
<path d="M314.04 260.75V264.06M313.04 264.06H315.04" stroke="#202020" stroke-opacity="0.5" stroke-width="0.75" fill="none"/>
<path d="M318.63 257.26V268.65M317.63 257.26H319.63M317.63 268.65H319.63" stroke="#8f8f8f" stroke-width="0.75" fill="none"/>
<path d="M318.63 262.96V268.65M317.63 268.65H319.63" stroke="#202020" stroke-opacity="0.5" stroke-width="0.75" fill="none"/>
<path d="M323.23 252.85V265.35M322.23 252.85H324.23M322.23 265.35H324.23" stroke="#8f8f8f" stroke-width="0.75" fill="none"/>
<path d="M323.23 259.10V265.35M322.23 265.35H324.23" stroke="#202020" stroke-opacity="0.5" stroke-width="0.75" fill="none"/>
<path d="M327.83 268.29V271.96M326.83 268.29H328.83M326.83 271.96H328.83" stroke="#8f8f8f" stroke-width="0.75" fill="none"/>
<path d="M327.83 270.13V271.96M326.83 271.96H328.83" stroke="#202020" stroke-opacity="0.5" stroke-width="0.75" fill="none"/>
<line x1="29.60" y1="285.20" x2="29.60" y2="287.20" stroke="#b0b0b0" stroke-width="0.6"/>
<line x1="54.93" y1="285.20" x2="54.93" y2="287.20" stroke="#b0b0b0" stroke-width="0.6"/>
<line x1="80.27" y1="285.20" x2="80.27" y2="287.20" stroke="#b0b0b0" stroke-width="0.6"/>
<line x1="105.60" y1="285.20" x2="105.60" y2="287.20" stroke="#b0b0b0" stroke-width="0.6"/>
<line x1="130.93" y1="285.20" x2="130.93" y2="287.20" stroke="#b0b0b0" stroke-width="0.6"/>
<line x1="156.27" y1="285.20" x2="156.27" y2="287.20" stroke="#b0b0b0" stroke-width="0.6"/>
<line x1="181.60" y1="285.20" x2="181.60" y2="287.20" stroke="#b0b0b0" stroke-width="0.6"/>
<line x1="206.93" y1="285.20" x2="206.93" y2="287.20" stroke="#b0b0b0" stroke-width="0.6"/>
<line x1="232.27" y1="285.20" x2="232.27" y2="287.20" stroke="#b0b0b0" stroke-width="0.6"/>
<line x1="257.60" y1="285.20" x2="257.60" y2="287.20" stroke="#b0b0b0" stroke-width="0.6"/>
<line x1="282.93" y1="285.20" x2="282.93" y2="287.20" stroke="#b0b0b0" stroke-width="0.6"/>
<line x1="308.27" y1="285.20" x2="308.27" y2="287.20" stroke="#b0b0b0" stroke-width="0.6"/>
<line x1="333.60" y1="285.20" x2="333.60" y2="287.20" stroke="#b0b0b0" stroke-width="0.6"/>
<text x="23.50" y="287.51" font-size="7.0" text-anchor="end" fill="#0d0d0d" stroke="#0d0d0d" stroke-width="0.3">0</text>
<line x1="27.60" y1="285.20" x2="29.60" y2="285.20" stroke="#b0b0b0" stroke-width="0.6"/>
<text x="23.50" y="269.13" font-size="7.0" text-anchor="end" fill="#0d0d0d" stroke="#0d0d0d" stroke-width="0.3">5</text>
<line x1="27.60" y1="266.82" x2="29.60" y2="266.82" stroke="#b0b0b0" stroke-width="0.6"/>
<text x="23.50" y="250.74" font-size="7.0" text-anchor="end" fill="#0d0d0d" stroke="#0d0d0d" stroke-width="0.3">10</text>
<line x1="27.60" y1="248.43" x2="29.60" y2="248.43" stroke="#b0b0b0" stroke-width="0.6"/>
<text x="23.50" y="232.36" font-size="7.0" text-anchor="end" fill="#0d0d0d" stroke="#0d0d0d" stroke-width="0.3">15</text>
<line x1="27.60" y1="230.05" x2="29.60" y2="230.05" stroke="#b0b0b0" stroke-width="0.6"/>
<text x="23.50" y="213.98" font-size="7.0" text-anchor="end" fill="#0d0d0d" stroke="#0d0d0d" stroke-width="0.3">20</text>
<line x1="27.60" y1="211.67" x2="29.60" y2="211.67" stroke="#b0b0b0" stroke-width="0.6"/>
<text x="23.50" y="195.59" font-size="7.0" text-anchor="end" fill="#0d0d0d" stroke="#0d0d0d" stroke-width="0.3">25</text>
<line x1="27.60" y1="193.28" x2="29.60" y2="193.28" stroke="#b0b0b0" stroke-width="0.6"/>
<text x="23.50" y="177.21" font-size="7.0" text-anchor="end" fill="#0d0d0d" stroke="#0d0d0d" stroke-width="0.3">30</text>
<line x1="27.60" y1="174.90" x2="29.60" y2="174.90" stroke="#b0b0b0" stroke-width="0.6"/>
<text x="42.27" y="296.38" font-size="7.2" text-anchor="middle" textLength="13.30" lengthAdjust="spacingAndGlyphs" fill="#0d0d0d" stroke="#0d0d0d" stroke-width="0.3">JAN</text>
<text x="67.60" y="296.38" font-size="7.2" text-anchor="middle" textLength="13.30" lengthAdjust="spacingAndGlyphs" fill="#0d0d0d" stroke="#0d0d0d" stroke-width="0.3">FEB</text>
<text x="92.93" y="296.38" font-size="7.2" text-anchor="middle" textLength="16.34" lengthAdjust="spacingAndGlyphs" fill="#0d0d0d" stroke="#0d0d0d" stroke-width="0.3">MAR</text>
<text x="118.27" y="296.38" font-size="7.2" text-anchor="middle" textLength="14.06" lengthAdjust="spacingAndGlyphs" fill="#0d0d0d" stroke="#0d0d0d" stroke-width="0.3">APR</text>
<text x="143.60" y="296.38" font-size="7.2" text-anchor="middle" textLength="15.71" lengthAdjust="spacingAndGlyphs" fill="#0d0d0d" stroke="#0d0d0d" stroke-width="0.3">MAY</text>
<text x="168.93" y="296.38" font-size="7.2" text-anchor="middle" textLength="13.30" lengthAdjust="spacingAndGlyphs" fill="#0d0d0d" stroke="#0d0d0d" stroke-width="0.3">JUN</text>
<text x="194.27" y="296.38" font-size="7.2" text-anchor="middle" textLength="12.92" lengthAdjust="spacingAndGlyphs" fill="#0d0d0d" stroke="#0d0d0d" stroke-width="0.3">JUL</text>
<text x="219.60" y="296.38" font-size="7.2" text-anchor="middle" textLength="15.20" lengthAdjust="spacingAndGlyphs" fill="#0d0d0d" stroke="#0d0d0d" stroke-width="0.3">AUG</text>
<text x="244.93" y="296.38" font-size="7.2" text-anchor="middle" textLength="12.54" lengthAdjust="spacingAndGlyphs" fill="#0d0d0d" stroke="#0d0d0d" stroke-width="0.3">SEP</text>
<text x="270.27" y="296.38" font-size="7.2" text-anchor="middle" textLength="14.82" lengthAdjust="spacingAndGlyphs" fill="#0d0d0d" stroke="#0d0d0d" stroke-width="0.3">OCT</text>
<text x="295.60" y="296.38" font-size="7.2" text-anchor="middle" textLength="15.20" lengthAdjust="spacingAndGlyphs" fill="#0d0d0d" stroke="#0d0d0d" stroke-width="0.3">NOV</text>
<text x="320.93" y="296.38" font-size="7.2" text-anchor="middle" textLength="14.44" lengthAdjust="spacingAndGlyphs" fill="#0d0d0d" stroke="#0d0d0d" stroke-width="0.3">DEC</text>
<text x="172.00" y="303.88" font-size="7.2" textLength="19.50" lengthAdjust="spacingAndGlyphs" fill="#0d0d0d" stroke="#0d0d0d" stroke-width="0.3">Month</text>
<text transform="translate(10.95 231.30) rotate(-90)" x="0" y="0" font-size="7" text-anchor="middle" textLength="83.00" lengthAdjust="spacingAndGlyphs" fill="#1a1a1a" stroke="#1a1a1a" stroke-width="0.3">Evaporation  Rate (mm/day)</text>
<text x="52.50" y="162.40" font-size="8.4" textLength="240.40" lengthAdjust="spacingAndGlyphs" fill="#0d0d0d" stroke="#0d0d0d" stroke-width="0.3">Average Evaporation Rates at Sriram Sagar Reservoir  (2015–2020)</text>
<text x="35.80" y="188.30" font-size="8.8" textLength="10.80" lengthAdjust="spacingAndGlyphs" fill="#0d0d0d" stroke="#0d0d0d" stroke-width="0.3">(c)</text>
<rect x="173.70" y="181.00" width="3.00" height="3.00" fill="#3b62e6"/>
<text x="178.50" y="184.64" font-size="7.4" textLength="121.80" lengthAdjust="spacingAndGlyphs" fill="#0d0d0d" stroke="#0d0d0d" stroke-width="0.3">Average of (2015-2020)Penman Equation</text>
<rect x="173.70" y="192.90" width="3.00" height="3.00" fill="#ea7a2e"/>
<text x="178.50" y="196.54" font-size="7.4" textLength="121.79" lengthAdjust="spacingAndGlyphs" fill="#0d0d0d" stroke="#0d0d0d" stroke-width="0.3">Average of (2015-2020)Meyer`s Equation</text>
<rect x="173.70" y="204.30" width="3.00" height="3.00" fill="#00b050"/>
<text x="178.50" y="207.94" font-size="7.4" textLength="125.66" lengthAdjust="spacingAndGlyphs" fill="#0d0d0d" stroke="#0d0d0d" stroke-width="0.3">Average of (2015-2020)Rohwer's Equation</text>
<rect x="173.70" y="216.00" width="3.00" height="3.00" fill="#7030a0"/>
<text x="178.50" y="219.64" font-size="7.4" textLength="142.48" lengthAdjust="spacingAndGlyphs" fill="#0d0d0d" stroke="#0d0d0d" stroke-width="0.3">Average of (2015-2020)Blaney Criddle Equation</text>
<rect x="382.30" y="171.30" width="298.60" height="112.30" fill="none" stroke="#474747" stroke-width="1.2"/>
<rect x="386.28" y="251.71" width="4.48" height="32.14" fill="#2b35ee"/>
<rect x="390.76" y="255.08" width="4.48" height="28.77" fill="#ed7d31"/>
<rect x="395.24" y="250.81" width="4.48" height="33.04" fill="#1fa84a"/>
<rect x="399.72" y="262.49" width="4.48" height="21.36" fill="#7030a0"/>
<rect x="411.17" y="244.52" width="4.48" height="39.33" fill="#2b35ee"/>
<rect x="415.65" y="244.52" width="4.48" height="39.33" fill="#ed7d31"/>
<rect x="420.12" y="236.88" width="4.48" height="46.97" fill="#1fa84a"/>
<rect x="424.60" y="258.44" width="4.48" height="25.41" fill="#7030a0"/>
<rect x="436.05" y="234.64" width="4.48" height="49.21" fill="#2b35ee"/>
<rect x="440.53" y="228.57" width="4.48" height="55.28" fill="#ed7d31"/>
<rect x="445.01" y="219.36" width="4.48" height="64.49" fill="#1fa84a"/>
<rect x="449.49" y="252.16" width="4.48" height="31.69" fill="#7030a0"/>
<rect x="460.93" y="227.23" width="4.48" height="56.62" fill="#2b35ee"/>
<rect x="465.41" y="213.97" width="4.48" height="69.88" fill="#ed7d31"/>
<rect x="469.89" y="201.40" width="4.48" height="82.45" fill="#1fa84a"/>
<rect x="474.37" y="246.09" width="4.48" height="37.76" fill="#7030a0"/>
<rect x="485.82" y="229.02" width="4.48" height="54.83" fill="#2b35ee"/>
<rect x="490.30" y="210.38" width="4.48" height="73.47" fill="#ed7d31"/>
<rect x="494.77" y="194.88" width="4.48" height="88.97" fill="#1fa84a"/>
<rect x="499.25" y="244.07" width="4.48" height="39.78" fill="#7030a0"/>
<rect x="510.70" y="251.48" width="4.48" height="32.37" fill="#2b35ee"/>
<rect x="515.18" y="247.89" width="4.48" height="35.96" fill="#ed7d31"/>
<rect x="519.66" y="238.68" width="4.48" height="45.17" fill="#1fa84a"/>
<rect x="524.14" y="252.16" width="4.48" height="31.69" fill="#7030a0"/>
<rect x="535.58" y="253.95" width="4.48" height="29.90" fill="#2b35ee"/>
<rect x="540.06" y="251.26" width="4.48" height="32.59" fill="#ed7d31"/>
<rect x="544.54" y="242.05" width="4.48" height="41.80" fill="#1fa84a"/>
<rect x="549.02" y="253.95" width="4.48" height="29.90" fill="#7030a0"/>
<rect x="560.47" y="256.65" width="4.48" height="27.20" fill="#2b35ee"/>
<rect x="564.95" y="259.79" width="4.48" height="24.06" fill="#ed7d31"/>
<rect x="569.42" y="253.05" width="4.48" height="30.80" fill="#1fa84a"/>
<rect x="573.90" y="255.75" width="4.48" height="28.10" fill="#7030a0"/>
<rect x="585.35" y="259.12" width="4.48" height="24.73" fill="#2b35ee"/>
<rect x="589.83" y="269.23" width="4.48" height="14.62" fill="#ed7d31"/>
<rect x="594.31" y="266.53" width="4.48" height="17.32" fill="#1fa84a"/>
<rect x="598.79" y="257.55" width="4.48" height="26.30" fill="#7030a0"/>
<rect x="610.23" y="258.22" width="4.48" height="25.63" fill="#2b35ee"/>
<rect x="614.71" y="267.43" width="4.48" height="16.42" fill="#ed7d31"/>
<rect x="619.19" y="264.96" width="4.48" height="18.89" fill="#1fa84a"/>
<rect x="623.67" y="259.34" width="4.48" height="24.51" fill="#7030a0"/>
<rect x="635.12" y="256.65" width="4.48" height="27.20" fill="#2b35ee"/>
<rect x="639.60" y="262.71" width="4.48" height="21.14" fill="#ed7d31"/>
<rect x="644.07" y="258.44" width="4.48" height="25.41" fill="#1fa84a"/>
<rect x="648.55" y="261.59" width="4.48" height="22.26" fill="#7030a0"/>
<rect x="660.00" y="255.30" width="4.48" height="28.55" fill="#2b35ee"/>
<rect x="664.48" y="260.47" width="4.48" height="23.38" fill="#ed7d31"/>
<rect x="668.96" y="256.42" width="4.48" height="27.43" fill="#1fa84a"/>
<rect x="673.44" y="263.16" width="4.48" height="20.69" fill="#7030a0"/>
<path d="M388.52 249.91V253.50M387.52 249.91H389.52M387.52 253.50H389.52" stroke="#8f8f8f" stroke-width="0.75" fill="none"/>
<path d="M388.52 251.71V253.50M387.52 253.50H389.52" stroke="#202020" stroke-opacity="0.5" stroke-width="0.75" fill="none"/>
<path d="M393.00 253.50V256.65M392.00 253.50H394.00M392.00 256.65H394.00" stroke="#8f8f8f" stroke-width="0.75" fill="none"/>
<path d="M393.00 255.08V256.65M392.00 256.65H394.00" stroke="#202020" stroke-opacity="0.5" stroke-width="0.75" fill="none"/>
<path d="M397.48 248.34V253.28M396.48 248.34H398.48M396.48 253.28H398.48" stroke="#8f8f8f" stroke-width="0.75" fill="none"/>
<path d="M397.48 250.81V253.28M396.48 253.28H398.48" stroke="#202020" stroke-opacity="0.5" stroke-width="0.75" fill="none"/>
<path d="M401.96 261.59V263.39M400.96 261.59H402.96M400.96 263.39H402.96" stroke="#8f8f8f" stroke-width="0.75" fill="none"/>
<path d="M401.96 262.49V263.39M400.96 263.39H402.96" stroke="#202020" stroke-opacity="0.5" stroke-width="0.75" fill="none"/>
<path d="M413.41 241.60V247.44M412.41 241.60H414.41M412.41 247.44H414.41" stroke="#8f8f8f" stroke-width="0.75" fill="none"/>
<path d="M413.41 244.52V247.44M412.41 247.44H414.41" stroke="#202020" stroke-opacity="0.5" stroke-width="0.75" fill="none"/>
<path d="M417.89 241.60V247.44M416.89 241.60H418.89M416.89 247.44H418.89" stroke="#8f8f8f" stroke-width="0.75" fill="none"/>
<path d="M417.89 244.52V247.44M416.89 247.44H418.89" stroke="#202020" stroke-opacity="0.5" stroke-width="0.75" fill="none"/>
<path d="M422.36 234.19V239.58M421.36 234.19H423.36M421.36 239.58H423.36" stroke="#8f8f8f" stroke-width="0.75" fill="none"/>
<path d="M422.36 236.88V239.58M421.36 239.58H423.36" stroke="#202020" stroke-opacity="0.5" stroke-width="0.75" fill="none"/>
<path d="M426.84 257.55V259.34M425.84 257.55H427.84M425.84 259.34H427.84" stroke="#8f8f8f" stroke-width="0.75" fill="none"/>
<path d="M426.84 258.44V259.34M425.84 259.34H427.84" stroke="#202020" stroke-opacity="0.5" stroke-width="0.75" fill="none"/>
<path d="M438.29 231.27V238.01M437.29 231.27H439.29M437.29 238.01H439.29" stroke="#8f8f8f" stroke-width="0.75" fill="none"/>
<path d="M438.29 234.64V238.01M437.29 238.01H439.29" stroke="#202020" stroke-opacity="0.5" stroke-width="0.75" fill="none"/>
<path d="M442.77 222.96V234.19M441.77 222.96H443.77M441.77 234.19H443.77" stroke="#8f8f8f" stroke-width="0.75" fill="none"/>
<path d="M442.77 228.57V234.19M441.77 234.19H443.77" stroke="#202020" stroke-opacity="0.5" stroke-width="0.75" fill="none"/>
<path d="M447.25 212.85V225.88M446.25 212.85H448.25M446.25 225.88H448.25" stroke="#8f8f8f" stroke-width="0.75" fill="none"/>
<path d="M447.25 219.36V225.88M446.25 225.88H448.25" stroke="#202020" stroke-opacity="0.5" stroke-width="0.75" fill="none"/>
<path d="M451.73 251.71V252.61M450.73 251.71H452.73M450.73 252.61H452.73" stroke="#8f8f8f" stroke-width="0.75" fill="none"/>
<path d="M451.73 252.16V252.61M450.73 252.61H452.73" stroke="#202020" stroke-opacity="0.5" stroke-width="0.75" fill="none"/>
<path d="M463.17 220.04V234.41M462.17 220.04H464.17M462.17 234.41H464.17" stroke="#8f8f8f" stroke-width="0.75" fill="none"/>
<path d="M463.17 227.23V234.41M462.17 234.41H464.17" stroke="#202020" stroke-opacity="0.5" stroke-width="0.75" fill="none"/>
<path d="M467.65 201.17V226.78M466.65 201.17H468.65M466.65 226.78H468.65" stroke="#8f8f8f" stroke-width="0.75" fill="none"/>
<path d="M467.65 213.97V226.78M466.65 226.78H468.65" stroke="#202020" stroke-opacity="0.5" stroke-width="0.75" fill="none"/>
<path d="M472.13 185.45V217.34M471.13 185.45H473.13M471.13 217.34H473.13" stroke="#8f8f8f" stroke-width="0.75" fill="none"/>
<path d="M472.13 201.40V217.34M471.13 217.34H473.13" stroke="#202020" stroke-opacity="0.5" stroke-width="0.75" fill="none"/>
<path d="M476.61 243.40V248.79M475.61 243.40H477.61M475.61 248.79H477.61" stroke="#8f8f8f" stroke-width="0.75" fill="none"/>
<path d="M476.61 246.09V248.79M475.61 248.79H477.61" stroke="#202020" stroke-opacity="0.5" stroke-width="0.75" fill="none"/>
<path d="M488.06 224.08V233.96M487.06 224.08H489.06M487.06 233.96H489.06" stroke="#8f8f8f" stroke-width="0.75" fill="none"/>
<path d="M488.06 229.02V233.96M487.06 233.96H489.06" stroke="#202020" stroke-opacity="0.5" stroke-width="0.75" fill="none"/>
<path d="M492.54 201.40V219.36M491.54 201.40H493.54M491.54 219.36H493.54" stroke="#8f8f8f" stroke-width="0.75" fill="none"/>
<path d="M492.54 210.38V219.36M491.54 219.36H493.54" stroke="#202020" stroke-opacity="0.5" stroke-width="0.75" fill="none"/>
<path d="M497.01 183.43V206.34M496.01 183.43H498.01M496.01 206.34H498.01" stroke="#8f8f8f" stroke-width="0.75" fill="none"/>
<path d="M497.01 194.88V206.34M496.01 206.34H498.01" stroke="#202020" stroke-opacity="0.5" stroke-width="0.75" fill="none"/>
<path d="M501.49 242.27V245.87M500.49 242.27H502.49M500.49 245.87H502.49" stroke="#8f8f8f" stroke-width="0.75" fill="none"/>
<path d="M501.49 244.07V245.87M500.49 245.87H502.49" stroke="#202020" stroke-opacity="0.5" stroke-width="0.75" fill="none"/>
<path d="M512.94 247.21V255.75M511.94 247.21H513.94M511.94 255.75H513.94" stroke="#8f8f8f" stroke-width="0.75" fill="none"/>
<path d="M512.94 251.48V255.75M511.94 255.75H513.94" stroke="#202020" stroke-opacity="0.5" stroke-width="0.75" fill="none"/>
<path d="M517.42 238.23V257.55M516.42 238.23H518.42M516.42 257.55H518.42" stroke="#8f8f8f" stroke-width="0.75" fill="none"/>
<path d="M517.42 247.89V257.55M516.42 257.55H518.42" stroke="#202020" stroke-opacity="0.5" stroke-width="0.75" fill="none"/>
<path d="M521.90 226.10V251.26M520.90 226.10H522.90M520.90 251.26H522.90" stroke="#8f8f8f" stroke-width="0.75" fill="none"/>
<path d="M521.90 238.68V251.26M520.90 251.26H522.90" stroke="#202020" stroke-opacity="0.5" stroke-width="0.75" fill="none"/>
<path d="M526.38 250.58V253.73M525.38 250.58H527.38M525.38 253.73H527.38" stroke="#8f8f8f" stroke-width="0.75" fill="none"/>
<path d="M526.38 252.16V253.73M525.38 253.73H527.38" stroke="#202020" stroke-opacity="0.5" stroke-width="0.75" fill="none"/>
<path d="M537.82 249.69V258.22M536.82 249.69H538.82M536.82 258.22H538.82" stroke="#8f8f8f" stroke-width="0.75" fill="none"/>
<path d="M537.82 253.95V258.22M536.82 258.22H538.82" stroke="#202020" stroke-opacity="0.5" stroke-width="0.75" fill="none"/>
<path d="M542.30 238.46V264.06M541.30 238.46H543.30M541.30 264.06H543.30" stroke="#8f8f8f" stroke-width="0.75" fill="none"/>
<path d="M542.30 251.26V264.06M541.30 264.06H543.30" stroke="#202020" stroke-opacity="0.5" stroke-width="0.75" fill="none"/>
<path d="M546.78 224.75V259.34M545.78 224.75H547.78M545.78 259.34H547.78" stroke="#8f8f8f" stroke-width="0.75" fill="none"/>
<path d="M546.78 242.05V259.34M545.78 259.34H547.78" stroke="#202020" stroke-opacity="0.5" stroke-width="0.75" fill="none"/>
<path d="M551.26 252.16V255.75M550.26 252.16H552.26M550.26 255.75H552.26" stroke="#8f8f8f" stroke-width="0.75" fill="none"/>
<path d="M551.26 253.95V255.75M550.26 255.75H552.26" stroke="#202020" stroke-opacity="0.5" stroke-width="0.75" fill="none"/>
<path d="M562.71 253.50V259.79M561.71 253.50H563.71M561.71 259.79H563.71" stroke="#8f8f8f" stroke-width="0.75" fill="none"/>
<path d="M562.71 256.65V259.79M561.71 259.79H563.71" stroke="#202020" stroke-opacity="0.5" stroke-width="0.75" fill="none"/>
<path d="M567.19 252.38V267.20M566.19 252.38H568.19M566.19 267.20H568.19" stroke="#8f8f8f" stroke-width="0.75" fill="none"/>
<path d="M567.19 259.79V267.20M566.19 267.20H568.19" stroke="#202020" stroke-opacity="0.5" stroke-width="0.75" fill="none"/>
<path d="M571.66 243.62V262.49M570.66 243.62H572.66M570.66 262.49H572.66" stroke="#8f8f8f" stroke-width="0.75" fill="none"/>
<path d="M571.66 253.05V262.49M570.66 262.49H572.66" stroke="#202020" stroke-opacity="0.5" stroke-width="0.75" fill="none"/>
<path d="M576.14 254.63V256.87M575.14 254.63H577.14M575.14 256.87H577.14" stroke="#8f8f8f" stroke-width="0.75" fill="none"/>
<path d="M576.14 255.75V256.87M575.14 256.87H577.14" stroke="#202020" stroke-opacity="0.5" stroke-width="0.75" fill="none"/>
<path d="M587.59 256.65V261.59M586.59 256.65H588.59M586.59 261.59H588.59" stroke="#8f8f8f" stroke-width="0.75" fill="none"/>
<path d="M587.59 259.12V261.59M586.59 261.59H588.59" stroke="#202020" stroke-opacity="0.5" stroke-width="0.75" fill="none"/>
<path d="M592.07 264.28V274.17M591.07 264.28H593.07M591.07 274.17H593.07" stroke="#8f8f8f" stroke-width="0.75" fill="none"/>
<path d="M592.07 269.23V274.17M591.07 274.17H593.07" stroke="#202020" stroke-opacity="0.5" stroke-width="0.75" fill="none"/>
<path d="M596.55 260.47V272.59M595.55 260.47H597.55M595.55 272.59H597.55" stroke="#8f8f8f" stroke-width="0.75" fill="none"/>
<path d="M596.55 266.53V272.59M595.55 272.59H597.55" stroke="#202020" stroke-opacity="0.5" stroke-width="0.75" fill="none"/>
<path d="M601.03 256.65V258.44M600.03 256.65H602.03M600.03 258.44H602.03" stroke="#8f8f8f" stroke-width="0.75" fill="none"/>
<path d="M601.03 257.55V258.44M600.03 258.44H602.03" stroke="#202020" stroke-opacity="0.5" stroke-width="0.75" fill="none"/>
<path d="M612.47 252.38V264.06M611.47 252.38H613.47M611.47 264.06H613.47" stroke="#8f8f8f" stroke-width="0.75" fill="none"/>
<path d="M612.47 258.22V264.06M611.47 264.06H613.47" stroke="#202020" stroke-opacity="0.5" stroke-width="0.75" fill="none"/>
<path d="M616.95 258.67V276.19M615.95 258.67H617.95M615.95 276.19H617.95" stroke="#8f8f8f" stroke-width="0.75" fill="none"/>
<path d="M616.95 267.43V276.19M615.95 276.19H617.95" stroke="#202020" stroke-opacity="0.5" stroke-width="0.75" fill="none"/>
<path d="M621.43 254.40V275.51M620.43 254.40H622.43M620.43 275.51H622.43" stroke="#8f8f8f" stroke-width="0.75" fill="none"/>
<path d="M621.43 264.96V275.51M620.43 275.51H622.43" stroke="#202020" stroke-opacity="0.5" stroke-width="0.75" fill="none"/>
<path d="M625.91 257.55V261.14M624.91 257.55H626.91M624.91 261.14H626.91" stroke="#8f8f8f" stroke-width="0.75" fill="none"/>
<path d="M625.91 259.34V261.14M624.91 261.14H626.91" stroke="#202020" stroke-opacity="0.5" stroke-width="0.75" fill="none"/>
<path d="M637.36 250.13V263.16M636.36 250.13H638.36M636.36 263.16H638.36" stroke="#8f8f8f" stroke-width="0.75" fill="none"/>
<path d="M637.36 256.65V263.16M636.36 263.16H638.36" stroke="#202020" stroke-opacity="0.5" stroke-width="0.75" fill="none"/>
<path d="M641.84 252.16V273.27M640.84 252.16H642.84M640.84 273.27H642.84" stroke="#8f8f8f" stroke-width="0.75" fill="none"/>
<path d="M641.84 262.71V273.27M640.84 273.27H642.84" stroke="#202020" stroke-opacity="0.5" stroke-width="0.75" fill="none"/>
<path d="M646.31 246.77V270.12M645.31 246.77H647.31M645.31 270.12H647.31" stroke="#8f8f8f" stroke-width="0.75" fill="none"/>
<path d="M646.31 258.44V270.12M645.31 270.12H647.31" stroke="#202020" stroke-opacity="0.5" stroke-width="0.75" fill="none"/>
<path d="M650.79 259.79V263.39M649.79 259.79H651.79M649.79 263.39H651.79" stroke="#8f8f8f" stroke-width="0.75" fill="none"/>
<path d="M650.79 261.59V263.39M649.79 263.39H651.79" stroke="#202020" stroke-opacity="0.5" stroke-width="0.75" fill="none"/>
<path d="M662.24 250.13V260.47M661.24 250.13H663.24M661.24 260.47H663.24" stroke="#8f8f8f" stroke-width="0.75" fill="none"/>
<path d="M662.24 255.30V260.47M661.24 260.47H663.24" stroke="#202020" stroke-opacity="0.5" stroke-width="0.75" fill="none"/>
<path d="M666.72 253.05V267.88M665.72 253.05H667.72M665.72 267.88H667.72" stroke="#8f8f8f" stroke-width="0.75" fill="none"/>
<path d="M666.72 260.47V267.88M665.72 267.88H667.72" stroke="#202020" stroke-opacity="0.5" stroke-width="0.75" fill="none"/>
<path d="M671.20 247.89V264.96M670.20 247.89H672.20M670.20 264.96H672.20" stroke="#8f8f8f" stroke-width="0.75" fill="none"/>
<path d="M671.20 256.42V264.96M670.20 264.96H672.20" stroke="#202020" stroke-opacity="0.5" stroke-width="0.75" fill="none"/>
<path d="M675.68 261.59V264.73M674.68 261.59H676.68M674.68 264.73H676.68" stroke="#8f8f8f" stroke-width="0.75" fill="none"/>
<path d="M675.68 263.16V264.73M674.68 264.73H676.68" stroke="#202020" stroke-opacity="0.5" stroke-width="0.75" fill="none"/>
<line x1="382.30" y1="283.60" x2="382.30" y2="285.60" stroke="#b0b0b0" stroke-width="0.6"/>
<line x1="407.18" y1="283.60" x2="407.18" y2="285.60" stroke="#b0b0b0" stroke-width="0.6"/>
<line x1="432.07" y1="283.60" x2="432.07" y2="285.60" stroke="#b0b0b0" stroke-width="0.6"/>
<line x1="456.95" y1="283.60" x2="456.95" y2="285.60" stroke="#b0b0b0" stroke-width="0.6"/>
<line x1="481.83" y1="283.60" x2="481.83" y2="285.60" stroke="#b0b0b0" stroke-width="0.6"/>
<line x1="506.72" y1="283.60" x2="506.72" y2="285.60" stroke="#b0b0b0" stroke-width="0.6"/>
<line x1="531.60" y1="283.60" x2="531.60" y2="285.60" stroke="#b0b0b0" stroke-width="0.6"/>
<line x1="556.48" y1="283.60" x2="556.48" y2="285.60" stroke="#b0b0b0" stroke-width="0.6"/>
<line x1="581.37" y1="283.60" x2="581.37" y2="285.60" stroke="#b0b0b0" stroke-width="0.6"/>
<line x1="606.25" y1="283.60" x2="606.25" y2="285.60" stroke="#b0b0b0" stroke-width="0.6"/>
<line x1="631.13" y1="283.60" x2="631.13" y2="285.60" stroke="#b0b0b0" stroke-width="0.6"/>
<line x1="656.02" y1="283.60" x2="656.02" y2="285.60" stroke="#b0b0b0" stroke-width="0.6"/>
<line x1="680.90" y1="283.60" x2="680.90" y2="285.60" stroke="#b0b0b0" stroke-width="0.6"/>
<text x="377.30" y="285.98" font-size="7.2" text-anchor="end" fill="#0d0d0d" stroke="#0d0d0d" stroke-width="0.3">0</text>
<line x1="380.30" y1="283.60" x2="382.30" y2="283.60" stroke="#b0b0b0" stroke-width="0.6"/>
<text x="377.30" y="263.52" font-size="7.2" text-anchor="end" fill="#0d0d0d" stroke="#0d0d0d" stroke-width="0.3">5</text>
<line x1="380.30" y1="261.14" x2="382.30" y2="261.14" stroke="#b0b0b0" stroke-width="0.6"/>
<text x="377.30" y="241.06" font-size="7.2" text-anchor="end" fill="#0d0d0d" stroke="#0d0d0d" stroke-width="0.3">10</text>
<line x1="380.30" y1="238.68" x2="382.30" y2="238.68" stroke="#b0b0b0" stroke-width="0.6"/>
<text x="377.30" y="218.60" font-size="7.2" text-anchor="end" fill="#0d0d0d" stroke="#0d0d0d" stroke-width="0.3">15</text>
<line x1="380.30" y1="216.22" x2="382.30" y2="216.22" stroke="#b0b0b0" stroke-width="0.6"/>
<text x="377.30" y="196.14" font-size="7.2" text-anchor="end" fill="#0d0d0d" stroke="#0d0d0d" stroke-width="0.3">20</text>
<line x1="380.30" y1="193.76" x2="382.30" y2="193.76" stroke="#b0b0b0" stroke-width="0.6"/>
<text x="377.30" y="173.68" font-size="7.2" text-anchor="end" fill="#0d0d0d" stroke="#0d0d0d" stroke-width="0.3">25</text>
<line x1="380.30" y1="171.30" x2="382.30" y2="171.30" stroke="#b0b0b0" stroke-width="0.6"/>
<text x="395.24" y="295.68" font-size="7.2" text-anchor="middle" textLength="12.88" lengthAdjust="spacingAndGlyphs" fill="#0d0d0d" stroke="#0d0d0d" stroke-width="0.3">JAN</text>
<text x="420.12" y="295.68" font-size="7.2" text-anchor="middle" textLength="12.88" lengthAdjust="spacingAndGlyphs" fill="#0d0d0d" stroke="#0d0d0d" stroke-width="0.3">FEB</text>
<text x="445.01" y="295.68" font-size="7.2" text-anchor="middle" textLength="15.82" lengthAdjust="spacingAndGlyphs" fill="#0d0d0d" stroke="#0d0d0d" stroke-width="0.3">MAR</text>
<text x="469.89" y="295.68" font-size="7.2" text-anchor="middle" textLength="13.61" lengthAdjust="spacingAndGlyphs" fill="#0d0d0d" stroke="#0d0d0d" stroke-width="0.3">APR</text>
<text x="494.77" y="295.68" font-size="7.2" text-anchor="middle" textLength="15.21" lengthAdjust="spacingAndGlyphs" fill="#0d0d0d" stroke="#0d0d0d" stroke-width="0.3">MAY</text>
<text x="519.66" y="295.68" font-size="7.2" text-anchor="middle" textLength="12.88" lengthAdjust="spacingAndGlyphs" fill="#0d0d0d" stroke="#0d0d0d" stroke-width="0.3">JUN</text>
<text x="544.54" y="295.68" font-size="7.2" text-anchor="middle" textLength="12.51" lengthAdjust="spacingAndGlyphs" fill="#0d0d0d" stroke="#0d0d0d" stroke-width="0.3">JUL</text>
<text x="569.43" y="295.68" font-size="7.2" text-anchor="middle" textLength="14.72" lengthAdjust="spacingAndGlyphs" fill="#0d0d0d" stroke="#0d0d0d" stroke-width="0.3">AUG</text>
<text x="594.31" y="295.68" font-size="7.2" text-anchor="middle" textLength="12.15" lengthAdjust="spacingAndGlyphs" fill="#0d0d0d" stroke="#0d0d0d" stroke-width="0.3">SEP</text>
<text x="619.19" y="295.68" font-size="7.2" text-anchor="middle" textLength="14.35" lengthAdjust="spacingAndGlyphs" fill="#0d0d0d" stroke="#0d0d0d" stroke-width="0.3">OCT</text>
<text x="644.08" y="295.68" font-size="7.2" text-anchor="middle" textLength="14.72" lengthAdjust="spacingAndGlyphs" fill="#0d0d0d" stroke="#0d0d0d" stroke-width="0.3">NOV</text>
<text x="668.96" y="295.68" font-size="7.2" text-anchor="middle" textLength="13.99" lengthAdjust="spacingAndGlyphs" fill="#0d0d0d" stroke="#0d0d0d" stroke-width="0.3">DEC</text>
<text x="522.30" y="303.38" font-size="7.2" textLength="19.00" lengthAdjust="spacingAndGlyphs" fill="#0d0d0d" stroke="#0d0d0d" stroke-width="0.3">Month</text>
<text transform="translate(367.27 228.00) rotate(-90)" x="0" y="0" font-size="7.5" text-anchor="middle" textLength="91.00" lengthAdjust="spacingAndGlyphs" fill="#1a1a1a" stroke="#1a1a1a" stroke-width="0.3">Evaporation  Rate (mm/day)</text>
<text x="408.00" y="160.80" font-size="9.8" textLength="233.50" lengthAdjust="spacingAndGlyphs" fill="#0d0d0d" stroke="#0d0d0d" stroke-width="0.3">Average Evaporation Rates at Srisailam Reservoir (2015–2020)</text>
<text x="391.00" y="184.20" font-size="8.8" textLength="11.30" lengthAdjust="spacingAndGlyphs" fill="#0d0d0d" stroke="#0d0d0d" stroke-width="0.3">(d)</text>
<rect x="529.00" y="175.75" width="3.50" height="3.50" fill="#2b35ee"/>
<text x="534.20" y="179.64" font-size="7.4" textLength="118.50" lengthAdjust="spacingAndGlyphs" fill="#0d0d0d" stroke="#0d0d0d" stroke-width="0.3">Average of (2015-2020)Penman Equation</text>
<rect x="529.00" y="183.95" width="3.50" height="3.50" fill="#ed7d31"/>
<text x="534.20" y="187.84" font-size="7.4" textLength="118.49" lengthAdjust="spacingAndGlyphs" fill="#0d0d0d" stroke="#0d0d0d" stroke-width="0.3">Average of (2015-2020)Meyer`s Equation</text>
<rect x="529.00" y="192.05" width="3.50" height="3.50" fill="#1fa84a"/>
<text x="534.20" y="195.94" font-size="7.4" textLength="122.26" lengthAdjust="spacingAndGlyphs" fill="#0d0d0d" stroke="#0d0d0d" stroke-width="0.3">Average of (2015-2020)Rohwer's Equation</text>
<rect x="529.00" y="199.65" width="3.50" height="3.50" fill="#7030a0"/>
<text x="534.20" y="203.54" font-size="7.4" textLength="138.62" lengthAdjust="spacingAndGlyphs" fill="#0d0d0d" stroke="#0d0d0d" stroke-width="0.3">Average of (2015-2020)Blaney Criddle Equation</text>
<rect x="33.70" y="330.30" width="298.60" height="104.70" fill="none" stroke="#474747" stroke-width="1.2"/>
<rect x="37.78" y="407.52" width="4.48" height="27.73" fill="#3472d6"/>
<rect x="42.26" y="409.09" width="4.48" height="26.16" fill="#ff6c00"/>
<rect x="46.74" y="414.85" width="4.48" height="20.40" fill="#00b050"/>
<rect x="51.22" y="413.54" width="4.48" height="21.71" fill="#7030a0"/>
<rect x="62.67" y="400.19" width="4.48" height="35.06" fill="#3472d6"/>
<rect x="67.15" y="397.31" width="4.48" height="37.94" fill="#ff6c00"/>
<rect x="71.63" y="404.90" width="4.48" height="30.35" fill="#00b050"/>
<rect x="76.10" y="407.78" width="4.48" height="27.47" fill="#7030a0"/>
<rect x="87.55" y="392.60" width="4.48" height="42.65" fill="#3472d6"/>
<rect x="92.03" y="379.51" width="4.48" height="55.74" fill="#ff6c00"/>
<rect x="96.51" y="388.67" width="4.48" height="46.58" fill="#00b050"/>
<rect x="100.99" y="400.71" width="4.48" height="34.54" fill="#7030a0"/>
<rect x="112.43" y="387.10" width="4.48" height="48.15" fill="#3472d6"/>
<rect x="116.91" y="358.05" width="4.48" height="77.20" fill="#ff6c00"/>
<rect x="121.39" y="367.99" width="4.48" height="67.26" fill="#00b050"/>
<rect x="125.87" y="394.43" width="4.48" height="40.82" fill="#7030a0"/>
<rect x="137.32" y="389.98" width="4.48" height="45.27" fill="#3472d6"/>
<rect x="141.80" y="370.09" width="4.48" height="65.16" fill="#ff6c00"/>
<rect x="146.28" y="378.99" width="4.48" height="56.26" fill="#00b050"/>
<rect x="150.75" y="393.12" width="4.48" height="42.13" fill="#7030a0"/>
<rect x="162.20" y="400.45" width="4.48" height="34.80" fill="#3472d6"/>
<rect x="166.68" y="402.54" width="4.48" height="32.71" fill="#ff6c00"/>
<rect x="171.16" y="407.52" width="4.48" height="27.73" fill="#00b050"/>
<rect x="175.64" y="396.78" width="4.48" height="38.47" fill="#7030a0"/>
<rect x="187.08" y="405.42" width="4.48" height="29.83" fill="#3472d6"/>
<rect x="191.56" y="413.80" width="4.48" height="21.45" fill="#ff6c00"/>
<rect x="196.04" y="417.20" width="4.48" height="18.05" fill="#00b050"/>
<rect x="200.52" y="398.88" width="4.48" height="36.37" fill="#7030a0"/>
<rect x="211.97" y="406.47" width="4.48" height="28.78" fill="#3472d6"/>
<rect x="216.45" y="418.25" width="4.48" height="17.00" fill="#ff6c00"/>
<rect x="220.93" y="420.87" width="4.48" height="14.38" fill="#00b050"/>
<rect x="225.40" y="400.71" width="4.48" height="34.54" fill="#7030a0"/>
<rect x="236.85" y="407.25" width="4.48" height="28.00" fill="#3472d6"/>
<rect x="241.33" y="421.13" width="4.48" height="14.12" fill="#ff6c00"/>
<rect x="245.81" y="423.48" width="4.48" height="11.77" fill="#00b050"/>
<rect x="250.29" y="402.80" width="4.48" height="32.45" fill="#7030a0"/>
<rect x="261.73" y="407.78" width="4.48" height="27.47" fill="#3472d6"/>
<rect x="266.21" y="417.72" width="4.48" height="17.53" fill="#ff6c00"/>
<rect x="270.69" y="421.13" width="4.48" height="14.12" fill="#00b050"/>
<rect x="275.17" y="405.68" width="4.48" height="29.57" fill="#7030a0"/>
<rect x="286.62" y="410.66" width="4.48" height="24.59" fill="#3472d6"/>
<rect x="291.10" y="417.46" width="4.48" height="17.79" fill="#ff6c00"/>
<rect x="295.58" y="420.87" width="4.48" height="14.38" fill="#00b050"/>
<rect x="300.05" y="411.18" width="4.48" height="24.07" fill="#7030a0"/>
<rect x="311.50" y="411.44" width="4.48" height="23.81" fill="#3472d6"/>
<rect x="315.98" y="415.63" width="4.48" height="19.62" fill="#ff6c00"/>
<rect x="320.46" y="419.82" width="4.48" height="15.43" fill="#00b050"/>
<rect x="324.94" y="414.32" width="4.48" height="20.93" fill="#7030a0"/>
<path d="M40.02 405.42V409.61M39.02 405.42H41.02M39.02 409.61H41.02" stroke="#8f8f8f" stroke-width="0.75" fill="none"/>
<path d="M40.02 407.52V409.61M39.02 409.61H41.02" stroke="#202020" stroke-opacity="0.5" stroke-width="0.75" fill="none"/>
<path d="M44.50 405.42V412.75M43.50 405.42H45.50M43.50 412.75H45.50" stroke="#8f8f8f" stroke-width="0.75" fill="none"/>
<path d="M44.50 409.09V412.75M43.50 412.75H45.50" stroke="#202020" stroke-opacity="0.5" stroke-width="0.75" fill="none"/>
<path d="M48.98 411.97V417.72M47.98 411.97H49.98M47.98 417.72H49.98" stroke="#8f8f8f" stroke-width="0.75" fill="none"/>
<path d="M48.98 414.85V417.72M47.98 417.72H49.98" stroke="#202020" stroke-opacity="0.5" stroke-width="0.75" fill="none"/>
<path d="M53.46 413.01V414.06M52.46 413.01H54.46M52.46 414.06H54.46" stroke="#8f8f8f" stroke-width="0.75" fill="none"/>
<path d="M53.46 413.54V414.06M52.46 414.06H54.46" stroke="#202020" stroke-opacity="0.5" stroke-width="0.75" fill="none"/>
<path d="M64.91 397.57V402.80M63.91 397.57H65.91M63.91 402.80H65.91" stroke="#8f8f8f" stroke-width="0.75" fill="none"/>
<path d="M64.91 400.19V402.80M63.91 402.80H65.91" stroke="#202020" stroke-opacity="0.5" stroke-width="0.75" fill="none"/>
<path d="M69.39 393.38V401.23M68.39 393.38H70.39M68.39 401.23H70.39" stroke="#8f8f8f" stroke-width="0.75" fill="none"/>
<path d="M69.39 397.31V401.23M68.39 401.23H70.39" stroke="#202020" stroke-opacity="0.5" stroke-width="0.75" fill="none"/>
<path d="M73.86 401.76V408.04M72.86 401.76H74.86M72.86 408.04H74.86" stroke="#8f8f8f" stroke-width="0.75" fill="none"/>
<path d="M73.86 404.90V408.04M72.86 408.04H74.86" stroke="#202020" stroke-opacity="0.5" stroke-width="0.75" fill="none"/>
<path d="M78.34 406.99V408.56M77.34 406.99H79.34M77.34 408.56H79.34" stroke="#8f8f8f" stroke-width="0.75" fill="none"/>
<path d="M78.34 407.78V408.56M77.34 408.56H79.34" stroke="#202020" stroke-opacity="0.5" stroke-width="0.75" fill="none"/>
<path d="M89.79 389.19V396.00M88.79 389.19H90.79M88.79 396.00H90.79" stroke="#8f8f8f" stroke-width="0.75" fill="none"/>
<path d="M89.79 392.60V396.00M88.79 396.00H90.79" stroke="#202020" stroke-opacity="0.5" stroke-width="0.75" fill="none"/>
<path d="M94.27 371.39V387.62M93.27 371.39H95.27M93.27 387.62H95.27" stroke="#8f8f8f" stroke-width="0.75" fill="none"/>
<path d="M94.27 379.51V387.62M93.27 387.62H95.27" stroke="#202020" stroke-opacity="0.5" stroke-width="0.75" fill="none"/>
<path d="M98.75 381.34V396.00M97.75 381.34H99.75M97.75 396.00H99.75" stroke="#8f8f8f" stroke-width="0.75" fill="none"/>
<path d="M98.75 388.67V396.00M97.75 396.00H99.75" stroke="#202020" stroke-opacity="0.5" stroke-width="0.75" fill="none"/>
<path d="M103.23 400.45V400.97M102.23 400.45H104.23M102.23 400.97H104.23" stroke="#8f8f8f" stroke-width="0.75" fill="none"/>
<path d="M103.23 400.71V400.97M102.23 400.97H104.23" stroke="#202020" stroke-opacity="0.5" stroke-width="0.75" fill="none"/>
<path d="M114.67 382.13V392.07M113.67 382.13H115.67M113.67 392.07H115.67" stroke="#8f8f8f" stroke-width="0.75" fill="none"/>
<path d="M114.67 387.10V392.07M113.67 392.07H115.67" stroke="#202020" stroke-opacity="0.5" stroke-width="0.75" fill="none"/>
<path d="M119.15 342.86V373.23M118.15 342.86H120.15M118.15 373.23H120.15" stroke="#8f8f8f" stroke-width="0.75" fill="none"/>
<path d="M119.15 358.05V373.23M118.15 373.23H120.15" stroke="#202020" stroke-opacity="0.5" stroke-width="0.75" fill="none"/>
<path d="M123.63 353.86V382.13M122.63 353.86H124.63M122.63 382.13H124.63" stroke="#8f8f8f" stroke-width="0.75" fill="none"/>
<path d="M123.63 367.99V382.13M122.63 382.13H124.63" stroke="#202020" stroke-opacity="0.5" stroke-width="0.75" fill="none"/>
<path d="M128.11 393.12V395.74M127.11 393.12H129.11M127.11 395.74H129.11" stroke="#8f8f8f" stroke-width="0.75" fill="none"/>
<path d="M128.11 394.43V395.74M127.11 395.74H129.11" stroke="#202020" stroke-opacity="0.5" stroke-width="0.75" fill="none"/>
<path d="M139.56 387.10V392.86M138.56 387.10H140.56M138.56 392.86H140.56" stroke="#8f8f8f" stroke-width="0.75" fill="none"/>
<path d="M139.56 389.98V392.86M138.56 392.86H140.56" stroke="#202020" stroke-opacity="0.5" stroke-width="0.75" fill="none"/>
<path d="M144.04 362.76V377.42M143.04 362.76H145.04M143.04 377.42H145.04" stroke="#8f8f8f" stroke-width="0.75" fill="none"/>
<path d="M144.04 370.09V377.42M143.04 377.42H145.04" stroke="#202020" stroke-opacity="0.5" stroke-width="0.75" fill="none"/>
<path d="M148.51 372.70V385.27M147.51 372.70H149.51M147.51 385.27H149.51" stroke="#8f8f8f" stroke-width="0.75" fill="none"/>
<path d="M148.51 378.99V385.27M147.51 385.27H149.51" stroke="#202020" stroke-opacity="0.5" stroke-width="0.75" fill="none"/>
<path d="M152.99 391.81V394.43M151.99 391.81H153.99M151.99 394.43H153.99" stroke="#8f8f8f" stroke-width="0.75" fill="none"/>
<path d="M152.99 393.12V394.43M151.99 394.43H153.99" stroke="#202020" stroke-opacity="0.5" stroke-width="0.75" fill="none"/>
<path d="M164.44 398.36V402.54M163.44 398.36H165.44M163.44 402.54H165.44" stroke="#8f8f8f" stroke-width="0.75" fill="none"/>
<path d="M164.44 400.45V402.54M163.44 402.54H165.44" stroke="#202020" stroke-opacity="0.5" stroke-width="0.75" fill="none"/>
<path d="M168.92 395.21V409.87M167.92 395.21H169.92M167.92 409.87H169.92" stroke="#8f8f8f" stroke-width="0.75" fill="none"/>
<path d="M168.92 402.54V409.87M167.92 409.87H169.92" stroke="#202020" stroke-opacity="0.5" stroke-width="0.75" fill="none"/>
<path d="M173.40 401.50V413.54M172.40 401.50H174.40M172.40 413.54H174.40" stroke="#8f8f8f" stroke-width="0.75" fill="none"/>
<path d="M173.40 407.52V413.54M172.40 413.54H174.40" stroke="#202020" stroke-opacity="0.5" stroke-width="0.75" fill="none"/>
<path d="M177.88 395.74V397.83M176.88 395.74H178.88M176.88 397.83H178.88" stroke="#8f8f8f" stroke-width="0.75" fill="none"/>
<path d="M177.88 396.78V397.83M176.88 397.83H178.88" stroke="#202020" stroke-opacity="0.5" stroke-width="0.75" fill="none"/>
<path d="M189.32 403.85V406.99M188.32 403.85H190.32M188.32 406.99H190.32" stroke="#8f8f8f" stroke-width="0.75" fill="none"/>
<path d="M189.32 405.42V406.99M188.32 406.99H190.32" stroke="#202020" stroke-opacity="0.5" stroke-width="0.75" fill="none"/>
<path d="M193.80 409.61V417.99M192.80 409.61H194.80M192.80 417.99H194.80" stroke="#8f8f8f" stroke-width="0.75" fill="none"/>
<path d="M193.80 413.80V417.99M192.80 417.99H194.80" stroke="#202020" stroke-opacity="0.5" stroke-width="0.75" fill="none"/>
<path d="M198.28 413.54V420.87M197.28 413.54H199.28M197.28 420.87H199.28" stroke="#8f8f8f" stroke-width="0.75" fill="none"/>
<path d="M198.28 417.20V420.87M197.28 420.87H199.28" stroke="#202020" stroke-opacity="0.5" stroke-width="0.75" fill="none"/>
<path d="M202.76 398.36V399.40M201.76 398.36H203.76M201.76 399.40H203.76" stroke="#8f8f8f" stroke-width="0.75" fill="none"/>
<path d="M202.76 398.88V399.40M201.76 399.40H203.76" stroke="#202020" stroke-opacity="0.5" stroke-width="0.75" fill="none"/>
<path d="M214.21 405.42V407.52M213.21 405.42H215.21M213.21 407.52H215.21" stroke="#8f8f8f" stroke-width="0.75" fill="none"/>
<path d="M214.21 406.47V407.52M213.21 407.52H215.21" stroke="#202020" stroke-opacity="0.5" stroke-width="0.75" fill="none"/>
<path d="M218.69 416.42V420.08M217.69 416.42H219.69M217.69 420.08H219.69" stroke="#8f8f8f" stroke-width="0.75" fill="none"/>
<path d="M218.69 418.25V420.08M217.69 420.08H219.69" stroke="#202020" stroke-opacity="0.5" stroke-width="0.75" fill="none"/>
<path d="M223.16 419.30V422.44M222.16 419.30H224.16M222.16 422.44H224.16" stroke="#8f8f8f" stroke-width="0.75" fill="none"/>
<path d="M223.16 420.87V422.44M222.16 422.44H224.16" stroke="#202020" stroke-opacity="0.5" stroke-width="0.75" fill="none"/>
<path d="M227.64 400.19V401.23M226.64 400.19H228.64M226.64 401.23H228.64" stroke="#8f8f8f" stroke-width="0.75" fill="none"/>
<path d="M227.64 400.71V401.23M226.64 401.23H228.64" stroke="#202020" stroke-opacity="0.5" stroke-width="0.75" fill="none"/>
<path d="M239.09 406.21V408.30M238.09 406.21H240.09M238.09 408.30H240.09" stroke="#8f8f8f" stroke-width="0.75" fill="none"/>
<path d="M239.09 407.25V408.30M238.09 408.30H240.09" stroke="#202020" stroke-opacity="0.5" stroke-width="0.75" fill="none"/>
<path d="M243.57 419.03V423.22M242.57 419.03H244.57M242.57 423.22H244.57" stroke="#8f8f8f" stroke-width="0.75" fill="none"/>
<path d="M243.57 421.13V423.22M242.57 423.22H244.57" stroke="#202020" stroke-opacity="0.5" stroke-width="0.75" fill="none"/>
<path d="M248.05 421.91V425.05M247.05 421.91H249.05M247.05 425.05H249.05" stroke="#8f8f8f" stroke-width="0.75" fill="none"/>
<path d="M248.05 423.48V425.05M247.05 425.05H249.05" stroke="#202020" stroke-opacity="0.5" stroke-width="0.75" fill="none"/>
<path d="M252.53 402.02V403.59M251.53 402.02H253.53M251.53 403.59H253.53" stroke="#8f8f8f" stroke-width="0.75" fill="none"/>
<path d="M252.53 402.80V403.59M251.53 403.59H253.53" stroke="#202020" stroke-opacity="0.5" stroke-width="0.75" fill="none"/>
<path d="M263.97 406.73V408.82M262.97 406.73H264.97M262.97 408.82H264.97" stroke="#8f8f8f" stroke-width="0.75" fill="none"/>
<path d="M263.97 407.78V408.82M262.97 408.82H264.97" stroke="#202020" stroke-opacity="0.5" stroke-width="0.75" fill="none"/>
<path d="M268.45 413.80V421.65M267.45 413.80H269.45M267.45 421.65H269.45" stroke="#8f8f8f" stroke-width="0.75" fill="none"/>
<path d="M268.45 417.72V421.65M267.45 421.65H269.45" stroke="#202020" stroke-opacity="0.5" stroke-width="0.75" fill="none"/>
<path d="M272.93 418.25V424.01M271.93 418.25H273.93M271.93 424.01H273.93" stroke="#8f8f8f" stroke-width="0.75" fill="none"/>
<path d="M272.93 421.13V424.01M271.93 424.01H273.93" stroke="#202020" stroke-opacity="0.5" stroke-width="0.75" fill="none"/>
<path d="M277.41 405.16V406.21M276.41 405.16H278.41M276.41 406.21H278.41" stroke="#8f8f8f" stroke-width="0.75" fill="none"/>
<path d="M277.41 405.68V406.21M276.41 406.21H278.41" stroke="#202020" stroke-opacity="0.5" stroke-width="0.75" fill="none"/>
<path d="M288.86 409.09V412.23M287.86 409.09H289.86M287.86 412.23H289.86" stroke="#8f8f8f" stroke-width="0.75" fill="none"/>
<path d="M288.86 410.66V412.23M287.86 412.23H289.86" stroke="#202020" stroke-opacity="0.5" stroke-width="0.75" fill="none"/>
<path d="M293.34 415.37V419.56M292.34 415.37H294.34M292.34 419.56H294.34" stroke="#8f8f8f" stroke-width="0.75" fill="none"/>
<path d="M293.34 417.46V419.56M292.34 419.56H294.34" stroke="#202020" stroke-opacity="0.5" stroke-width="0.75" fill="none"/>
<path d="M297.81 419.30V422.44M296.81 419.30H298.81M296.81 422.44H298.81" stroke="#8f8f8f" stroke-width="0.75" fill="none"/>
<path d="M297.81 420.87V422.44M296.81 422.44H298.81" stroke="#202020" stroke-opacity="0.5" stroke-width="0.75" fill="none"/>
<path d="M302.29 410.66V411.70M301.29 410.66H303.29M301.29 411.70H303.29" stroke="#8f8f8f" stroke-width="0.75" fill="none"/>
<path d="M302.29 411.18V411.70M301.29 411.70H303.29" stroke="#202020" stroke-opacity="0.5" stroke-width="0.75" fill="none"/>
<path d="M313.74 410.13V412.75M312.74 410.13H314.74M312.74 412.75H314.74" stroke="#8f8f8f" stroke-width="0.75" fill="none"/>
<path d="M313.74 411.44V412.75M312.74 412.75H314.74" stroke="#202020" stroke-opacity="0.5" stroke-width="0.75" fill="none"/>
<path d="M318.22 411.44V419.82M317.22 411.44H319.22M317.22 419.82H319.22" stroke="#8f8f8f" stroke-width="0.75" fill="none"/>
<path d="M318.22 415.63V419.82M317.22 419.82H319.22" stroke="#202020" stroke-opacity="0.5" stroke-width="0.75" fill="none"/>
<path d="M322.70 416.42V423.22M321.70 416.42H323.70M321.70 423.22H323.70" stroke="#8f8f8f" stroke-width="0.75" fill="none"/>
<path d="M322.70 419.82V423.22M321.70 423.22H323.70" stroke="#202020" stroke-opacity="0.5" stroke-width="0.75" fill="none"/>
<path d="M327.18 413.80V414.85M326.18 413.80H328.18M326.18 414.85H328.18" stroke="#8f8f8f" stroke-width="0.75" fill="none"/>
<path d="M327.18 414.32V414.85M326.18 414.85H328.18" stroke="#202020" stroke-opacity="0.5" stroke-width="0.75" fill="none"/>
<line x1="33.70" y1="435.00" x2="33.70" y2="437.00" stroke="#b0b0b0" stroke-width="0.6"/>
<line x1="58.58" y1="435.00" x2="58.58" y2="437.00" stroke="#b0b0b0" stroke-width="0.6"/>
<line x1="83.47" y1="435.00" x2="83.47" y2="437.00" stroke="#b0b0b0" stroke-width="0.6"/>
<line x1="108.35" y1="435.00" x2="108.35" y2="437.00" stroke="#b0b0b0" stroke-width="0.6"/>
<line x1="133.23" y1="435.00" x2="133.23" y2="437.00" stroke="#b0b0b0" stroke-width="0.6"/>
<line x1="158.12" y1="435.00" x2="158.12" y2="437.00" stroke="#b0b0b0" stroke-width="0.6"/>
<line x1="183.00" y1="435.00" x2="183.00" y2="437.00" stroke="#b0b0b0" stroke-width="0.6"/>
<line x1="207.88" y1="435.00" x2="207.88" y2="437.00" stroke="#b0b0b0" stroke-width="0.6"/>
<line x1="232.77" y1="435.00" x2="232.77" y2="437.00" stroke="#b0b0b0" stroke-width="0.6"/>
<line x1="257.65" y1="435.00" x2="257.65" y2="437.00" stroke="#b0b0b0" stroke-width="0.6"/>
<line x1="282.53" y1="435.00" x2="282.53" y2="437.00" stroke="#b0b0b0" stroke-width="0.6"/>
<line x1="307.42" y1="435.00" x2="307.42" y2="437.00" stroke="#b0b0b0" stroke-width="0.6"/>
<line x1="332.30" y1="435.00" x2="332.30" y2="437.00" stroke="#b0b0b0" stroke-width="0.6"/>
<text x="28.70" y="437.38" font-size="7.2" text-anchor="end" fill="#0d0d0d" stroke="#0d0d0d" stroke-width="0.3">0</text>
<line x1="31.70" y1="435.00" x2="33.70" y2="435.00" stroke="#b0b0b0" stroke-width="0.6"/>
<text x="28.70" y="411.20" font-size="7.2" text-anchor="end" fill="#0d0d0d" stroke="#0d0d0d" stroke-width="0.3">5</text>
<line x1="31.70" y1="408.82" x2="33.70" y2="408.82" stroke="#b0b0b0" stroke-width="0.6"/>
<text x="28.70" y="385.03" font-size="7.2" text-anchor="end" fill="#0d0d0d" stroke="#0d0d0d" stroke-width="0.3">10</text>
<line x1="31.70" y1="382.65" x2="33.70" y2="382.65" stroke="#b0b0b0" stroke-width="0.6"/>
<text x="28.70" y="358.85" font-size="7.2" text-anchor="end" fill="#0d0d0d" stroke="#0d0d0d" stroke-width="0.3">15</text>
<line x1="31.70" y1="356.48" x2="33.70" y2="356.48" stroke="#b0b0b0" stroke-width="0.6"/>
<text x="28.70" y="332.68" font-size="7.2" text-anchor="end" fill="#0d0d0d" stroke="#0d0d0d" stroke-width="0.3">20</text>
<line x1="31.70" y1="330.30" x2="33.70" y2="330.30" stroke="#b0b0b0" stroke-width="0.6"/>
<text x="46.74" y="445.98" font-size="7.2" text-anchor="middle" textLength="12.88" lengthAdjust="spacingAndGlyphs" fill="#0d0d0d" stroke="#0d0d0d" stroke-width="0.3">JAN</text>
<text x="71.62" y="445.98" font-size="7.2" text-anchor="middle" textLength="12.88" lengthAdjust="spacingAndGlyphs" fill="#0d0d0d" stroke="#0d0d0d" stroke-width="0.3">FEB</text>
<text x="96.51" y="445.98" font-size="7.2" text-anchor="middle" textLength="15.82" lengthAdjust="spacingAndGlyphs" fill="#0d0d0d" stroke="#0d0d0d" stroke-width="0.3">MAR</text>
<text x="121.39" y="445.98" font-size="7.2" text-anchor="middle" textLength="13.61" lengthAdjust="spacingAndGlyphs" fill="#0d0d0d" stroke="#0d0d0d" stroke-width="0.3">APR</text>
<text x="146.28" y="445.98" font-size="7.2" text-anchor="middle" textLength="15.21" lengthAdjust="spacingAndGlyphs" fill="#0d0d0d" stroke="#0d0d0d" stroke-width="0.3">MAY</text>
<text x="171.16" y="445.98" font-size="7.2" text-anchor="middle" textLength="12.88" lengthAdjust="spacingAndGlyphs" fill="#0d0d0d" stroke="#0d0d0d" stroke-width="0.3">JUN</text>
<text x="196.04" y="445.98" font-size="7.2" text-anchor="middle" textLength="12.51" lengthAdjust="spacingAndGlyphs" fill="#0d0d0d" stroke="#0d0d0d" stroke-width="0.3">JUL</text>
<text x="220.93" y="445.98" font-size="7.2" text-anchor="middle" textLength="14.72" lengthAdjust="spacingAndGlyphs" fill="#0d0d0d" stroke="#0d0d0d" stroke-width="0.3">AUG</text>
<text x="245.81" y="445.98" font-size="7.2" text-anchor="middle" textLength="12.15" lengthAdjust="spacingAndGlyphs" fill="#0d0d0d" stroke="#0d0d0d" stroke-width="0.3">SEP</text>
<text x="270.69" y="445.98" font-size="7.2" text-anchor="middle" textLength="14.35" lengthAdjust="spacingAndGlyphs" fill="#0d0d0d" stroke="#0d0d0d" stroke-width="0.3">OCT</text>
<text x="295.58" y="445.98" font-size="7.2" text-anchor="middle" textLength="14.72" lengthAdjust="spacingAndGlyphs" fill="#0d0d0d" stroke="#0d0d0d" stroke-width="0.3">NOV</text>
<text x="320.46" y="445.98" font-size="7.2" text-anchor="middle" textLength="13.99" lengthAdjust="spacingAndGlyphs" fill="#0d0d0d" stroke="#0d0d0d" stroke-width="0.3">DEC</text>
<text x="174.20" y="455.38" font-size="7.2" textLength="19.00" lengthAdjust="spacingAndGlyphs" fill="#0d0d0d" stroke="#0d0d0d" stroke-width="0.3">Month</text>
<text transform="translate(16.95 380.20) rotate(-90)" x="0" y="0" font-size="7" text-anchor="middle" textLength="84.50" lengthAdjust="spacingAndGlyphs" fill="#1a1a1a" stroke="#1a1a1a" stroke-width="0.3">Evaporation  Rate (mm/day)</text>
<text x="54.80" y="320.90" font-size="9.2" textLength="230.10" lengthAdjust="spacingAndGlyphs" fill="#0d0d0d" stroke="#0d0d0d" stroke-width="0.3">Average Evaporation Rates at Madduvalasa Reservoir (2015–2020)</text>
<text x="42.90" y="345.30" font-size="8.8" textLength="10.60" lengthAdjust="spacingAndGlyphs" fill="#0d0d0d" stroke="#0d0d0d" stroke-width="0.3">(e)</text>
<rect x="176.80" y="337.65" width="3.10" height="3.10" fill="#3472d6"/>
<text x="181.50" y="341.34" font-size="7.4" textLength="117.90" lengthAdjust="spacingAndGlyphs" fill="#0d0d0d" stroke="#0d0d0d" stroke-width="0.3">Average of (2015-2020)Penman Equation</text>
<rect x="176.80" y="348.85" width="3.10" height="3.10" fill="#ff6c00"/>
<text x="181.50" y="352.54" font-size="7.4" textLength="117.89" lengthAdjust="spacingAndGlyphs" fill="#0d0d0d" stroke="#0d0d0d" stroke-width="0.3">Average of (2015-2020)Meyer`s Equation</text>
<rect x="176.80" y="359.95" width="3.10" height="3.10" fill="#00b050"/>
<text x="181.50" y="363.64" font-size="7.4" textLength="121.64" lengthAdjust="spacingAndGlyphs" fill="#0d0d0d" stroke="#0d0d0d" stroke-width="0.3">Average of (2015-2020)Rohwer's Equation</text>
<rect x="176.80" y="370.75" width="3.10" height="3.10" fill="#7030a0"/>
<text x="181.50" y="374.44" font-size="7.4" textLength="137.92" lengthAdjust="spacingAndGlyphs" fill="#0d0d0d" stroke="#0d0d0d" stroke-width="0.3">Average of (2015-2020)Blaney Criddle Equation</text>
<rect x="382.90" y="326.30" width="298.60" height="111.70" fill="none" stroke="#474747" stroke-width="1.2"/>
<rect x="386.58" y="415.66" width="4.60" height="22.59" fill="#306cd2"/>
<rect x="391.19" y="419.01" width="4.60" height="19.24" fill="#ff6d00"/>
<rect x="395.79" y="422.59" width="4.60" height="15.66" fill="#00b050"/>
<rect x="400.40" y="417.45" width="4.60" height="20.80" fill="#7030a0"/>
<rect x="411.47" y="409.18" width="4.60" height="29.07" fill="#306cd2"/>
<rect x="416.07" y="405.61" width="4.60" height="32.64" fill="#ff6d00"/>
<rect x="420.67" y="411.19" width="4.60" height="27.06" fill="#00b050"/>
<rect x="425.28" y="413.87" width="4.60" height="24.38" fill="#7030a0"/>
<rect x="436.35" y="398.68" width="4.60" height="39.57" fill="#306cd2"/>
<rect x="440.95" y="378.80" width="4.60" height="59.45" fill="#ff6d00"/>
<rect x="445.56" y="387.74" width="4.60" height="50.51" fill="#00b050"/>
<rect x="450.16" y="407.39" width="4.60" height="30.86" fill="#7030a0"/>
<rect x="461.23" y="390.19" width="4.60" height="48.06" fill="#306cd2"/>
<rect x="465.84" y="354.90" width="4.60" height="83.35" fill="#ff6d00"/>
<rect x="470.44" y="366.07" width="4.60" height="72.18" fill="#00b050"/>
<rect x="475.05" y="400.92" width="4.60" height="37.33" fill="#7030a0"/>
<rect x="486.12" y="390.64" width="4.60" height="47.61" fill="#306cd2"/>
<rect x="490.72" y="349.98" width="4.60" height="88.27" fill="#ff6d00"/>
<rect x="495.32" y="361.37" width="4.60" height="76.88" fill="#00b050"/>
<rect x="499.93" y="398.90" width="4.60" height="39.35" fill="#7030a0"/>
<rect x="511.00" y="401.59" width="4.60" height="36.66" fill="#306cd2"/>
<rect x="515.60" y="372.77" width="4.60" height="65.48" fill="#ff6d00"/>
<rect x="520.21" y="379.69" width="4.60" height="58.56" fill="#00b050"/>
<rect x="524.81" y="403.60" width="4.60" height="34.65" fill="#7030a0"/>
<rect x="535.88" y="403.60" width="4.60" height="34.65" fill="#306cd2"/>
<rect x="540.49" y="375.00" width="4.60" height="63.25" fill="#ff6d00"/>
<rect x="545.09" y="380.81" width="4.60" height="57.44" fill="#00b050"/>
<rect x="549.70" y="404.94" width="4.60" height="33.31" fill="#7030a0"/>
<rect x="560.77" y="407.39" width="4.60" height="30.86" fill="#306cd2"/>
<rect x="565.37" y="390.64" width="4.60" height="47.61" fill="#ff6d00"/>
<rect x="569.98" y="395.33" width="4.60" height="42.92" fill="#00b050"/>
<rect x="574.58" y="406.95" width="4.60" height="31.30" fill="#7030a0"/>
<rect x="585.65" y="410.75" width="4.60" height="27.50" fill="#306cd2"/>
<rect x="590.25" y="408.96" width="4.60" height="29.29" fill="#ff6d00"/>
<rect x="594.86" y="413.87" width="4.60" height="24.38" fill="#00b050"/>
<rect x="599.46" y="409.40" width="4.60" height="28.85" fill="#7030a0"/>
<rect x="610.53" y="411.64" width="4.60" height="26.61" fill="#306cd2"/>
<rect x="615.14" y="413.87" width="4.60" height="24.38" fill="#ff6d00"/>
<rect x="619.74" y="418.12" width="4.60" height="20.13" fill="#00b050"/>
<rect x="624.35" y="411.86" width="4.60" height="26.39" fill="#7030a0"/>
<rect x="635.42" y="415.21" width="4.60" height="23.04" fill="#306cd2"/>
<rect x="640.02" y="419.90" width="4.60" height="18.35" fill="#ff6d00"/>
<rect x="644.62" y="423.03" width="4.60" height="15.22" fill="#00b050"/>
<rect x="649.23" y="414.77" width="4.60" height="23.48" fill="#7030a0"/>
<rect x="660.30" y="417.89" width="4.60" height="20.36" fill="#306cd2"/>
<rect x="664.90" y="423.70" width="4.60" height="14.55" fill="#ff6d00"/>
<rect x="669.51" y="426.83" width="4.60" height="11.42" fill="#00b050"/>
<rect x="674.11" y="417.67" width="4.60" height="20.58" fill="#7030a0"/>
<path d="M388.89 413.43V417.89M387.89 413.43H389.89M387.89 417.89H389.89" stroke="#8f8f8f" stroke-width="0.75" fill="none"/>
<path d="M388.89 415.66V417.89M387.89 417.89H389.89" stroke="#202020" stroke-opacity="0.5" stroke-width="0.75" fill="none"/>
<path d="M393.49 414.54V423.48M392.49 414.54H394.49M392.49 423.48H394.49" stroke="#8f8f8f" stroke-width="0.75" fill="none"/>
<path d="M393.49 419.01V423.48M392.49 423.48H394.49" stroke="#202020" stroke-opacity="0.5" stroke-width="0.75" fill="none"/>
<path d="M398.09 418.56V426.61M397.09 418.56H399.09M397.09 426.61H399.09" stroke="#8f8f8f" stroke-width="0.75" fill="none"/>
<path d="M398.09 422.59V426.61M397.09 426.61H399.09" stroke="#202020" stroke-opacity="0.5" stroke-width="0.75" fill="none"/>
<path d="M402.70 416.78V418.12M401.70 416.78H403.70M401.70 418.12H403.70" stroke="#8f8f8f" stroke-width="0.75" fill="none"/>
<path d="M402.70 417.45V418.12M401.70 418.12H403.70" stroke="#202020" stroke-opacity="0.5" stroke-width="0.75" fill="none"/>
<path d="M413.77 405.83V412.53M412.77 405.83H414.77M412.77 412.53H414.77" stroke="#8f8f8f" stroke-width="0.75" fill="none"/>
<path d="M413.77 409.18V412.53M412.77 412.53H414.77" stroke="#202020" stroke-opacity="0.5" stroke-width="0.75" fill="none"/>
<path d="M418.37 398.01V413.20M417.37 398.01H419.37M417.37 413.20H419.37" stroke="#8f8f8f" stroke-width="0.75" fill="none"/>
<path d="M418.37 405.61V413.20M417.37 413.20H419.37" stroke="#202020" stroke-opacity="0.5" stroke-width="0.75" fill="none"/>
<path d="M422.98 404.71V417.67M421.98 404.71H423.98M421.98 417.67H423.98" stroke="#8f8f8f" stroke-width="0.75" fill="none"/>
<path d="M422.98 411.19V417.67M421.98 417.67H423.98" stroke="#202020" stroke-opacity="0.5" stroke-width="0.75" fill="none"/>
<path d="M427.58 412.98V414.77M426.58 412.98H428.58M426.58 414.77H428.58" stroke="#8f8f8f" stroke-width="0.75" fill="none"/>
<path d="M427.58 413.87V414.77M426.58 414.77H428.58" stroke="#202020" stroke-opacity="0.5" stroke-width="0.75" fill="none"/>
<path d="M438.65 394.21V403.15M437.65 394.21H439.65M437.65 403.15H439.65" stroke="#8f8f8f" stroke-width="0.75" fill="none"/>
<path d="M438.65 398.68V403.15M437.65 403.15H439.65" stroke="#202020" stroke-opacity="0.5" stroke-width="0.75" fill="none"/>
<path d="M443.26 368.75V388.85M442.26 368.75H444.26M442.26 388.85H444.26" stroke="#8f8f8f" stroke-width="0.75" fill="none"/>
<path d="M443.26 378.80V388.85M442.26 388.85H444.26" stroke="#202020" stroke-opacity="0.5" stroke-width="0.75" fill="none"/>
<path d="M447.86 378.80V396.67M446.86 378.80H448.86M446.86 396.67H448.86" stroke="#8f8f8f" stroke-width="0.75" fill="none"/>
<path d="M447.86 387.74V396.67M446.86 396.67H448.86" stroke="#202020" stroke-opacity="0.5" stroke-width="0.75" fill="none"/>
<path d="M452.46 406.50V408.29M451.46 406.50H453.46M451.46 408.29H453.46" stroke="#8f8f8f" stroke-width="0.75" fill="none"/>
<path d="M452.46 407.39V408.29M451.46 408.29H453.46" stroke="#202020" stroke-opacity="0.5" stroke-width="0.75" fill="none"/>
<path d="M463.54 385.05V395.33M462.54 385.05H464.54M462.54 395.33H464.54" stroke="#8f8f8f" stroke-width="0.75" fill="none"/>
<path d="M463.54 390.19V395.33M462.54 395.33H464.54" stroke="#202020" stroke-opacity="0.5" stroke-width="0.75" fill="none"/>
<path d="M468.14 342.38V367.41M467.14 342.38H469.14M467.14 367.41H469.14" stroke="#8f8f8f" stroke-width="0.75" fill="none"/>
<path d="M468.14 354.90V367.41M467.14 367.41H469.14" stroke="#202020" stroke-opacity="0.5" stroke-width="0.75" fill="none"/>
<path d="M472.74 356.01V376.12M471.74 356.01H473.74M471.74 376.12H473.74" stroke="#8f8f8f" stroke-width="0.75" fill="none"/>
<path d="M472.74 366.07V376.12M471.74 376.12H473.74" stroke="#202020" stroke-opacity="0.5" stroke-width="0.75" fill="none"/>
<path d="M477.35 399.35V402.48M476.35 399.35H478.35M476.35 402.48H478.35" stroke="#8f8f8f" stroke-width="0.75" fill="none"/>
<path d="M477.35 400.92V402.48M476.35 402.48H478.35" stroke="#202020" stroke-opacity="0.5" stroke-width="0.75" fill="none"/>
<path d="M488.42 386.17V395.11M487.42 386.17H489.42M487.42 395.11H489.42" stroke="#8f8f8f" stroke-width="0.75" fill="none"/>
<path d="M488.42 390.64V395.11M487.42 395.11H489.42" stroke="#202020" stroke-opacity="0.5" stroke-width="0.75" fill="none"/>
<path d="M493.02 339.26V360.70M492.02 339.26H494.02M492.02 360.70H494.02" stroke="#8f8f8f" stroke-width="0.75" fill="none"/>
<path d="M493.02 349.98V360.70M492.02 360.70H494.02" stroke="#202020" stroke-opacity="0.5" stroke-width="0.75" fill="none"/>
<path d="M497.63 351.99V370.76M496.63 351.99H498.63M496.63 370.76H498.63" stroke="#8f8f8f" stroke-width="0.75" fill="none"/>
<path d="M497.63 361.37V370.76M496.63 370.76H498.63" stroke="#202020" stroke-opacity="0.5" stroke-width="0.75" fill="none"/>
<path d="M502.23 397.56V400.25M501.23 397.56H503.23M501.23 400.25H503.23" stroke="#8f8f8f" stroke-width="0.75" fill="none"/>
<path d="M502.23 398.90V400.25M501.23 400.25H503.23" stroke="#202020" stroke-opacity="0.5" stroke-width="0.75" fill="none"/>
<path d="M513.30 396.45V406.72M512.30 396.45H514.30M512.30 406.72H514.30" stroke="#8f8f8f" stroke-width="0.75" fill="none"/>
<path d="M513.30 401.59V406.72M512.30 406.72H514.30" stroke="#202020" stroke-opacity="0.5" stroke-width="0.75" fill="none"/>
<path d="M517.91 358.02V387.51M516.91 358.02H518.91M516.91 387.51H518.91" stroke="#8f8f8f" stroke-width="0.75" fill="none"/>
<path d="M517.91 372.77V387.51M516.91 387.51H518.91" stroke="#202020" stroke-opacity="0.5" stroke-width="0.75" fill="none"/>
<path d="M522.51 366.07V393.32M521.51 366.07H523.51M521.51 393.32H523.51" stroke="#8f8f8f" stroke-width="0.75" fill="none"/>
<path d="M522.51 379.69V393.32M521.51 393.32H523.51" stroke="#202020" stroke-opacity="0.5" stroke-width="0.75" fill="none"/>
<path d="M527.11 402.03V405.16M526.11 402.03H528.11M526.11 405.16H528.11" stroke="#8f8f8f" stroke-width="0.75" fill="none"/>
<path d="M527.11 403.60V405.16M526.11 405.16H528.11" stroke="#202020" stroke-opacity="0.5" stroke-width="0.75" fill="none"/>
<path d="M538.19 399.13V408.06M537.19 399.13H539.19M537.19 408.06H539.19" stroke="#8f8f8f" stroke-width="0.75" fill="none"/>
<path d="M538.19 403.60V408.06M537.19 408.06H539.19" stroke="#202020" stroke-opacity="0.5" stroke-width="0.75" fill="none"/>
<path d="M542.79 353.55V396.45M541.79 353.55H543.79M541.79 396.45H543.79" stroke="#8f8f8f" stroke-width="0.75" fill="none"/>
<path d="M542.79 375.00V396.45M541.79 396.45H543.79" stroke="#202020" stroke-opacity="0.5" stroke-width="0.75" fill="none"/>
<path d="M547.39 363.61V398.01M546.39 363.61H548.39M546.39 398.01H548.39" stroke="#8f8f8f" stroke-width="0.75" fill="none"/>
<path d="M547.39 380.81V398.01M546.39 398.01H548.39" stroke="#202020" stroke-opacity="0.5" stroke-width="0.75" fill="none"/>
<path d="M552.00 403.37V406.50M551.00 403.37H553.00M551.00 406.50H553.00" stroke="#8f8f8f" stroke-width="0.75" fill="none"/>
<path d="M552.00 404.94V406.50M551.00 406.50H553.00" stroke="#202020" stroke-opacity="0.5" stroke-width="0.75" fill="none"/>
<path d="M563.07 403.82V410.97M562.07 403.82H564.07M562.07 410.97H564.07" stroke="#8f8f8f" stroke-width="0.75" fill="none"/>
<path d="M563.07 407.39V410.97M562.07 410.97H564.07" stroke="#202020" stroke-opacity="0.5" stroke-width="0.75" fill="none"/>
<path d="M567.67 375.00V406.28M566.67 375.00H568.67M566.67 406.28H568.67" stroke="#8f8f8f" stroke-width="0.75" fill="none"/>
<path d="M567.67 390.64V406.28M566.67 406.28H568.67" stroke="#202020" stroke-opacity="0.5" stroke-width="0.75" fill="none"/>
<path d="M572.28 380.14V410.52M571.28 380.14H573.28M571.28 410.52H573.28" stroke="#8f8f8f" stroke-width="0.75" fill="none"/>
<path d="M572.28 395.33V410.52M571.28 410.52H573.28" stroke="#202020" stroke-opacity="0.5" stroke-width="0.75" fill="none"/>
<path d="M576.88 406.05V407.84M575.88 406.05H577.88M575.88 407.84H577.88" stroke="#8f8f8f" stroke-width="0.75" fill="none"/>
<path d="M576.88 406.95V407.84M575.88 407.84H577.88" stroke="#202020" stroke-opacity="0.5" stroke-width="0.75" fill="none"/>
<path d="M587.95 406.50V414.99M586.95 406.50H588.95M586.95 414.99H588.95" stroke="#8f8f8f" stroke-width="0.75" fill="none"/>
<path d="M587.95 410.75V414.99M586.95 414.99H588.95" stroke="#202020" stroke-opacity="0.5" stroke-width="0.75" fill="none"/>
<path d="M592.56 396.45V421.47M591.56 396.45H593.56M591.56 421.47H593.56" stroke="#8f8f8f" stroke-width="0.75" fill="none"/>
<path d="M592.56 408.96V421.47M591.56 421.47H593.56" stroke="#202020" stroke-opacity="0.5" stroke-width="0.75" fill="none"/>
<path d="M597.16 402.48V425.27M596.16 402.48H598.16M596.16 425.27H598.16" stroke="#8f8f8f" stroke-width="0.75" fill="none"/>
<path d="M597.16 413.87V425.27M596.16 425.27H598.16" stroke="#202020" stroke-opacity="0.5" stroke-width="0.75" fill="none"/>
<path d="M601.76 408.06V410.75M600.76 408.06H602.76M600.76 410.75H602.76" stroke="#8f8f8f" stroke-width="0.75" fill="none"/>
<path d="M601.76 409.40V410.75M600.76 410.75H602.76" stroke="#202020" stroke-opacity="0.5" stroke-width="0.75" fill="none"/>
<path d="M612.84 405.83V417.45M611.84 405.83H613.84M611.84 417.45H613.84" stroke="#8f8f8f" stroke-width="0.75" fill="none"/>
<path d="M612.84 411.64V417.45M611.84 417.45H613.84" stroke="#202020" stroke-opacity="0.5" stroke-width="0.75" fill="none"/>
<path d="M617.44 399.35V428.39M616.44 399.35H618.44M616.44 428.39H618.44" stroke="#8f8f8f" stroke-width="0.75" fill="none"/>
<path d="M617.44 413.87V428.39M616.44 428.39H618.44" stroke="#202020" stroke-opacity="0.5" stroke-width="0.75" fill="none"/>
<path d="M622.04 406.05V430.18M621.04 406.05H623.04M621.04 430.18H623.04" stroke="#8f8f8f" stroke-width="0.75" fill="none"/>
<path d="M622.04 418.12V430.18M621.04 430.18H623.04" stroke="#202020" stroke-opacity="0.5" stroke-width="0.75" fill="none"/>
<path d="M626.65 410.30V413.43M625.65 410.30H627.65M625.65 413.43H627.65" stroke="#8f8f8f" stroke-width="0.75" fill="none"/>
<path d="M626.65 411.86V413.43M625.65 413.43H627.65" stroke="#202020" stroke-opacity="0.5" stroke-width="0.75" fill="none"/>
<path d="M637.72 410.75V419.68M636.72 410.75H638.72M636.72 419.68H638.72" stroke="#8f8f8f" stroke-width="0.75" fill="none"/>
<path d="M637.72 415.21V419.68M636.72 419.68H638.72" stroke="#202020" stroke-opacity="0.5" stroke-width="0.75" fill="none"/>
<path d="M642.32 409.85V429.96M641.32 409.85H643.32M641.32 429.96H643.32" stroke="#8f8f8f" stroke-width="0.75" fill="none"/>
<path d="M642.32 419.90V429.96M641.32 429.96H643.32" stroke="#202020" stroke-opacity="0.5" stroke-width="0.75" fill="none"/>
<path d="M646.93 414.54V431.52M645.93 414.54H647.93M645.93 431.52H647.93" stroke="#8f8f8f" stroke-width="0.75" fill="none"/>
<path d="M646.93 423.03V431.52M645.93 431.52H647.93" stroke="#202020" stroke-opacity="0.5" stroke-width="0.75" fill="none"/>
<path d="M651.53 414.10V415.44M650.53 414.10H652.53M650.53 415.44H652.53" stroke="#8f8f8f" stroke-width="0.75" fill="none"/>
<path d="M651.53 414.77V415.44M650.53 415.44H652.53" stroke="#202020" stroke-opacity="0.5" stroke-width="0.75" fill="none"/>
<path d="M662.60 415.66V420.13M661.60 415.66H663.60M661.60 420.13H663.60" stroke="#8f8f8f" stroke-width="0.75" fill="none"/>
<path d="M662.60 417.89V420.13M661.60 420.13H663.60" stroke="#202020" stroke-opacity="0.5" stroke-width="0.75" fill="none"/>
<path d="M667.21 417.89V429.51M666.21 417.89H668.21M666.21 429.51H668.21" stroke="#8f8f8f" stroke-width="0.75" fill="none"/>
<path d="M667.21 423.70V429.51M666.21 429.51H668.21" stroke="#202020" stroke-opacity="0.5" stroke-width="0.75" fill="none"/>
<path d="M671.81 421.69V431.97M670.81 421.69H672.81M670.81 431.97H672.81" stroke="#8f8f8f" stroke-width="0.75" fill="none"/>
<path d="M671.81 426.83V431.97M670.81 431.97H672.81" stroke="#202020" stroke-opacity="0.5" stroke-width="0.75" fill="none"/>
<path d="M676.41 416.78V418.56M675.41 416.78H677.41M675.41 418.56H677.41" stroke="#8f8f8f" stroke-width="0.75" fill="none"/>
<path d="M676.41 417.67V418.56M675.41 418.56H677.41" stroke="#202020" stroke-opacity="0.5" stroke-width="0.75" fill="none"/>
<line x1="382.90" y1="438.00" x2="382.90" y2="440.00" stroke="#b0b0b0" stroke-width="0.6"/>
<line x1="407.78" y1="438.00" x2="407.78" y2="440.00" stroke="#b0b0b0" stroke-width="0.6"/>
<line x1="432.67" y1="438.00" x2="432.67" y2="440.00" stroke="#b0b0b0" stroke-width="0.6"/>
<line x1="457.55" y1="438.00" x2="457.55" y2="440.00" stroke="#b0b0b0" stroke-width="0.6"/>
<line x1="482.43" y1="438.00" x2="482.43" y2="440.00" stroke="#b0b0b0" stroke-width="0.6"/>
<line x1="507.32" y1="438.00" x2="507.32" y2="440.00" stroke="#b0b0b0" stroke-width="0.6"/>
<line x1="532.20" y1="438.00" x2="532.20" y2="440.00" stroke="#b0b0b0" stroke-width="0.6"/>
<line x1="557.08" y1="438.00" x2="557.08" y2="440.00" stroke="#b0b0b0" stroke-width="0.6"/>
<line x1="581.97" y1="438.00" x2="581.97" y2="440.00" stroke="#b0b0b0" stroke-width="0.6"/>
<line x1="606.85" y1="438.00" x2="606.85" y2="440.00" stroke="#b0b0b0" stroke-width="0.6"/>
<line x1="631.73" y1="438.00" x2="631.73" y2="440.00" stroke="#b0b0b0" stroke-width="0.6"/>
<line x1="656.62" y1="438.00" x2="656.62" y2="440.00" stroke="#b0b0b0" stroke-width="0.6"/>
<line x1="681.50" y1="438.00" x2="681.50" y2="440.00" stroke="#b0b0b0" stroke-width="0.6"/>
<text x="377.90" y="440.18" font-size="6.6" text-anchor="end" fill="#0d0d0d" stroke="#0d0d0d" stroke-width="0.3">0</text>
<line x1="380.90" y1="438.00" x2="382.90" y2="438.00" stroke="#b0b0b0" stroke-width="0.6"/>
<text x="377.90" y="417.84" font-size="6.6" text-anchor="end" fill="#0d0d0d" stroke="#0d0d0d" stroke-width="0.3">5</text>
<line x1="380.90" y1="415.66" x2="382.90" y2="415.66" stroke="#b0b0b0" stroke-width="0.6"/>
<text x="377.90" y="395.50" font-size="6.6" text-anchor="end" fill="#0d0d0d" stroke="#0d0d0d" stroke-width="0.3">10</text>
<line x1="380.90" y1="393.32" x2="382.90" y2="393.32" stroke="#b0b0b0" stroke-width="0.6"/>
<text x="377.90" y="373.16" font-size="6.6" text-anchor="end" fill="#0d0d0d" stroke="#0d0d0d" stroke-width="0.3">15</text>
<line x1="380.90" y1="370.98" x2="382.90" y2="370.98" stroke="#b0b0b0" stroke-width="0.6"/>
<text x="377.90" y="350.82" font-size="6.6" text-anchor="end" fill="#0d0d0d" stroke="#0d0d0d" stroke-width="0.3">20</text>
<line x1="380.90" y1="348.64" x2="382.90" y2="348.64" stroke="#b0b0b0" stroke-width="0.6"/>
<text x="377.90" y="328.48" font-size="6.6" text-anchor="end" fill="#0d0d0d" stroke="#0d0d0d" stroke-width="0.3">25</text>
<line x1="380.90" y1="326.30" x2="382.90" y2="326.30" stroke="#b0b0b0" stroke-width="0.6"/>
<text x="395.79" y="449.28" font-size="7.2" text-anchor="middle" textLength="13.16" lengthAdjust="spacingAndGlyphs" fill="#0d0d0d" stroke="#0d0d0d" stroke-width="0.3">JAN</text>
<text x="420.67" y="449.28" font-size="7.2" text-anchor="middle" textLength="13.16" lengthAdjust="spacingAndGlyphs" fill="#0d0d0d" stroke="#0d0d0d" stroke-width="0.3">FEB</text>
<text x="445.56" y="449.28" font-size="7.2" text-anchor="middle" textLength="16.16" lengthAdjust="spacingAndGlyphs" fill="#0d0d0d" stroke="#0d0d0d" stroke-width="0.3">MAR</text>
<text x="470.44" y="449.28" font-size="7.2" text-anchor="middle" textLength="13.91" lengthAdjust="spacingAndGlyphs" fill="#0d0d0d" stroke="#0d0d0d" stroke-width="0.3">APR</text>
<text x="495.32" y="449.28" font-size="7.2" text-anchor="middle" textLength="15.54" lengthAdjust="spacingAndGlyphs" fill="#0d0d0d" stroke="#0d0d0d" stroke-width="0.3">MAY</text>
<text x="520.21" y="449.28" font-size="7.2" text-anchor="middle" textLength="13.16" lengthAdjust="spacingAndGlyphs" fill="#0d0d0d" stroke="#0d0d0d" stroke-width="0.3">JUN</text>
<text x="545.09" y="449.28" font-size="7.2" text-anchor="middle" textLength="12.79" lengthAdjust="spacingAndGlyphs" fill="#0d0d0d" stroke="#0d0d0d" stroke-width="0.3">JUL</text>
<text x="569.98" y="449.28" font-size="7.2" text-anchor="middle" textLength="15.04" lengthAdjust="spacingAndGlyphs" fill="#0d0d0d" stroke="#0d0d0d" stroke-width="0.3">AUG</text>
<text x="594.86" y="449.28" font-size="7.2" text-anchor="middle" textLength="12.41" lengthAdjust="spacingAndGlyphs" fill="#0d0d0d" stroke="#0d0d0d" stroke-width="0.3">SEP</text>
<text x="619.74" y="449.28" font-size="7.2" text-anchor="middle" textLength="14.67" lengthAdjust="spacingAndGlyphs" fill="#0d0d0d" stroke="#0d0d0d" stroke-width="0.3">OCT</text>
<text x="644.63" y="449.28" font-size="7.2" text-anchor="middle" textLength="15.04" lengthAdjust="spacingAndGlyphs" fill="#0d0d0d" stroke="#0d0d0d" stroke-width="0.3">NOV</text>
<text x="669.51" y="449.28" font-size="7.2" text-anchor="middle" textLength="14.29" lengthAdjust="spacingAndGlyphs" fill="#0d0d0d" stroke="#0d0d0d" stroke-width="0.3">DEC</text>
<text x="523.40" y="456.38" font-size="7.2" textLength="19.00" lengthAdjust="spacingAndGlyphs" fill="#0d0d0d" stroke="#0d0d0d" stroke-width="0.3">Month</text>
<text transform="translate(368.02 382.80) rotate(-90)" x="0" y="0" font-size="7.3" text-anchor="middle" textLength="89.60" lengthAdjust="spacingAndGlyphs" fill="#1a1a1a" stroke="#1a1a1a" stroke-width="0.3">Evaporation  Rate (mm/day)</text>
<text x="403.00" y="315.20" font-size="9.2" textLength="237.60" lengthAdjust="spacingAndGlyphs" fill="#0d0d0d" stroke="#0d0d0d" stroke-width="0.3">Average Evaporation Rates at Kandelaru Reservoir (2015–2020)</text>
<text x="390.70" y="336.30" font-size="8.8" textLength="9.60" lengthAdjust="spacingAndGlyphs" fill="#0d0d0d" stroke="#0d0d0d" stroke-width="0.3">(f)</text>
<rect x="535.80" y="331.85" width="3.50" height="3.50" fill="#306cd2"/>
<text x="540.70" y="335.74" font-size="7.4" textLength="118.10" lengthAdjust="spacingAndGlyphs" fill="#0d0d0d" stroke="#0d0d0d" stroke-width="0.3">Average of (2015-2020)Penman Equation</text>
<rect x="535.80" y="340.65" width="3.50" height="3.50" fill="#ff6d00"/>
<text x="540.70" y="344.54" font-size="7.4" textLength="118.09" lengthAdjust="spacingAndGlyphs" fill="#0d0d0d" stroke="#0d0d0d" stroke-width="0.3">Average of (2015-2020)Meyer`s Equation</text>
<rect x="535.80" y="350.25" width="3.50" height="3.50" fill="#00b050"/>
<text x="540.70" y="354.14" font-size="7.4" textLength="121.85" lengthAdjust="spacingAndGlyphs" fill="#0d0d0d" stroke="#0d0d0d" stroke-width="0.3">Average of (2015-2020)Rohwer's Equation</text>
<rect x="535.80" y="359.45" width="3.50" height="3.50" fill="#7030a0"/>
<text x="540.70" y="363.34" font-size="7.4" textLength="138.15" lengthAdjust="spacingAndGlyphs" fill="#0d0d0d" stroke="#0d0d0d" stroke-width="0.3">Average of (2015-2020)Blaney Criddle Equation</text>
<rect x="31.30" y="485.00" width="304.50" height="104.30" fill="none" stroke="#474747" stroke-width="1.2"/>
<rect x="35.06" y="568.86" width="4.33" height="20.69" fill="#1b2ee8"/>
<rect x="39.38" y="571.99" width="4.33" height="17.56" fill="#ff6d00"/>
<rect x="43.71" y="575.32" width="4.33" height="14.23" fill="#00b050"/>
<rect x="48.04" y="570.11" width="4.33" height="19.44" fill="#7030a0"/>
<rect x="58.48" y="562.60" width="4.33" height="26.95" fill="#1b2ee8"/>
<rect x="62.81" y="559.05" width="4.33" height="30.50" fill="#ff6d00"/>
<rect x="67.13" y="564.27" width="4.33" height="25.28" fill="#00b050"/>
<rect x="71.46" y="566.56" width="4.33" height="22.99" fill="#7030a0"/>
<rect x="81.90" y="552.17" width="4.33" height="37.38" fill="#1b2ee8"/>
<rect x="86.23" y="533.81" width="4.33" height="55.74" fill="#ff6d00"/>
<rect x="90.56" y="542.16" width="4.33" height="47.39" fill="#00b050"/>
<rect x="94.89" y="560.51" width="4.33" height="29.04" fill="#7030a0"/>
<rect x="105.33" y="544.87" width="4.33" height="44.68" fill="#1b2ee8"/>
<rect x="109.65" y="511.28" width="4.33" height="78.27" fill="#ff6d00"/>
<rect x="113.98" y="522.34" width="4.33" height="67.21" fill="#00b050"/>
<rect x="118.31" y="554.88" width="4.33" height="34.67" fill="#7030a0"/>
<rect x="128.75" y="545.08" width="4.33" height="44.47" fill="#1b2ee8"/>
<rect x="133.08" y="506.90" width="4.33" height="82.65" fill="#ff6d00"/>
<rect x="137.40" y="517.54" width="4.33" height="72.01" fill="#00b050"/>
<rect x="141.73" y="552.59" width="4.33" height="36.96" fill="#7030a0"/>
<rect x="152.17" y="555.09" width="4.33" height="34.46" fill="#1b2ee8"/>
<rect x="156.50" y="528.39" width="4.33" height="61.16" fill="#ff6d00"/>
<rect x="160.83" y="534.65" width="4.33" height="54.90" fill="#00b050"/>
<rect x="165.15" y="556.76" width="4.33" height="32.79" fill="#7030a0"/>
<rect x="175.60" y="557.18" width="4.33" height="32.37" fill="#1b2ee8"/>
<rect x="179.92" y="530.89" width="4.33" height="58.66" fill="#ff6d00"/>
<rect x="184.25" y="535.90" width="4.33" height="53.65" fill="#00b050"/>
<rect x="188.58" y="558.43" width="4.33" height="31.12" fill="#7030a0"/>
<rect x="199.02" y="560.93" width="4.33" height="28.62" fill="#1b2ee8"/>
<rect x="203.35" y="545.49" width="4.33" height="44.06" fill="#ff6d00"/>
<rect x="207.67" y="549.67" width="4.33" height="39.88" fill="#00b050"/>
<rect x="212.00" y="560.30" width="4.33" height="29.25" fill="#7030a0"/>
<rect x="222.44" y="563.85" width="4.33" height="25.70" fill="#1b2ee8"/>
<rect x="226.77" y="562.18" width="4.33" height="27.37" fill="#ff6d00"/>
<rect x="231.10" y="566.77" width="4.33" height="22.78" fill="#00b050"/>
<rect x="235.42" y="562.60" width="4.33" height="26.95" fill="#7030a0"/>
<rect x="245.86" y="564.89" width="4.33" height="24.66" fill="#1b2ee8"/>
<rect x="250.19" y="566.77" width="4.33" height="22.78" fill="#ff6d00"/>
<rect x="254.52" y="571.15" width="4.33" height="18.40" fill="#00b050"/>
<rect x="258.85" y="564.48" width="4.33" height="25.07" fill="#7030a0"/>
<rect x="269.29" y="568.02" width="4.33" height="21.53" fill="#1b2ee8"/>
<rect x="273.61" y="572.61" width="4.33" height="16.94" fill="#ff6d00"/>
<rect x="277.94" y="575.53" width="4.33" height="14.02" fill="#00b050"/>
<rect x="282.27" y="567.40" width="4.33" height="22.15" fill="#7030a0"/>
<rect x="292.71" y="570.73" width="4.33" height="18.82" fill="#1b2ee8"/>
<rect x="297.04" y="575.95" width="4.33" height="13.60" fill="#ff6d00"/>
<rect x="301.37" y="578.66" width="4.33" height="10.89" fill="#00b050"/>
<rect x="305.69" y="570.11" width="4.33" height="19.44" fill="#7030a0"/>
<rect x="316.13" y="570.73" width="4.33" height="18.82" fill="#1b2ee8"/>
<rect x="320.46" y="575.95" width="4.33" height="13.60" fill="#ff6d00"/>
<rect x="324.79" y="578.66" width="4.33" height="10.89" fill="#00b050"/>
<rect x="329.12" y="570.11" width="4.33" height="19.44" fill="#7030a0"/>
<path d="M37.22 566.15V571.57M36.22 566.15H38.22M36.22 571.57H38.22" stroke="#8f8f8f" stroke-width="0.75" fill="none"/>
<path d="M37.22 568.86V571.57M36.22 571.57H38.22" stroke="#202020" stroke-opacity="0.5" stroke-width="0.75" fill="none"/>
<path d="M41.55 567.40V576.58M40.55 567.40H42.55M40.55 576.58H42.55" stroke="#8f8f8f" stroke-width="0.75" fill="none"/>
<path d="M41.55 571.99V576.58M40.55 576.58H42.55" stroke="#202020" stroke-opacity="0.5" stroke-width="0.75" fill="none"/>
<path d="M45.88 571.36V579.29M44.88 571.36H46.88M44.88 579.29H46.88" stroke="#8f8f8f" stroke-width="0.75" fill="none"/>
<path d="M45.88 575.32V579.29M44.88 579.29H46.88" stroke="#202020" stroke-opacity="0.5" stroke-width="0.75" fill="none"/>
<path d="M50.20 569.48V570.73M49.20 569.48H51.20M49.20 570.73H51.20" stroke="#8f8f8f" stroke-width="0.75" fill="none"/>
<path d="M50.20 570.11V570.73M49.20 570.73H51.20" stroke="#202020" stroke-opacity="0.5" stroke-width="0.75" fill="none"/>
<path d="M60.64 558.84V566.35M59.64 558.84H61.64M59.64 566.35H61.64" stroke="#8f8f8f" stroke-width="0.75" fill="none"/>
<path d="M60.64 562.60V566.35M59.64 566.35H61.64" stroke="#202020" stroke-opacity="0.5" stroke-width="0.75" fill="none"/>
<path d="M64.97 552.59V565.52M63.97 552.59H65.97M63.97 565.52H65.97" stroke="#8f8f8f" stroke-width="0.75" fill="none"/>
<path d="M64.97 559.05V565.52M63.97 565.52H65.97" stroke="#202020" stroke-opacity="0.5" stroke-width="0.75" fill="none"/>
<path d="M69.30 558.43V570.11M68.30 558.43H70.30M68.30 570.11H70.30" stroke="#8f8f8f" stroke-width="0.75" fill="none"/>
<path d="M69.30 564.27V570.11M68.30 570.11H70.30" stroke="#202020" stroke-opacity="0.5" stroke-width="0.75" fill="none"/>
<path d="M73.63 565.73V567.40M72.63 565.73H74.63M72.63 567.40H74.63" stroke="#8f8f8f" stroke-width="0.75" fill="none"/>
<path d="M73.63 566.56V567.40M72.63 567.40H74.63" stroke="#202020" stroke-opacity="0.5" stroke-width="0.75" fill="none"/>
<path d="M84.07 548.83V555.51M83.07 548.83H85.07M83.07 555.51H85.07" stroke="#8f8f8f" stroke-width="0.75" fill="none"/>
<path d="M84.07 552.17V555.51M83.07 555.51H85.07" stroke="#202020" stroke-opacity="0.5" stroke-width="0.75" fill="none"/>
<path d="M88.39 524.43V543.20M87.39 524.43H89.39M87.39 543.20H89.39" stroke="#8f8f8f" stroke-width="0.75" fill="none"/>
<path d="M88.39 533.81V543.20M87.39 543.20H89.39" stroke="#202020" stroke-opacity="0.5" stroke-width="0.75" fill="none"/>
<path d="M92.72 534.02V550.29M91.72 534.02H93.72M91.72 550.29H93.72" stroke="#8f8f8f" stroke-width="0.75" fill="none"/>
<path d="M92.72 542.16V550.29M91.72 550.29H93.72" stroke="#202020" stroke-opacity="0.5" stroke-width="0.75" fill="none"/>
<path d="M97.05 560.10V560.93M96.05 560.10H98.05M96.05 560.93H98.05" stroke="#8f8f8f" stroke-width="0.75" fill="none"/>
<path d="M97.05 560.51V560.93M96.05 560.93H98.05" stroke="#202020" stroke-opacity="0.5" stroke-width="0.75" fill="none"/>
<path d="M107.49 539.86V549.87M106.49 539.86H108.49M106.49 549.87H108.49" stroke="#8f8f8f" stroke-width="0.75" fill="none"/>
<path d="M107.49 544.87V549.87M106.49 549.87H108.49" stroke="#202020" stroke-opacity="0.5" stroke-width="0.75" fill="none"/>
<path d="M111.82 500.02V522.55M110.82 500.02H112.82M110.82 522.55H112.82" stroke="#8f8f8f" stroke-width="0.75" fill="none"/>
<path d="M111.82 511.28V522.55M110.82 522.55H112.82" stroke="#202020" stroke-opacity="0.5" stroke-width="0.75" fill="none"/>
<path d="M116.14 512.12V532.56M115.14 512.12H117.14M115.14 532.56H117.14" stroke="#8f8f8f" stroke-width="0.75" fill="none"/>
<path d="M116.14 522.34V532.56M115.14 532.56H117.14" stroke="#202020" stroke-opacity="0.5" stroke-width="0.75" fill="none"/>
<path d="M120.47 553.84V555.92M119.47 553.84H121.47M119.47 555.92H121.47" stroke="#8f8f8f" stroke-width="0.75" fill="none"/>
<path d="M120.47 554.88V555.92M119.47 555.92H121.47" stroke="#202020" stroke-opacity="0.5" stroke-width="0.75" fill="none"/>
<path d="M130.91 541.11V549.04M129.91 541.11H131.91M129.91 549.04H131.91" stroke="#8f8f8f" stroke-width="0.75" fill="none"/>
<path d="M130.91 545.08V549.04M129.91 549.04H131.91" stroke="#202020" stroke-opacity="0.5" stroke-width="0.75" fill="none"/>
<path d="M135.24 496.68V517.12M134.24 496.68H136.24M134.24 517.12H136.24" stroke="#8f8f8f" stroke-width="0.75" fill="none"/>
<path d="M135.24 506.90V517.12M134.24 517.12H136.24" stroke="#202020" stroke-opacity="0.5" stroke-width="0.75" fill="none"/>
<path d="M139.57 507.95V527.14M138.57 507.95H140.57M138.57 527.14H140.57" stroke="#8f8f8f" stroke-width="0.75" fill="none"/>
<path d="M139.57 517.54V527.14M138.57 527.14H140.57" stroke="#202020" stroke-opacity="0.5" stroke-width="0.75" fill="none"/>
<path d="M143.89 551.33V553.84M142.89 551.33H144.89M142.89 553.84H144.89" stroke="#8f8f8f" stroke-width="0.75" fill="none"/>
<path d="M143.89 552.59V553.84M142.89 553.84H144.89" stroke="#202020" stroke-opacity="0.5" stroke-width="0.75" fill="none"/>
<path d="M154.34 549.87V560.30M153.34 549.87H155.34M153.34 560.30H155.34" stroke="#8f8f8f" stroke-width="0.75" fill="none"/>
<path d="M154.34 555.09V560.30M153.34 560.30H155.34" stroke="#202020" stroke-opacity="0.5" stroke-width="0.75" fill="none"/>
<path d="M158.66 514.20V542.57M157.66 514.20H159.66M157.66 542.57H159.66" stroke="#8f8f8f" stroke-width="0.75" fill="none"/>
<path d="M158.66 528.39V542.57M157.66 542.57H159.66" stroke="#202020" stroke-opacity="0.5" stroke-width="0.75" fill="none"/>
<path d="M162.99 522.34V546.95M161.99 522.34H163.99M161.99 546.95H163.99" stroke="#8f8f8f" stroke-width="0.75" fill="none"/>
<path d="M162.99 534.65V546.95M161.99 546.95H163.99" stroke="#202020" stroke-opacity="0.5" stroke-width="0.75" fill="none"/>
<path d="M167.32 555.51V558.01M166.32 555.51H168.32M166.32 558.01H168.32" stroke="#8f8f8f" stroke-width="0.75" fill="none"/>
<path d="M167.32 556.76V558.01M166.32 558.01H168.32" stroke="#202020" stroke-opacity="0.5" stroke-width="0.75" fill="none"/>
<path d="M177.76 552.79V561.56M176.76 552.79H178.76M176.76 561.56H178.76" stroke="#8f8f8f" stroke-width="0.75" fill="none"/>
<path d="M177.76 557.18V561.56M176.76 561.56H178.76" stroke="#202020" stroke-opacity="0.5" stroke-width="0.75" fill="none"/>
<path d="M182.09 507.53V554.26M181.09 507.53H183.09M181.09 554.26H183.09" stroke="#8f8f8f" stroke-width="0.75" fill="none"/>
<path d="M182.09 530.89V554.26M181.09 554.26H183.09" stroke="#202020" stroke-opacity="0.5" stroke-width="0.75" fill="none"/>
<path d="M186.41 515.87V555.92M185.41 515.87H187.41M185.41 555.92H187.41" stroke="#8f8f8f" stroke-width="0.75" fill="none"/>
<path d="M186.41 535.90V555.92M185.41 555.92H187.41" stroke="#202020" stroke-opacity="0.5" stroke-width="0.75" fill="none"/>
<path d="M190.74 557.18V559.68M189.74 557.18H191.74M189.74 559.68H191.74" stroke="#8f8f8f" stroke-width="0.75" fill="none"/>
<path d="M190.74 558.43V559.68M189.74 559.68H191.74" stroke="#202020" stroke-opacity="0.5" stroke-width="0.75" fill="none"/>
<path d="M201.18 558.01V563.85M200.18 558.01H202.18M200.18 563.85H202.18" stroke="#8f8f8f" stroke-width="0.75" fill="none"/>
<path d="M201.18 560.93V563.85M200.18 563.85H202.18" stroke="#202020" stroke-opacity="0.5" stroke-width="0.75" fill="none"/>
<path d="M205.51 530.89V560.10M204.51 530.89H206.51M204.51 560.10H206.51" stroke="#8f8f8f" stroke-width="0.75" fill="none"/>
<path d="M205.51 545.49V560.10M204.51 560.10H206.51" stroke="#202020" stroke-opacity="0.5" stroke-width="0.75" fill="none"/>
<path d="M209.84 535.69V563.64M208.84 535.69H210.84M208.84 563.64H210.84" stroke="#8f8f8f" stroke-width="0.75" fill="none"/>
<path d="M209.84 549.67V563.64M208.84 563.64H210.84" stroke="#202020" stroke-opacity="0.5" stroke-width="0.75" fill="none"/>
<path d="M214.16 559.89V560.72M213.16 559.89H215.16M213.16 560.72H215.16" stroke="#8f8f8f" stroke-width="0.75" fill="none"/>
<path d="M214.16 560.30V560.72M213.16 560.72H215.16" stroke="#202020" stroke-opacity="0.5" stroke-width="0.75" fill="none"/>
<path d="M224.61 560.30V567.40M223.61 560.30H225.61M223.61 567.40H225.61" stroke="#8f8f8f" stroke-width="0.75" fill="none"/>
<path d="M224.61 563.85V567.40M223.61 567.40H225.61" stroke="#202020" stroke-opacity="0.5" stroke-width="0.75" fill="none"/>
<path d="M228.93 550.71V573.65M227.93 550.71H229.93M227.93 573.65H229.93" stroke="#8f8f8f" stroke-width="0.75" fill="none"/>
<path d="M228.93 562.18V573.65M227.93 573.65H229.93" stroke="#202020" stroke-opacity="0.5" stroke-width="0.75" fill="none"/>
<path d="M233.26 555.92V577.62M232.26 555.92H234.26M232.26 577.62H234.26" stroke="#8f8f8f" stroke-width="0.75" fill="none"/>
<path d="M233.26 566.77V577.62M232.26 577.62H234.26" stroke="#202020" stroke-opacity="0.5" stroke-width="0.75" fill="none"/>
<path d="M237.59 561.76V563.43M236.59 561.76H238.59M236.59 563.43H238.59" stroke="#8f8f8f" stroke-width="0.75" fill="none"/>
<path d="M237.59 562.60V563.43M236.59 563.43H238.59" stroke="#202020" stroke-opacity="0.5" stroke-width="0.75" fill="none"/>
<path d="M248.03 559.47V570.32M247.03 559.47H249.03M247.03 570.32H249.03" stroke="#8f8f8f" stroke-width="0.75" fill="none"/>
<path d="M248.03 564.89V570.32M247.03 570.32H249.03" stroke="#202020" stroke-opacity="0.5" stroke-width="0.75" fill="none"/>
<path d="M252.36 553.00V580.54M251.36 553.00H253.36M251.36 580.54H253.36" stroke="#8f8f8f" stroke-width="0.75" fill="none"/>
<path d="M252.36 566.77V580.54M251.36 580.54H253.36" stroke="#202020" stroke-opacity="0.5" stroke-width="0.75" fill="none"/>
<path d="M256.68 559.47V582.83M255.68 559.47H257.68M255.68 582.83H257.68" stroke="#8f8f8f" stroke-width="0.75" fill="none"/>
<path d="M256.68 571.15V582.83M255.68 582.83H257.68" stroke="#202020" stroke-opacity="0.5" stroke-width="0.75" fill="none"/>
<path d="M261.01 563.64V565.31M260.01 563.64H262.01M260.01 565.31H262.01" stroke="#8f8f8f" stroke-width="0.75" fill="none"/>
<path d="M261.01 564.48V565.31M260.01 565.31H262.01" stroke="#202020" stroke-opacity="0.5" stroke-width="0.75" fill="none"/>
<path d="M271.45 563.85V572.19M270.45 563.85H272.45M270.45 572.19H272.45" stroke="#8f8f8f" stroke-width="0.75" fill="none"/>
<path d="M271.45 568.02V572.19M270.45 572.19H272.45" stroke="#202020" stroke-opacity="0.5" stroke-width="0.75" fill="none"/>
<path d="M275.78 562.81V582.42M274.78 562.81H276.78M274.78 582.42H276.78" stroke="#8f8f8f" stroke-width="0.75" fill="none"/>
<path d="M275.78 572.61V582.42M274.78 582.42H276.78" stroke="#202020" stroke-opacity="0.5" stroke-width="0.75" fill="none"/>
<path d="M280.11 567.40V583.67M279.11 567.40H281.11M279.11 583.67H281.11" stroke="#8f8f8f" stroke-width="0.75" fill="none"/>
<path d="M280.11 575.53V583.67M279.11 583.67H281.11" stroke="#202020" stroke-opacity="0.5" stroke-width="0.75" fill="none"/>
<path d="M284.43 566.77V568.02M283.43 566.77H285.43M283.43 568.02H285.43" stroke="#8f8f8f" stroke-width="0.75" fill="none"/>
<path d="M284.43 567.40V568.02M283.43 568.02H285.43" stroke="#202020" stroke-opacity="0.5" stroke-width="0.75" fill="none"/>
<path d="M294.87 568.44V573.03M293.87 568.44H295.87M293.87 573.03H295.87" stroke="#8f8f8f" stroke-width="0.75" fill="none"/>
<path d="M294.87 570.73V573.03M293.87 573.03H295.87" stroke="#202020" stroke-opacity="0.5" stroke-width="0.75" fill="none"/>
<path d="M299.20 570.73V581.16M298.20 570.73H300.20M298.20 581.16H300.20" stroke="#8f8f8f" stroke-width="0.75" fill="none"/>
<path d="M299.20 575.95V581.16M298.20 581.16H300.20" stroke="#202020" stroke-opacity="0.5" stroke-width="0.75" fill="none"/>
<path d="M303.53 574.07V583.25M302.53 574.07H304.53M302.53 583.25H304.53" stroke="#8f8f8f" stroke-width="0.75" fill="none"/>
<path d="M303.53 578.66V583.25M302.53 583.25H304.53" stroke="#202020" stroke-opacity="0.5" stroke-width="0.75" fill="none"/>
<path d="M307.86 569.69V570.53M306.86 569.69H308.86M306.86 570.53H308.86" stroke="#8f8f8f" stroke-width="0.75" fill="none"/>
<path d="M307.86 570.11V570.53M306.86 570.53H308.86" stroke="#202020" stroke-opacity="0.5" stroke-width="0.75" fill="none"/>
<path d="M318.30 568.44V573.03M317.30 568.44H319.30M317.30 573.03H319.30" stroke="#8f8f8f" stroke-width="0.75" fill="none"/>
<path d="M318.30 570.73V573.03M317.30 573.03H319.30" stroke="#202020" stroke-opacity="0.5" stroke-width="0.75" fill="none"/>
<path d="M322.62 571.36V580.54M321.62 571.36H323.62M321.62 580.54H323.62" stroke="#8f8f8f" stroke-width="0.75" fill="none"/>
<path d="M322.62 575.95V580.54M321.62 580.54H323.62" stroke="#202020" stroke-opacity="0.5" stroke-width="0.75" fill="none"/>
<path d="M326.95 574.28V583.04M325.95 574.28H327.95M325.95 583.04H327.95" stroke="#8f8f8f" stroke-width="0.75" fill="none"/>
<path d="M326.95 578.66V583.04M325.95 583.04H327.95" stroke="#202020" stroke-opacity="0.5" stroke-width="0.75" fill="none"/>
<path d="M331.28 569.69V570.53M330.28 569.69H332.28M330.28 570.53H332.28" stroke="#8f8f8f" stroke-width="0.75" fill="none"/>
<path d="M331.28 570.11V570.53M330.28 570.53H332.28" stroke="#202020" stroke-opacity="0.5" stroke-width="0.75" fill="none"/>
<line x1="31.30" y1="589.30" x2="31.30" y2="591.30" stroke="#b0b0b0" stroke-width="0.6"/>
<line x1="54.72" y1="589.30" x2="54.72" y2="591.30" stroke="#b0b0b0" stroke-width="0.6"/>
<line x1="78.15" y1="589.30" x2="78.15" y2="591.30" stroke="#b0b0b0" stroke-width="0.6"/>
<line x1="101.57" y1="589.30" x2="101.57" y2="591.30" stroke="#b0b0b0" stroke-width="0.6"/>
<line x1="124.99" y1="589.30" x2="124.99" y2="591.30" stroke="#b0b0b0" stroke-width="0.6"/>
<line x1="148.42" y1="589.30" x2="148.42" y2="591.30" stroke="#b0b0b0" stroke-width="0.6"/>
<line x1="171.84" y1="589.30" x2="171.84" y2="591.30" stroke="#b0b0b0" stroke-width="0.6"/>
<line x1="195.26" y1="589.30" x2="195.26" y2="591.30" stroke="#b0b0b0" stroke-width="0.6"/>
<line x1="218.68" y1="589.30" x2="218.68" y2="591.30" stroke="#b0b0b0" stroke-width="0.6"/>
<line x1="242.11" y1="589.30" x2="242.11" y2="591.30" stroke="#b0b0b0" stroke-width="0.6"/>
<line x1="265.53" y1="589.30" x2="265.53" y2="591.30" stroke="#b0b0b0" stroke-width="0.6"/>
<line x1="288.95" y1="589.30" x2="288.95" y2="591.30" stroke="#b0b0b0" stroke-width="0.6"/>
<line x1="312.38" y1="589.30" x2="312.38" y2="591.30" stroke="#b0b0b0" stroke-width="0.6"/>
<line x1="335.80" y1="589.30" x2="335.80" y2="591.30" stroke="#b0b0b0" stroke-width="0.6"/>
<text x="26.20" y="591.74" font-size="7.4" text-anchor="end" fill="#0d0d0d" stroke="#0d0d0d" stroke-width="0.3">0</text>
<line x1="29.30" y1="589.30" x2="31.30" y2="589.30" stroke="#b0b0b0" stroke-width="0.6"/>
<text x="26.20" y="570.88" font-size="7.4" text-anchor="end" fill="#0d0d0d" stroke="#0d0d0d" stroke-width="0.3">5</text>
<line x1="29.30" y1="568.44" x2="31.30" y2="568.44" stroke="#b0b0b0" stroke-width="0.6"/>
<text x="26.20" y="550.02" font-size="7.4" text-anchor="end" fill="#0d0d0d" stroke="#0d0d0d" stroke-width="0.3">10</text>
<line x1="29.30" y1="547.58" x2="31.30" y2="547.58" stroke="#b0b0b0" stroke-width="0.6"/>
<text x="26.20" y="529.16" font-size="7.4" text-anchor="end" fill="#0d0d0d" stroke="#0d0d0d" stroke-width="0.3">15</text>
<line x1="29.30" y1="526.72" x2="31.30" y2="526.72" stroke="#b0b0b0" stroke-width="0.6"/>
<text x="26.20" y="508.30" font-size="7.4" text-anchor="end" fill="#0d0d0d" stroke="#0d0d0d" stroke-width="0.3">20</text>
<line x1="29.30" y1="505.86" x2="31.30" y2="505.86" stroke="#b0b0b0" stroke-width="0.6"/>
<text x="26.20" y="487.44" font-size="7.4" text-anchor="end" fill="#0d0d0d" stroke="#0d0d0d" stroke-width="0.3">25</text>
<line x1="29.30" y1="485.00" x2="31.30" y2="485.00" stroke="#b0b0b0" stroke-width="0.6"/>
<text x="43.71" y="600.08" font-size="7.2" text-anchor="middle" textLength="13.44" lengthAdjust="spacingAndGlyphs" fill="#0d0d0d" stroke="#0d0d0d" stroke-width="0.3">JAN</text>
<text x="67.13" y="600.08" font-size="7.2" text-anchor="middle" textLength="13.44" lengthAdjust="spacingAndGlyphs" fill="#0d0d0d" stroke="#0d0d0d" stroke-width="0.3">FEB</text>
<text x="90.56" y="600.08" font-size="7.2" text-anchor="middle" textLength="16.51" lengthAdjust="spacingAndGlyphs" fill="#0d0d0d" stroke="#0d0d0d" stroke-width="0.3">MAR</text>
<text x="113.98" y="600.08" font-size="7.2" text-anchor="middle" textLength="14.21" lengthAdjust="spacingAndGlyphs" fill="#0d0d0d" stroke="#0d0d0d" stroke-width="0.3">APR</text>
<text x="137.40" y="600.08" font-size="7.2" text-anchor="middle" textLength="15.87" lengthAdjust="spacingAndGlyphs" fill="#0d0d0d" stroke="#0d0d0d" stroke-width="0.3">MAY</text>
<text x="160.83" y="600.08" font-size="7.2" text-anchor="middle" textLength="13.44" lengthAdjust="spacingAndGlyphs" fill="#0d0d0d" stroke="#0d0d0d" stroke-width="0.3">JUN</text>
<text x="184.25" y="600.08" font-size="7.2" text-anchor="middle" textLength="13.06" lengthAdjust="spacingAndGlyphs" fill="#0d0d0d" stroke="#0d0d0d" stroke-width="0.3">JUL</text>
<text x="207.67" y="600.08" font-size="7.2" text-anchor="middle" textLength="15.36" lengthAdjust="spacingAndGlyphs" fill="#0d0d0d" stroke="#0d0d0d" stroke-width="0.3">AUG</text>
<text x="231.10" y="600.08" font-size="7.2" text-anchor="middle" textLength="12.68" lengthAdjust="spacingAndGlyphs" fill="#0d0d0d" stroke="#0d0d0d" stroke-width="0.3">SEP</text>
<text x="254.52" y="600.08" font-size="7.2" text-anchor="middle" textLength="14.98" lengthAdjust="spacingAndGlyphs" fill="#0d0d0d" stroke="#0d0d0d" stroke-width="0.3">OCT</text>
<text x="277.94" y="600.08" font-size="7.2" text-anchor="middle" textLength="15.36" lengthAdjust="spacingAndGlyphs" fill="#0d0d0d" stroke="#0d0d0d" stroke-width="0.3">NOV</text>
<text x="301.37" y="600.08" font-size="7.2" text-anchor="middle" textLength="14.59" lengthAdjust="spacingAndGlyphs" fill="#0d0d0d" stroke="#0d0d0d" stroke-width="0.3">DEC</text>
<text x="324.79" y="600.08" font-size="7.2" text-anchor="middle" textLength="14.59" lengthAdjust="spacingAndGlyphs" fill="#0d0d0d" stroke="#0d0d0d" stroke-width="0.3">DEC</text>
<text x="174.20" y="606.18" font-size="7.2" textLength="19.80" lengthAdjust="spacingAndGlyphs" fill="#0d0d0d" stroke="#0d0d0d" stroke-width="0.3">Month</text>
<text transform="translate(15.25 536.50) rotate(-90)" x="0" y="0" font-size="7" text-anchor="middle" textLength="86.00" lengthAdjust="spacingAndGlyphs" fill="#1a1a1a" stroke="#1a1a1a" stroke-width="0.3">Evaporation  Rate (mm/day)</text>
<text x="54.80" y="471.60" font-size="9.4" textLength="244.60" lengthAdjust="spacingAndGlyphs" fill="#0d0d0d" stroke="#0d0d0d" stroke-width="0.3">Average Evaporation Rates at Somasila  Reservoir  (2015–2020)</text>
<text x="39.20" y="496.70" font-size="8.8" textLength="10.90" lengthAdjust="spacingAndGlyphs" fill="#0d0d0d" stroke="#0d0d0d" stroke-width="0.3">(g)</text>
<rect x="178.00" y="491.40" width="3.00" height="3.00" fill="#1b2ee8"/>
<text x="183.40" y="495.04" font-size="7.4" textLength="122.10" lengthAdjust="spacingAndGlyphs" fill="#0d0d0d" stroke="#0d0d0d" stroke-width="0.3">Average of (2015-2020)Penman Equation</text>
<rect x="178.00" y="501.50" width="3.00" height="3.00" fill="#ff6d00"/>
<text x="183.40" y="505.14" font-size="7.4" textLength="122.09" lengthAdjust="spacingAndGlyphs" fill="#0d0d0d" stroke="#0d0d0d" stroke-width="0.3">Average of (2015-2020)Meyer`s Equation</text>
<rect x="178.00" y="511.70" width="3.00" height="3.00" fill="#00b050"/>
<text x="183.40" y="515.34" font-size="7.4" textLength="125.97" lengthAdjust="spacingAndGlyphs" fill="#0d0d0d" stroke="#0d0d0d" stroke-width="0.3">Average of (2015-2020)Rohwer's Equation</text>
<rect x="178.00" y="522.50" width="3.00" height="3.00" fill="#7030a0"/>
<text x="183.40" y="526.14" font-size="7.4" textLength="142.83" lengthAdjust="spacingAndGlyphs" fill="#0d0d0d" stroke="#0d0d0d" stroke-width="0.3">Average of (2015-2020)Blaney Criddle Equation</text>
<rect x="382.30" y="484.00" width="299.60" height="104.60" fill="none" stroke="#474747" stroke-width="1.2"/>
<rect x="385.98" y="533.16" width="4.60" height="55.69" fill="#1a2fe0"/>
<rect x="390.58" y="551.99" width="4.60" height="36.86" fill="#ed7d31"/>
<rect x="395.18" y="547.81" width="4.60" height="41.04" fill="#00b050"/>
<rect x="399.78" y="544.67" width="4.60" height="44.18" fill="#7030a0"/>
<rect x="410.95" y="522.70" width="4.60" height="66.15" fill="#1a2fe0"/>
<rect x="415.55" y="540.48" width="4.60" height="48.37" fill="#ed7d31"/>
<rect x="420.15" y="534.21" width="4.60" height="54.64" fill="#00b050"/>
<rect x="424.75" y="536.82" width="4.60" height="52.03" fill="#7030a0"/>
<rect x="435.92" y="511.72" width="4.60" height="77.13" fill="#1a2fe0"/>
<rect x="440.52" y="523.75" width="4.60" height="65.10" fill="#ed7d31"/>
<rect x="445.12" y="513.81" width="4.60" height="75.04" fill="#00b050"/>
<rect x="449.72" y="526.36" width="4.60" height="62.49" fill="#7030a0"/>
<rect x="460.88" y="507.01" width="4.60" height="81.84" fill="#1a2fe0"/>
<rect x="465.48" y="515.38" width="4.60" height="73.47" fill="#ed7d31"/>
<rect x="470.08" y="502.83" width="4.60" height="86.02" fill="#00b050"/>
<rect x="474.68" y="518.00" width="4.60" height="70.86" fill="#7030a0"/>
<rect x="485.85" y="508.06" width="4.60" height="80.79" fill="#1a2fe0"/>
<rect x="490.45" y="519.04" width="4.60" height="69.81" fill="#ed7d31"/>
<rect x="495.05" y="507.01" width="4.60" height="81.84" fill="#00b050"/>
<rect x="499.65" y="513.81" width="4.60" height="75.04" fill="#7030a0"/>
<rect x="510.82" y="524.79" width="4.60" height="64.06" fill="#1a2fe0"/>
<rect x="515.42" y="547.28" width="4.60" height="41.57" fill="#ed7d31"/>
<rect x="520.02" y="539.96" width="4.60" height="48.89" fill="#00b050"/>
<rect x="524.62" y="520.09" width="4.60" height="68.76" fill="#7030a0"/>
<rect x="535.78" y="532.64" width="4.60" height="56.21" fill="#1a2fe0"/>
<rect x="540.38" y="559.84" width="4.60" height="29.01" fill="#ed7d31"/>
<rect x="544.98" y="554.08" width="4.60" height="34.77" fill="#00b050"/>
<rect x="549.58" y="524.79" width="4.60" height="64.06" fill="#7030a0"/>
<rect x="560.75" y="535.25" width="4.60" height="53.60" fill="#1a2fe0"/>
<rect x="565.35" y="565.59" width="4.60" height="23.26" fill="#ed7d31"/>
<rect x="569.95" y="561.40" width="4.60" height="27.45" fill="#00b050"/>
<rect x="574.55" y="527.93" width="4.60" height="60.92" fill="#7030a0"/>
<rect x="585.72" y="534.73" width="4.60" height="54.12" fill="#1a2fe0"/>
<rect x="590.32" y="566.63" width="4.60" height="22.22" fill="#ed7d31"/>
<rect x="594.92" y="563.50" width="4.60" height="25.35" fill="#00b050"/>
<rect x="599.52" y="528.98" width="4.60" height="59.87" fill="#7030a0"/>
<rect x="610.68" y="534.73" width="4.60" height="54.12" fill="#1a2fe0"/>
<rect x="615.28" y="562.97" width="4.60" height="25.88" fill="#ed7d31"/>
<rect x="619.88" y="559.84" width="4.60" height="29.01" fill="#00b050"/>
<rect x="624.48" y="533.69" width="4.60" height="55.16" fill="#7030a0"/>
<rect x="635.65" y="538.39" width="4.60" height="50.46" fill="#1a2fe0"/>
<rect x="640.25" y="561.93" width="4.60" height="26.92" fill="#ed7d31"/>
<rect x="644.85" y="557.74" width="4.60" height="31.11" fill="#00b050"/>
<rect x="649.45" y="540.48" width="4.60" height="48.37" fill="#7030a0"/>
<rect x="660.62" y="539.96" width="4.60" height="48.89" fill="#1a2fe0"/>
<rect x="665.22" y="559.84" width="4.60" height="29.01" fill="#ed7d31"/>
<rect x="669.82" y="556.17" width="4.60" height="32.68" fill="#00b050"/>
<rect x="674.42" y="546.24" width="4.60" height="42.61" fill="#7030a0"/>
<path d="M388.28 528.98V537.35M387.28 528.98H389.28M387.28 537.35H389.28" stroke="#8f8f8f" stroke-width="0.75" fill="none"/>
<path d="M388.28 533.16V537.35M387.28 537.35H389.28" stroke="#202020" stroke-opacity="0.5" stroke-width="0.75" fill="none"/>
<path d="M392.88 546.24V557.74M391.88 546.24H393.88M391.88 557.74H393.88" stroke="#8f8f8f" stroke-width="0.75" fill="none"/>
<path d="M392.88 551.99V557.74M391.88 557.74H393.88" stroke="#202020" stroke-opacity="0.5" stroke-width="0.75" fill="none"/>
<path d="M397.48 541.01V554.61M396.48 541.01H398.48M396.48 554.61H398.48" stroke="#8f8f8f" stroke-width="0.75" fill="none"/>
<path d="M397.48 547.81V554.61M396.48 554.61H398.48" stroke="#202020" stroke-opacity="0.5" stroke-width="0.75" fill="none"/>
<path d="M402.08 541.53V547.81M401.08 541.53H403.08M401.08 547.81H403.08" stroke="#8f8f8f" stroke-width="0.75" fill="none"/>
<path d="M402.08 544.67V547.81M401.08 547.81H403.08" stroke="#202020" stroke-opacity="0.5" stroke-width="0.75" fill="none"/>
<path d="M413.25 519.56V525.84M412.25 519.56H414.25M412.25 525.84H414.25" stroke="#8f8f8f" stroke-width="0.75" fill="none"/>
<path d="M413.25 522.70V525.84M412.25 525.84H414.25" stroke="#202020" stroke-opacity="0.5" stroke-width="0.75" fill="none"/>
<path d="M417.85 534.73V546.24M416.85 534.73H418.85M416.85 546.24H418.85" stroke="#8f8f8f" stroke-width="0.75" fill="none"/>
<path d="M417.85 540.48V546.24M416.85 546.24H418.85" stroke="#202020" stroke-opacity="0.5" stroke-width="0.75" fill="none"/>
<path d="M422.45 527.41V541.01M421.45 527.41H423.45M421.45 541.01H423.45" stroke="#8f8f8f" stroke-width="0.75" fill="none"/>
<path d="M422.45 534.21V541.01M421.45 541.01H423.45" stroke="#202020" stroke-opacity="0.5" stroke-width="0.75" fill="none"/>
<path d="M427.05 533.69V539.96M426.05 533.69H428.05M426.05 539.96H428.05" stroke="#8f8f8f" stroke-width="0.75" fill="none"/>
<path d="M427.05 536.82V539.96M426.05 539.96H428.05" stroke="#202020" stroke-opacity="0.5" stroke-width="0.75" fill="none"/>
<path d="M438.22 507.53V515.90M437.22 507.53H439.22M437.22 515.90H439.22" stroke="#8f8f8f" stroke-width="0.75" fill="none"/>
<path d="M438.22 511.72V515.90M437.22 515.90H439.22" stroke="#202020" stroke-opacity="0.5" stroke-width="0.75" fill="none"/>
<path d="M442.82 516.95V530.55M441.82 516.95H443.82M441.82 530.55H443.82" stroke="#8f8f8f" stroke-width="0.75" fill="none"/>
<path d="M442.82 523.75V530.55M441.82 530.55H443.82" stroke="#202020" stroke-opacity="0.5" stroke-width="0.75" fill="none"/>
<path d="M447.42 507.01V520.61M446.42 507.01H448.42M446.42 520.61H448.42" stroke="#8f8f8f" stroke-width="0.75" fill="none"/>
<path d="M447.42 513.81V520.61M446.42 520.61H448.42" stroke="#202020" stroke-opacity="0.5" stroke-width="0.75" fill="none"/>
<path d="M452.02 523.23V529.50M451.02 523.23H453.02M451.02 529.50H453.02" stroke="#8f8f8f" stroke-width="0.75" fill="none"/>
<path d="M452.02 526.36V529.50M451.02 529.50H453.02" stroke="#202020" stroke-opacity="0.5" stroke-width="0.75" fill="none"/>
<path d="M463.18 503.35V510.67M462.18 503.35H464.18M462.18 510.67H464.18" stroke="#8f8f8f" stroke-width="0.75" fill="none"/>
<path d="M463.18 507.01V510.67M462.18 510.67H464.18" stroke="#202020" stroke-opacity="0.5" stroke-width="0.75" fill="none"/>
<path d="M467.78 510.15V520.61M466.78 510.15H468.78M466.78 520.61H468.78" stroke="#8f8f8f" stroke-width="0.75" fill="none"/>
<path d="M467.78 515.38V520.61M466.78 520.61H468.78" stroke="#202020" stroke-opacity="0.5" stroke-width="0.75" fill="none"/>
<path d="M472.38 496.03V509.63M471.38 496.03H473.38M471.38 509.63H473.38" stroke="#8f8f8f" stroke-width="0.75" fill="none"/>
<path d="M472.38 502.83V509.63M471.38 509.63H473.38" stroke="#202020" stroke-opacity="0.5" stroke-width="0.75" fill="none"/>
<path d="M476.98 514.86V521.13M475.98 514.86H477.98M475.98 521.13H477.98" stroke="#8f8f8f" stroke-width="0.75" fill="none"/>
<path d="M476.98 518.00V521.13M475.98 521.13H477.98" stroke="#202020" stroke-opacity="0.5" stroke-width="0.75" fill="none"/>
<path d="M488.15 504.40V511.72M487.15 504.40H489.15M487.15 511.72H489.15" stroke="#8f8f8f" stroke-width="0.75" fill="none"/>
<path d="M488.15 508.06V511.72M487.15 511.72H489.15" stroke="#202020" stroke-opacity="0.5" stroke-width="0.75" fill="none"/>
<path d="M492.75 513.29V524.79M491.75 513.29H493.75M491.75 524.79H493.75" stroke="#8f8f8f" stroke-width="0.75" fill="none"/>
<path d="M492.75 519.04V524.79M491.75 524.79H493.75" stroke="#202020" stroke-opacity="0.5" stroke-width="0.75" fill="none"/>
<path d="M497.35 500.74V513.29M496.35 500.74H498.35M496.35 513.29H498.35" stroke="#8f8f8f" stroke-width="0.75" fill="none"/>
<path d="M497.35 507.01V513.29M496.35 513.29H498.35" stroke="#202020" stroke-opacity="0.5" stroke-width="0.75" fill="none"/>
<path d="M501.95 510.15V517.47M500.95 510.15H502.95M500.95 517.47H502.95" stroke="#8f8f8f" stroke-width="0.75" fill="none"/>
<path d="M501.95 513.81V517.47M500.95 517.47H502.95" stroke="#202020" stroke-opacity="0.5" stroke-width="0.75" fill="none"/>
<path d="M513.12 521.66V527.93M512.12 521.66H514.12M512.12 527.93H514.12" stroke="#8f8f8f" stroke-width="0.75" fill="none"/>
<path d="M513.12 524.79V527.93M512.12 527.93H514.12" stroke="#202020" stroke-opacity="0.5" stroke-width="0.75" fill="none"/>
<path d="M517.72 541.53V553.04M516.72 541.53H518.72M516.72 553.04H518.72" stroke="#8f8f8f" stroke-width="0.75" fill="none"/>
<path d="M517.72 547.28V553.04M516.72 553.04H518.72" stroke="#202020" stroke-opacity="0.5" stroke-width="0.75" fill="none"/>
<path d="M522.32 533.16V546.76M521.32 533.16H523.32M521.32 546.76H523.32" stroke="#8f8f8f" stroke-width="0.75" fill="none"/>
<path d="M522.32 539.96V546.76M521.32 546.76H523.32" stroke="#202020" stroke-opacity="0.5" stroke-width="0.75" fill="none"/>
<path d="M526.92 516.95V523.23M525.92 516.95H527.92M525.92 523.23H527.92" stroke="#8f8f8f" stroke-width="0.75" fill="none"/>
<path d="M526.92 520.09V523.23M525.92 523.23H527.92" stroke="#202020" stroke-opacity="0.5" stroke-width="0.75" fill="none"/>
<path d="M538.08 528.98V536.30M537.08 528.98H539.08M537.08 536.30H539.08" stroke="#8f8f8f" stroke-width="0.75" fill="none"/>
<path d="M538.08 532.64V536.30M537.08 536.30H539.08" stroke="#202020" stroke-opacity="0.5" stroke-width="0.75" fill="none"/>
<path d="M542.68 554.08V565.59M541.68 554.08H543.68M541.68 565.59H543.68" stroke="#8f8f8f" stroke-width="0.75" fill="none"/>
<path d="M542.68 559.84V565.59M541.68 565.59H543.68" stroke="#202020" stroke-opacity="0.5" stroke-width="0.75" fill="none"/>
<path d="M547.28 547.81V560.36M546.28 547.81H548.28M546.28 560.36H548.28" stroke="#8f8f8f" stroke-width="0.75" fill="none"/>
<path d="M547.28 554.08V560.36M546.28 560.36H548.28" stroke="#202020" stroke-opacity="0.5" stroke-width="0.75" fill="none"/>
<path d="M551.88 521.66V527.93M550.88 521.66H552.88M550.88 527.93H552.88" stroke="#8f8f8f" stroke-width="0.75" fill="none"/>
<path d="M551.88 524.79V527.93M550.88 527.93H552.88" stroke="#202020" stroke-opacity="0.5" stroke-width="0.75" fill="none"/>
<path d="M563.05 532.12V538.39M562.05 532.12H564.05M562.05 538.39H564.05" stroke="#8f8f8f" stroke-width="0.75" fill="none"/>
<path d="M563.05 535.25V538.39M562.05 538.39H564.05" stroke="#202020" stroke-opacity="0.5" stroke-width="0.75" fill="none"/>
<path d="M567.65 559.84V571.34M566.65 559.84H568.65M566.65 571.34H568.65" stroke="#8f8f8f" stroke-width="0.75" fill="none"/>
<path d="M567.65 565.59V571.34M566.65 571.34H568.65" stroke="#202020" stroke-opacity="0.5" stroke-width="0.75" fill="none"/>
<path d="M572.25 555.13V567.68M571.25 555.13H573.25M571.25 567.68H573.25" stroke="#8f8f8f" stroke-width="0.75" fill="none"/>
<path d="M572.25 561.40V567.68M571.25 567.68H573.25" stroke="#202020" stroke-opacity="0.5" stroke-width="0.75" fill="none"/>
<path d="M576.85 524.79V531.07M575.85 524.79H577.85M575.85 531.07H577.85" stroke="#8f8f8f" stroke-width="0.75" fill="none"/>
<path d="M576.85 527.93V531.07M575.85 531.07H577.85" stroke="#202020" stroke-opacity="0.5" stroke-width="0.75" fill="none"/>
<path d="M588.02 531.59V537.87M587.02 531.59H589.02M587.02 537.87H589.02" stroke="#8f8f8f" stroke-width="0.75" fill="none"/>
<path d="M588.02 534.73V537.87M587.02 537.87H589.02" stroke="#202020" stroke-opacity="0.5" stroke-width="0.75" fill="none"/>
<path d="M592.62 560.36V572.91M591.62 560.36H593.62M591.62 572.91H593.62" stroke="#8f8f8f" stroke-width="0.75" fill="none"/>
<path d="M592.62 566.63V572.91M591.62 572.91H593.62" stroke="#202020" stroke-opacity="0.5" stroke-width="0.75" fill="none"/>
<path d="M597.22 557.22V569.77M596.22 557.22H598.22M596.22 569.77H598.22" stroke="#8f8f8f" stroke-width="0.75" fill="none"/>
<path d="M597.22 563.50V569.77M596.22 569.77H598.22" stroke="#202020" stroke-opacity="0.5" stroke-width="0.75" fill="none"/>
<path d="M601.82 526.36V531.59M600.82 526.36H602.82M600.82 531.59H602.82" stroke="#8f8f8f" stroke-width="0.75" fill="none"/>
<path d="M601.82 528.98V531.59M600.82 531.59H602.82" stroke="#202020" stroke-opacity="0.5" stroke-width="0.75" fill="none"/>
<path d="M612.98 530.55V538.91M611.98 530.55H613.98M611.98 538.91H613.98" stroke="#8f8f8f" stroke-width="0.75" fill="none"/>
<path d="M612.98 534.73V538.91M611.98 538.91H613.98" stroke="#202020" stroke-opacity="0.5" stroke-width="0.75" fill="none"/>
<path d="M617.58 557.22V568.73M616.58 557.22H618.58M616.58 568.73H618.58" stroke="#8f8f8f" stroke-width="0.75" fill="none"/>
<path d="M617.58 562.97V568.73M616.58 568.73H618.58" stroke="#202020" stroke-opacity="0.5" stroke-width="0.75" fill="none"/>
<path d="M622.18 553.04V566.63M621.18 553.04H623.18M621.18 566.63H623.18" stroke="#8f8f8f" stroke-width="0.75" fill="none"/>
<path d="M622.18 559.84V566.63M621.18 566.63H623.18" stroke="#202020" stroke-opacity="0.5" stroke-width="0.75" fill="none"/>
<path d="M626.78 530.55V536.82M625.78 530.55H627.78M625.78 536.82H627.78" stroke="#8f8f8f" stroke-width="0.75" fill="none"/>
<path d="M626.78 533.69V536.82M625.78 536.82H627.78" stroke="#202020" stroke-opacity="0.5" stroke-width="0.75" fill="none"/>
<path d="M637.95 534.73V542.05M636.95 534.73H638.95M636.95 542.05H638.95" stroke="#8f8f8f" stroke-width="0.75" fill="none"/>
<path d="M637.95 538.39V542.05M636.95 542.05H638.95" stroke="#202020" stroke-opacity="0.5" stroke-width="0.75" fill="none"/>
<path d="M642.55 556.17V567.68M641.55 556.17H643.55M641.55 567.68H643.55" stroke="#8f8f8f" stroke-width="0.75" fill="none"/>
<path d="M642.55 561.93V567.68M641.55 567.68H643.55" stroke="#202020" stroke-opacity="0.5" stroke-width="0.75" fill="none"/>
<path d="M647.15 551.47V564.02M646.15 551.47H648.15M646.15 564.02H648.15" stroke="#8f8f8f" stroke-width="0.75" fill="none"/>
<path d="M647.15 557.74V564.02M646.15 564.02H648.15" stroke="#202020" stroke-opacity="0.5" stroke-width="0.75" fill="none"/>
<path d="M651.75 537.35V543.62M650.75 537.35H652.75M650.75 543.62H652.75" stroke="#8f8f8f" stroke-width="0.75" fill="none"/>
<path d="M651.75 540.48V543.62M650.75 543.62H652.75" stroke="#202020" stroke-opacity="0.5" stroke-width="0.75" fill="none"/>
<path d="M662.92 536.30V543.62M661.92 536.30H663.92M661.92 543.62H663.92" stroke="#8f8f8f" stroke-width="0.75" fill="none"/>
<path d="M662.92 539.96V543.62M661.92 543.62H663.92" stroke="#202020" stroke-opacity="0.5" stroke-width="0.75" fill="none"/>
<path d="M667.52 554.61V565.07M666.52 554.61H668.52M666.52 565.07H668.52" stroke="#8f8f8f" stroke-width="0.75" fill="none"/>
<path d="M667.52 559.84V565.07M666.52 565.07H668.52" stroke="#202020" stroke-opacity="0.5" stroke-width="0.75" fill="none"/>
<path d="M672.12 549.38V562.97M671.12 549.38H673.12M671.12 562.97H673.12" stroke="#8f8f8f" stroke-width="0.75" fill="none"/>
<path d="M672.12 556.17V562.97M671.12 562.97H673.12" stroke="#202020" stroke-opacity="0.5" stroke-width="0.75" fill="none"/>
<path d="M676.72 542.58V549.90M675.72 542.58H677.72M675.72 549.90H677.72" stroke="#8f8f8f" stroke-width="0.75" fill="none"/>
<path d="M676.72 546.24V549.90M675.72 549.90H677.72" stroke="#202020" stroke-opacity="0.5" stroke-width="0.75" fill="none"/>
<line x1="382.30" y1="588.60" x2="382.30" y2="590.60" stroke="#b0b0b0" stroke-width="0.6"/>
<line x1="407.27" y1="588.60" x2="407.27" y2="590.60" stroke="#b0b0b0" stroke-width="0.6"/>
<line x1="432.23" y1="588.60" x2="432.23" y2="590.60" stroke="#b0b0b0" stroke-width="0.6"/>
<line x1="457.20" y1="588.60" x2="457.20" y2="590.60" stroke="#b0b0b0" stroke-width="0.6"/>
<line x1="482.17" y1="588.60" x2="482.17" y2="590.60" stroke="#b0b0b0" stroke-width="0.6"/>
<line x1="507.13" y1="588.60" x2="507.13" y2="590.60" stroke="#b0b0b0" stroke-width="0.6"/>
<line x1="532.10" y1="588.60" x2="532.10" y2="590.60" stroke="#b0b0b0" stroke-width="0.6"/>
<line x1="557.07" y1="588.60" x2="557.07" y2="590.60" stroke="#b0b0b0" stroke-width="0.6"/>
<line x1="582.03" y1="588.60" x2="582.03" y2="590.60" stroke="#b0b0b0" stroke-width="0.6"/>
<line x1="607.00" y1="588.60" x2="607.00" y2="590.60" stroke="#b0b0b0" stroke-width="0.6"/>
<line x1="631.97" y1="588.60" x2="631.97" y2="590.60" stroke="#b0b0b0" stroke-width="0.6"/>
<line x1="656.93" y1="588.60" x2="656.93" y2="590.60" stroke="#b0b0b0" stroke-width="0.6"/>
<line x1="681.90" y1="588.60" x2="681.90" y2="590.60" stroke="#b0b0b0" stroke-width="0.6"/>
<text x="377.90" y="590.71" font-size="6.4" text-anchor="end" fill="#0d0d0d" stroke="#0d0d0d" stroke-width="0.3">0</text>
<line x1="380.30" y1="588.60" x2="382.30" y2="588.60" stroke="#b0b0b0" stroke-width="0.6"/>
<text x="377.90" y="569.79" font-size="6.4" text-anchor="end" fill="#0d0d0d" stroke="#0d0d0d" stroke-width="0.3">2</text>
<line x1="380.30" y1="567.68" x2="382.30" y2="567.68" stroke="#b0b0b0" stroke-width="0.6"/>
<text x="377.90" y="548.87" font-size="6.4" text-anchor="end" fill="#0d0d0d" stroke="#0d0d0d" stroke-width="0.3">4</text>
<line x1="380.30" y1="546.76" x2="382.30" y2="546.76" stroke="#b0b0b0" stroke-width="0.6"/>
<text x="377.90" y="527.95" font-size="6.4" text-anchor="end" fill="#0d0d0d" stroke="#0d0d0d" stroke-width="0.3">6</text>
<line x1="380.30" y1="525.84" x2="382.30" y2="525.84" stroke="#b0b0b0" stroke-width="0.6"/>
<text x="377.90" y="507.03" font-size="6.4" text-anchor="end" fill="#0d0d0d" stroke="#0d0d0d" stroke-width="0.3">8</text>
<line x1="380.30" y1="504.92" x2="382.30" y2="504.92" stroke="#b0b0b0" stroke-width="0.6"/>
<text x="377.90" y="486.11" font-size="6.4" text-anchor="end" fill="#0d0d0d" stroke="#0d0d0d" stroke-width="0.3">10</text>
<line x1="380.30" y1="484.00" x2="382.30" y2="484.00" stroke="#b0b0b0" stroke-width="0.6"/>
<text x="395.18" y="599.98" font-size="7.2" text-anchor="middle" textLength="11.90" lengthAdjust="spacingAndGlyphs" fill="#0d0d0d" stroke="#0d0d0d" stroke-width="0.3">JAN</text>
<text x="420.15" y="599.98" font-size="7.2" text-anchor="middle" textLength="11.90" lengthAdjust="spacingAndGlyphs" fill="#0d0d0d" stroke="#0d0d0d" stroke-width="0.3">FEB</text>
<text x="445.12" y="599.98" font-size="7.2" text-anchor="middle" textLength="14.62" lengthAdjust="spacingAndGlyphs" fill="#0d0d0d" stroke="#0d0d0d" stroke-width="0.3">MAR</text>
<text x="470.08" y="599.98" font-size="7.2" text-anchor="middle" textLength="12.58" lengthAdjust="spacingAndGlyphs" fill="#0d0d0d" stroke="#0d0d0d" stroke-width="0.3">APR</text>
<text x="495.05" y="599.98" font-size="7.2" text-anchor="middle" textLength="14.05" lengthAdjust="spacingAndGlyphs" fill="#0d0d0d" stroke="#0d0d0d" stroke-width="0.3">MAY</text>
<text x="520.02" y="599.98" font-size="7.2" text-anchor="middle" textLength="11.90" lengthAdjust="spacingAndGlyphs" fill="#0d0d0d" stroke="#0d0d0d" stroke-width="0.3">JUN</text>
<text x="544.98" y="599.98" font-size="7.2" text-anchor="middle" textLength="11.56" lengthAdjust="spacingAndGlyphs" fill="#0d0d0d" stroke="#0d0d0d" stroke-width="0.3">JUL</text>
<text x="569.95" y="599.98" font-size="7.2" text-anchor="middle" textLength="13.60" lengthAdjust="spacingAndGlyphs" fill="#0d0d0d" stroke="#0d0d0d" stroke-width="0.3">AUG</text>
<text x="594.92" y="599.98" font-size="7.2" text-anchor="middle" textLength="11.22" lengthAdjust="spacingAndGlyphs" fill="#0d0d0d" stroke="#0d0d0d" stroke-width="0.3">SEP</text>
<text x="619.88" y="599.98" font-size="7.2" text-anchor="middle" textLength="13.26" lengthAdjust="spacingAndGlyphs" fill="#0d0d0d" stroke="#0d0d0d" stroke-width="0.3">OCT</text>
<text x="644.85" y="599.98" font-size="7.2" text-anchor="middle" textLength="13.60" lengthAdjust="spacingAndGlyphs" fill="#0d0d0d" stroke="#0d0d0d" stroke-width="0.3">NOV</text>
<text x="669.82" y="599.98" font-size="7.2" text-anchor="middle" textLength="12.92" lengthAdjust="spacingAndGlyphs" fill="#0d0d0d" stroke="#0d0d0d" stroke-width="0.3">DEC</text>
<text x="523.80" y="607.78" font-size="7.2" textLength="17.50" lengthAdjust="spacingAndGlyphs" fill="#0d0d0d" stroke="#0d0d0d" stroke-width="0.3">Month</text>
<text transform="translate(368.88 529.30) rotate(-90)" x="0" y="0" font-size="6.7" text-anchor="middle" textLength="88.00" lengthAdjust="spacingAndGlyphs" fill="#1a1a1a" stroke="#1a1a1a" stroke-width="0.3">Evaporation  Rate (mm/day)</text>
<text x="408.50" y="472.50" font-size="8.8" textLength="209.10" lengthAdjust="spacingAndGlyphs" fill="#0d0d0d" stroke="#0d0d0d" stroke-width="0.3">Average Evaporation Rates at  Thandava  Reservoir (2015–2020)</text>
<text x="388.00" y="495.30" font-size="8.8" textLength="10.90" lengthAdjust="spacingAndGlyphs" fill="#0d0d0d" stroke="#0d0d0d" stroke-width="0.3">(h)</text>
<rect x="528.00" y="486.95" width="3.10" height="3.10" fill="#1a2fe0"/>
<text x="532.70" y="490.64" font-size="7.4" textLength="111.40" lengthAdjust="spacingAndGlyphs" fill="#0d0d0d" stroke="#0d0d0d" stroke-width="0.3">Average of (2015-2020)Penman Equation</text>
<rect x="528.00" y="495.55" width="3.10" height="3.10" fill="#ed7d31"/>
<text x="532.70" y="499.24" font-size="7.4" textLength="111.39" lengthAdjust="spacingAndGlyphs" fill="#0d0d0d" stroke="#0d0d0d" stroke-width="0.3">Average of (2015-2020)Meyer`s Equation</text>
<rect x="528.00" y="503.35" width="3.10" height="3.10" fill="#00b050"/>
<text x="532.70" y="507.04" font-size="7.4" textLength="114.93" lengthAdjust="spacingAndGlyphs" fill="#0d0d0d" stroke="#0d0d0d" stroke-width="0.3">Average of (2015-2020)Rohwer's Equation</text>
<rect x="528.00" y="511.95" width="3.10" height="3.10" fill="#7030a0"/>
<text x="532.70" y="515.64" font-size="7.4" textLength="130.32" lengthAdjust="spacingAndGlyphs" fill="#0d0d0d" stroke="#0d0d0d" stroke-width="0.3">Average of (2015-2020)Blaney Criddle Equation</text>
</svg>
</body></html>
